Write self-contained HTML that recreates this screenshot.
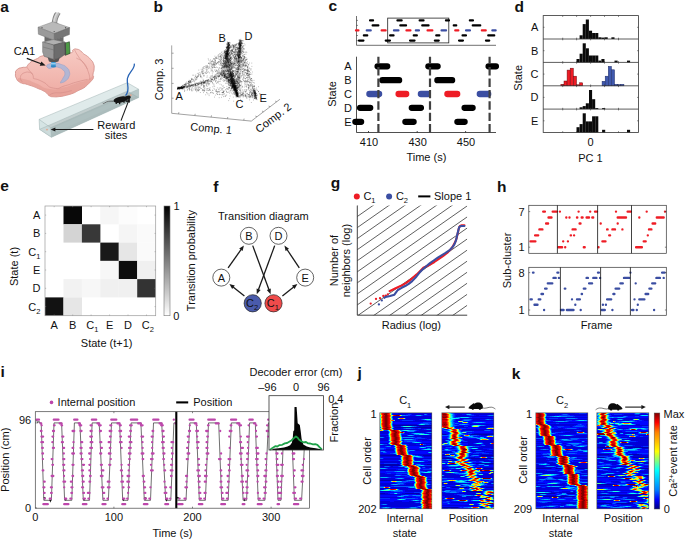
<!DOCTYPE html><html><head><meta charset="utf-8"><title>fig</title><style>html,body{margin:0;padding:0;background:#fff}svg{display:block}text{font-family:"Liberation Sans",sans-serif}</style></head><body>
<svg width="685" height="540" viewBox="0 0 685 540" font-family="Liberation Sans, sans-serif" font-size="11" fill="#111">
<rect width="685" height="540" fill="#fff"/>
<text x=".3" y="11.8" font-size="15.5" font-weight="bold">a</text>
<defs><linearGradient id="brg" x1="0" y1="0" x2="0" y2="1"><stop offset="0" stop-color="#f7cbc4"/><stop offset="1" stop-color="#eeaaa2"/></linearGradient><linearGradient id="cab" x1="0" y1="0" x2="1" y2="0"><stop offset="0" stop-color="#777"/><stop offset=".5" stop-color="#c4c4c4"/><stop offset="1" stop-color="#777"/></linearGradient></defs>
<clipPath id="brc"><path d="M15.5 73.5C15.7 70.4 15.1 71.5 17.2 69.6C19.3 67.6 18.8 68.5 21.8 67.6C24.9 66.7 24.2 68 26.4 66.9C28.6 65.8 26.4 66.3 28.4 64.3C30.4 62.3 29.3 63 32.3 61C35.4 59.1 34.1 60.1 37.6 58.4C41.1 56.6 37.2 57.2 42.8 55.8C48.5 54.4 45.7 55.1 54.7 54.2C63.7 53.3 63.7 54.6 69.8 53.1C75.9 51.7 70.7 51.2 73.1 49.9C75.5 48.5 74.4 48.8 77 49.2C79.6 49.6 78.8 49.6 80.9 51.2C83.1 52.7 81.4 52 83.6 53.8C85.8 55.5 85.1 54.5 87.5 56.4C89.9 58.4 88.8 57.3 90.8 59.7C92.8 62.1 92.3 60.6 93.4 63.6C94.5 66.7 94.2 65.4 94.1 68.9C94 72.4 93.3 71.3 93 74.2C92.8 77 94 75.3 93.4 77.4C92.9 79.6 93 78.8 91.5 80.7C89.9 82.7 90.4 81.8 88.8 83.4C87.3 84.9 88.6 83.8 86.9 85.3C85.1 86.9 86.4 86.2 83.6 88C80.7 89.7 81.8 88.8 78.3 90.6C74.8 92.3 77 91.7 73.1 93.2C69.1 94.7 70.9 94.1 66.5 95.2C62.1 96.3 64.3 96 59.9 96.5C55.5 97 56.9 97 53.4 96.8C49.9 96.5 51.6 97 49.4 95.8C47.2 94.7 49 95 46.8 93.2C44.6 91.5 45.7 92.1 42.8 90.6C40 89.1 41.3 89.9 38.2 88.6C35.2 87.3 36.5 87.7 33.6 86.6C30.8 85.5 32.3 86.2 29.7 85.3C27.1 84.5 28.2 84.7 25.8 84C23.4 83.4 24.7 84.1 22.5 83.4C20.3 82.6 21.2 83.3 19.2 81.8C17.2 80.2 17.8 81.5 16.6 78.8C15.3 76 15.3 76.6 15.5 73.5Z"/></clipPath>
<path d="M15.5 73.5C15.7 70.4 15.1 71.5 17.2 69.6C19.3 67.6 18.8 68.5 21.8 67.6C24.9 66.7 24.2 68 26.4 66.9C28.6 65.8 26.4 66.3 28.4 64.3C30.4 62.3 29.3 63 32.3 61C35.4 59.1 34.1 60.1 37.6 58.4C41.1 56.6 37.2 57.2 42.8 55.8C48.5 54.4 45.7 55.1 54.7 54.2C63.7 53.3 63.7 54.6 69.8 53.1C75.9 51.7 70.7 51.2 73.1 49.9C75.5 48.5 74.4 48.8 77 49.2C79.6 49.6 78.8 49.6 80.9 51.2C83.1 52.7 81.4 52 83.6 53.8C85.8 55.5 85.1 54.5 87.5 56.4C89.9 58.4 88.8 57.3 90.8 59.7C92.8 62.1 92.3 60.6 93.4 63.6C94.5 66.7 94.2 65.4 94.1 68.9C94 72.4 93.3 71.3 93 74.2C92.8 77 94 75.3 93.4 77.4C92.9 79.6 93 78.8 91.5 80.7C89.9 82.7 90.4 81.8 88.8 83.4C87.3 84.9 88.6 83.8 86.9 85.3C85.1 86.9 86.4 86.2 83.6 88C80.7 89.7 81.8 88.8 78.3 90.6C74.8 92.3 77 91.7 73.1 93.2C69.1 94.7 70.9 94.1 66.5 95.2C62.1 96.3 64.3 96 59.9 96.5C55.5 97 56.9 97 53.4 96.8C49.9 96.5 51.6 97 49.4 95.8C47.2 94.7 49 95 46.8 93.2C44.6 91.5 45.7 92.1 42.8 90.6C40 89.1 41.3 89.9 38.2 88.6C35.2 87.3 36.5 87.7 33.6 86.6C30.8 85.5 32.3 86.2 29.7 85.3C27.1 84.5 28.2 84.7 25.8 84C23.4 83.4 24.7 84.1 22.5 83.4C20.3 82.6 21.2 83.3 19.2 81.8C17.2 80.2 17.8 81.5 16.6 78.8C15.3 76 15.3 76.6 15.5 73.5Z" fill="url(#brg)" stroke="#cf8a84" stroke-width=".8"/>
<path d="M17.9 79.4C17.9 76.8 19.6 78.1 25.8 79.4C31.9 80.7 28.4 80.2 36.3 83.4C44.2 86.5 40.7 87.5 49.4 88.9C58.2 90.3 53.8 89.4 62.6 87.6C71.3 85.7 66.9 86.2 75.7 83.4C84.5 80.5 82.3 82.4 88.8 78.9C95.4 75.4 92.8 71.4 95.4 72.8C98 74.3 100.7 76.8 96.7 83.4C92.8 89.9 95.8 87.3 83.6 92.6C71.3 97.8 73.5 98.2 59.9 99.1C46.4 100 54.2 99.1 42.8 95.2C31.5 91.2 34.1 92.6 25.8 87.3C17.4 82 17.9 82 17.9 79.4Z" fill="#e29a92" fill-opacity=".55" clip-path="url(#brc)"/>
<path d="M26.8 67.1C27.8 68.4 27.8 68.6 29.7 71C31.6 73.5 31.4 72 32.6 74.4C33.8 76.9 33.1 77.1 33.4 78.4" fill="none" stroke="#d28c86" stroke-width=".6"/>
<path d="M21 75.2C22.1 74.4 21.4 73.8 24.2 72.8C27 71.9 26.6 71.8 29.4 72.3C32.2 72.8 31.5 73.7 32.6 74.4" fill="none" stroke="#d28c86" stroke-width=".6"/>
<path d="M21 75.2C20.9 76.4 20 76.6 20.5 78.9C21 81.2 21.9 81 22.6 82" fill="none" stroke="#d28c86" stroke-width=".6"/>
<path d="M33.4 78.4C36.5 79.5 36.2 78.5 42.8 81.8C49.5 85 45.9 86.8 53.4 88.1C60.8 89.4 57.7 87.7 65.2 85.7C72.6 83.8 68.2 84.4 75.7 82.3C83.1 80.2 83.6 80.4 87.5 79.4" fill="none" stroke="#d28c86" stroke-width=".6"/>
<path d="M74.6 50C76 52.3 75.3 51.9 78.6 56.8C81.9 61.7 81.3 59.4 84.6 64.7C88 70 86.8 67.8 88.6 72.8C90.3 77.9 89.4 77.6 89.9 79.9" fill="none" stroke="#d28c86" stroke-width=".6"/>
<path d="M76.4 58.1C78.6 59.5 79.3 58.7 83.1 62.3C86.8 66 86 66.9 87.5 69.2" fill="none" stroke="#d28c86" stroke-width=".6"/>
<path d="M49.4 95.8C50.7 95 49 94.3 53.4 93.2C57.7 92.1 56.4 93.4 62.6 92.6C68.7 91.7 68.7 91.2 71.8 90.6" fill="none" stroke="#d28c86" stroke-width=".6"/>
<path d="M46.8 65.6C47.3 64.5 47.1 64.7 49.4 63.9C51.8 63.2 51.1 63 54.7 63.1C58.2 63.3 57.7 63.2 61.2 64.4C64.8 65.7 64.1 65.1 66.5 67.3C68.9 69.5 68.7 69 69.4 71.8C70.1 74.6 69.9 74.1 68.9 76.8C67.8 79.5 68 78.9 65.8 80.7C63.6 82.5 63 82.4 61.5 82.8C60 83.2 60.3 83.4 60.7 82C61.1 80.7 61.6 81 62.8 78.4C64.1 75.8 65 76 64.9 73.4C64.8 70.8 64.4 71.4 62.6 69.7C60.7 68 61.3 68.4 58.9 67.6C56.4 66.8 57 66.8 54.4 67.1C51.8 67.3 52.3 68.2 50.2 68.4C48.2 68.5 48.6 68.4 47.6 67.6C46.6 66.8 46.2 66.7 46.8 65.6Z" fill="#a7b5d9" fill-opacity=".85" stroke="#8d9dc9" stroke-width=".5"/>
<path d="M54.4,25 C54.4,21 55.2,16.5 58.4,12.2" fill="none" stroke="#858585" stroke-width="5.4"/>
<path d="M54.4,25 C54.4,21 55.2,16.5 58.4,12.2" fill="none" stroke="#bdbdbd" stroke-width="3.6"/>
<path d="M53.7,25 C53.7,21 54.5,16.5 57.7,12" fill="none" stroke="#d8d8d8" stroke-width="1.3"/>
<rect x="52" y="9" width="12" height="3.4" fill="#fff"/>
<ellipse cx="54.6" cy="24.6" rx="3.9" ry="1.9" fill="#c9c9c9" stroke="#777" stroke-width=".5"/>
<polygon points="38,27.2 53,21.8 69.6,27.6 54.4,33.6" fill="#b9b9b9" stroke="#777" stroke-width=".4"/>
<polygon points="38,27.2 54.4,33.6 54.4,40.4 38.4,34.2" fill="#9a9a9a" stroke="#666" stroke-width=".4"/>
<polygon points="54.4,33.6 69.6,27.6 69.4,34.6 54.4,40.4" fill="#767676" stroke="#555" stroke-width=".4"/>
<circle cx="42" cy="27.6" r=".7" fill="#555"/><circle cx="65.6" cy="27.8" r=".7" fill="#555"/><circle cx="54.2" cy="31.6" r=".7" fill="#555"/>
<polygon points="44.5,36.5 54,40.2 63.5,36.8 63.5,42.5 54,46 44.5,42.5" fill="#6a6a6a"/>
<polygon points="42.6,42 53.2,39.6 64.8,42 53.9,45" fill="#b0b0b0" stroke="#666" stroke-width=".4"/>
<polygon points="42.6,42 53.9,45 53.9,59.4 44.2,56.4 42.6,52" fill="#979797" stroke="#5a5a5a" stroke-width=".4"/>
<polygon points="53.9,45 64.8,42 64.8,54.6 60,58 53.9,59.4" fill="#6c6c6c" stroke="#505050" stroke-width=".4"/>
<line x1="43" y1="47" x2="53.9" y2="50" stroke="#6a6a6a" stroke-width=".5"/>
<polygon points="65,43.2 69.4,41.8 70,53.4 65.4,55.2" fill="#4c9a45" stroke="#2c4a2c" stroke-width=".7"/>
<polygon points="64.6,42.4 65.8,42.2 66.2,55 64.8,55.4" fill="#4a4a4a"/>
<polygon points="47.6,57.2 54,59.4 59.8,57.6 58.4,61.6 53.6,62.8 49,61.4" fill="#555"/>
<rect x="51" y="62" width="4.8" height="4.6" rx="1" fill="#3f9bd6"/>
<rect x="51" y="63.3" width="4.8" height="1" fill="#bfe2f6"/>
<ellipse cx="53.4" cy="66.4" rx="2.6" ry="1" fill="#2f86c4"/>
<text x="13.7" y="54.7">CA1</text>
<line x1="26.8" y1="58.4" x2="41" y2="63.8" stroke="#1a1a1a" stroke-width="1.2"/>
<polygon points="45.6,65.6 39.8,65.7 41.3,61.6" fill="#1a1a1a"/>
<polygon points="39.1,119.4 127.2,82.7 138.6,89.2 138.6,97.6 51.4,137.3 39.6,129.4" fill="#dfeaea"/>
<polygon points="39.6,129.4 127.2,91.2 138.6,97.6 51.4,137.3" fill="#c2cdcd"/>
<polygon points="45,131.6 131,94.2 135.5,96.6 49.5,135" fill="#cbd7d7"/>
<polygon points="50.7,127.7 138.6,89.2 138.6,97.6 51.4,137.3" fill="#9db0b0" fill-opacity=".6"/>
<polygon points="39.1,119.4 50.7,127.7 51.4,137.3 39.6,129.4" fill="#cfe0e0" fill-opacity=".6"/>
<g fill="none" stroke="#9fb2b2" stroke-width=".5"><polygon points="39.1,119.4 127.2,82.7 138.6,89.2 138.6,97.6 51.4,137.3 39.6,129.4"/><polyline points="39.1,119.4 50.7,127.7 138.6,89.2"/><polyline points="50.7,127.7 51.4,137.3"/><polyline points="39.6,129.4 127.2,91.2 138.6,97.6"/><polyline points="127.2,82.7 127.2,91.2"/></g>
<circle cx="47" cy="129.6" r=".9" fill="#e4a58c"/><circle cx="130.8" cy="95.2" r=".9" fill="#e4a58c"/>
<path d="M134.3,63.6 C135.3,69 128.6,72 127.4,78.5 C126.3,85 130.8,89 125.6,95.6" fill="none" stroke="#2763b5" stroke-width="1.3"/>
<path d="M113.6,101.4 C110,100.6 107,101.4 104.6,103 C103.6,103.6 103,103.4 102.6,102.8" fill="none" stroke="#333" stroke-width=".6"/>
<g fill="#141414"><ellipse cx="120.6" cy="99.6" rx="7.2" ry="3" transform="rotate(-12 120.6 99.6)"/><ellipse cx="127.8" cy="97.6" rx="3" ry="1.9" transform="rotate(-15 127.8 97.6)"/><rect x="115.6" y="100.8" width="1.3" height="3.2"/><rect x="119" y="101" width="1.3" height="3.2"/><rect x="123.4" y="100" width="1.2" height="2.8"/><rect x="125.6" y="99.4" width="1.2" height="2.6"/></g>
<text x="116.3" y="129.3" text-anchor="middle">Reward</text>
<text x="116" y="139.4" text-anchor="middle">sites</text>
<line x1="93.4" y1="129.5" x2="54.9" y2="129.5" stroke="#1a1a1a" stroke-width="1.1"/>
<polygon points="50.6,129.5 55.4,127.6 55.4,131.4" fill="#1a1a1a"/>
<line x1="121" y1="120.6" x2="128.3" y2="101.6" stroke="#1a1a1a" stroke-width="1.1"/>
<polygon points="129.9,97.6 129.9,102.8 126.4,101.4" fill="#1a1a1a"/>
<text x="153.6" y="11.8" font-size="15.5" font-weight="bold">b</text>
<g stroke="#8c8c8c" stroke-width=".8" fill="none">
<polyline points="171.7,45.4 171.7,113.3 251.3,121.1 279.9,99.3"/>
<line x1="171.7" y1="53.2" x2="173.6" y2="53.2"/>
<line x1="171.7" y1="68.3" x2="173.6" y2="68.3"/>
<line x1="171.7" y1="83.4" x2="173.6" y2="83.4"/>
<line x1="171.7" y1="98.2" x2="173.6" y2="98.2"/>
<line x1="178.5" y1="114" x2="178.9" y2="112.2"/>
<line x1="194.8" y1="115.6" x2="195.2" y2="113.8"/>
<line x1="211.1" y1="117.2" x2="211.5" y2="115.4"/>
<line x1="227.4" y1="118.8" x2="227.8" y2="117"/>
<line x1="243.7" y1="120.4" x2="244.1" y2="118.6"/>
<line x1="257" y1="116.7" x2="255.4" y2="116.1"/>
<line x1="263.6" y1="111.7" x2="262" y2="111.1"/>
<line x1="270.2" y1="106.7" x2="268.6" y2="106.1"/>
<line x1="276.8" y1="101.7" x2="275.2" y2="101.1"/>
</g>
<text x="163.2" y="79.5" text-anchor="middle" transform="rotate(-90 163.2 79.5)">Comp. 3</text>
<text x="210.8" y="132.2" text-anchor="middle" transform="rotate(5.6 210.8 132.2)">Comp. 1</text>
<text x="275.6" y="120.8" text-anchor="middle" transform="rotate(-37.3 275.6 120.8)">Comp. 2</text>
<text x="175.4" y="100">A</text>
<text x="218.6" y="42.2">B</text>
<text x="244.6" y="40.3">D</text>
<text x="235.6" y="107.8">C</text>
<text x="259.6" y="102">E</text>
<path d="M178.6 87.7h.01M179 88h.01M177.5 88.3h.01M182.8 87.5h.01M178.2 87.7h.01M179 88.3h.01M180.9 87.5h.01M177.6 88.4h.01M178.2 88.4h.01M178.8 88.3h.01M179.6 87.5h.01M180.8 87.8h.01M185.8 86.6h.01M181.5 87.8h.01M179.3 88.6h.01M179.4 87.8h.01M184.5 86.8h.01M178.7 88h.01M184.6 86.8h.01M180.9 87.4h.01M177.3 89.4h.01M182.4 87.6h.01M178.7 88.7h.01M177.7 88.2h.01M178.2 88.1h.01M181.4 88h.01M178.1 89.5h.01M182.3 88.2h.01M177.6 88.9h.01M182.1 88.5h.01M178.2 89.1h.01M178.7 88.4h.01M177.6 88.2h.01M180.3 88.1h.01M183.9 86.8h.01M183.4 87.3h.01M184 86.6h.01M178.1 87.3h.01M179.1 88h.01M180.5 87.9h.01M178.1 88.3h.01M181.5 88.4h.01M180.5 88.1h.01M182 87.7h.01M180.7 87.4h.01M178.8 88.1h.01M177.7 88.9h.01M178 88.8h.01M180.7 88.2h.01M184.3 86.9h.01M181.2 87.5h.01M178.8 88.5h.01M181.6 87.5h.01M180.2 87.8h.01M178.9 88.2h.01M180.1 86.9h.01M181.7 86.7h.01M183.5 87.5h.01M184 86.6h.01M182.8 86.9h.01M180.4 88.1h.01M181.3 88.1h.01M185.4 86.1h.01M179.1 87.5h.01M179.5 87.9h.01M182.6 87.6h.01M179.8 88.7h.01M179.1 87.3h.01M178.8 88.3h.01M181.4 87.9h.01M183.5 86.5h.01M183.3 87.6h.01M177.5 88.7h.01M184.2 86.6h.01M180.4 88h.01M180.3 87.2h.01M182 87.4h.01M177.8 88.5h.01M177.7 88.6h.01M179.5 88.8h.01M184.6 86.7h.01M177.9 88.3h.01M181.3 87.4h.01M182.7 87.4h.01M180.4 88.2h.01M178.4 88.4h.01M180.3 87.9h.01M181.5 86.6h.01M181.5 88.1h.01M178.7 88.4h.01M181.8 87.9h.01M178.7 87.7h.01M180.8 87.3h.01M182.6 87.2h.01M184.1 86.6h.01M178.8 87.3h.01M178.2 87.8h.01M183 87.1h.01M181.3 88.4h.01M182.3 86.7h.01M179.3 87.6h.01M183.9 86.5h.01M179.5 87.7h.01M179.3 88.4h.01M180.3 87.4h.01M177.9 88.2h.01M182.7 87.7h.01M182.6 87.5h.01M179.8 87.1h.01M181.9 87.4h.01M221.4 75.3h.01M202.8 83.4h.01M206.5 80.4h.01M204.2 82.5h.01M217.1 76.7h.01M217.9 76.7h.01M205.3 82.5h.01M201.9 82.6h.01M220.6 74.4h.01M213.8 77.5h.01M211 80.2h.01M199.4 83.6h.01M191.2 85.8h.01M199.5 82.5h.01M200.7 83.5h.01M207.4 80.8h.01M214.4 78.3h.01M189.3 85.8h.01M195.2 84.5h.01M212.5 79.8h.01M190.8 86.5h.01M198.6 84.1h.01M203.4 82.7h.01M207 80.1h.01M215.5 75.8h.01M189.7 85.2h.01M218.6 76.6h.01M220.4 78.8h.01M218.7 76.7h.01M211.6 79.5h.01M214.7 78h.01M184.2 87.5h.01M179.7 88.6h.01M219.7 75.6h.01M202.2 81.9h.01M210 80.2h.01M184.3 87.5h.01M202.2 82.4h.01M187.8 87.4h.01M222.8 73.9h.01M182.1 87.6h.01M212.8 79.3h.01M201.7 82.9h.01M179.1 87.5h.01M186.7 86.8h.01M197.8 84.4h.01M203.8 82.7h.01M214.3 76.2h.01M206.7 81.4h.01M203.3 82.6h.01M191.7 85.4h.01M214.1 77.5h.01M219.7 75h.01M213.4 77.6h.01M212.1 79.6h.01M201.1 83.3h.01M207.5 80.3h.01M220.2 74.3h.01M207.9 79.9h.01M197.8 84.3h.01M210.7 77.4h.01M179.4 87.7h.01M190.7 85.9h.01M187.9 86.6h.01M191.1 85.6h.01M203.1 82.5h.01M221.4 72.6h.01M181.9 87.2h.01M181.1 87.8h.01M201 83.8h.01M208.4 81.7h.01M197.5 83.7h.01M195.7 85.4h.01M204.3 83h.01M193.1 85.4h.01M181.1 88.4h.01M197.7 83.7h.01M182 87.7h.01M182.6 87.4h.01M201.4 83h.01M203.9 82h.01M201.6 83.1h.01M207.2 81.9h.01M200 83.6h.01M203.6 82.9h.01M208.6 80.3h.01M204.4 82.2h.01M204.9 82.3h.01M212 79.4h.01M218.8 74.8h.01M195.5 85.5h.01M203.9 81.3h.01M213 79.3h.01M223.7 73.3h.01M180.9 88h.01M198.3 83.6h.01M204 82.3h.01M208.5 79.7h.01M195.8 84.5h.01M194.8 83.8h.01M182.8 88.1h.01M207.3 80.4h.01M198.5 84.9h.01M195 83.1h.01M193.2 84.8h.01M218.8 75.9h.01M183.5 87.3h.01M182.3 87.4h.01M209.5 81.2h.01M182.5 88.1h.01M182.4 88.1h.01M210.2 80.2h.01M195.4 84.1h.01M184.2 86.7h.01M221.5 74.8h.01M199.3 83.1h.01M192.7 85.9h.01M218.6 76.9h.01M195.5 85h.01M197.1 85h.01M213 77.5h.01M205.2 82.9h.01M218 76.5h.01M201.7 82.3h.01M220.4 73.2h.01M181.2 87.5h.01M183.3 87.8h.01M219.9 76.6h.01M185.6 86.4h.01M190.5 86.8h.01M202.9 81.8h.01M195.4 84.7h.01M200.6 82.6h.01M211.6 79.1h.01M214.9 75.9h.01M215.9 76.2h.01M220.4 73.9h.01M211.2 78.7h.01M198.9 84.7h.01M222 74.5h.01M188.1 86.6h.01M222.4 74.8h.01M183.8 86.7h.01M187.7 86.8h.01M205.7 81.4h.01M184 87.6h.01M189.8 85.4h.01M189.5 86.6h.01M187 86.3h.01M204.3 81.3h.01M191.9 85.1h.01M193.5 84.5h.01M201.1 83.2h.01M221 74.1h.01M202.5 82.3h.01M222 73.5h.01M178.9 88.2h.01M214.3 76.8h.01M186.4 87.2h.01M191.4 85.4h.01M208.4 80.7h.01M204.1 83.2h.01M179 87.6h.01M216.2 77.8h.01M212 79.9h.01M201.3 83h.01M216.5 78.3h.01M198.4 83.8h.01M216.1 78.4h.01M203.7 83.5h.01M193.2 85.8h.01M190.9 85.8h.01M195.3 84h.01M193.1 85.2h.01M215.7 77h.01M196.1 83.3h.01M204.4 81.9h.01M223.1 72.2h.01M206.4 83h.01M203.1 83.9h.01M196.4 83.2h.01M188.1 85.4h.01M216.5 73.3h.01M194.6 84.4h.01M186.8 87.9h.01M211.8 81.6h.01M215.3 76.6h.01M189.8 86.7h.01M201.1 85.7h.01M196.2 83.6h.01M214.3 76.3h.01M194.1 85.1h.01M196 79.7h.01M212.5 75.2h.01M179.2 88.7h.01M210.1 81.8h.01M203.1 79.3h.01M208.7 84.1h.01M216.5 75.1h.01M203.7 85h.01M217.8 73.7h.01M218.2 83h.01M207.7 81.7h.01M188.5 85h.01M195.5 84.4h.01M203.6 86.6h.01M186.3 86.3h.01M203.1 81.3h.01M224.1 75.5h.01M209.1 83.9h.01M193.2 84.9h.01M205.7 80.6h.01M204.4 82.3h.01M190.1 86.4h.01M207.6 83.4h.01M209.8 81.1h.01M216.5 78h.01M201.6 84.6h.01M206 83.9h.01M190.1 85.3h.01M211.1 81.4h.01M187.1 86.6h.01M198.4 84.5h.01M210.3 76.1h.01M204.7 82.9h.01M214.7 78.3h.01M206.8 80.4h.01M199.2 84.1h.01M196 85.9h.01M218.4 72.4h.01M211.6 81.7h.01M182.8 88.4h.01M201.5 83.1h.01M208.7 79.5h.01M192.3 85.9h.01M184.1 86.4h.01M210.6 78.5h.01M215.6 81.8h.01M205.5 81.3h.01M216.5 80.1h.01M222.9 74.9h.01M192.6 85.8h.01M219.7 73.6h.01M195 84.4h.01M180.8 87.5h.01M206.4 80.8h.01M201.1 84.6h.01M221.1 74.4h.01M214.5 79.4h.01M189.7 84.1h.01M187.8 85.8h.01M219.2 76.7h.01M209.7 83.8h.01M217.2 75.2h.01M212.6 78.8h.01M182.6 88.4h.01M211.4 80.8h.01M188.7 84.1h.01M194.5 81.7h.01M206 83.1h.01M218.8 73.5h.01M213.1 83.9h.01M197.2 83.2h.01M180.3 87.4h.01M190.8 85.4h.01M192.2 84.5h.01M191.1 85.3h.01M219.4 76h.01M200.2 81.6h.01M218.3 75.4h.01M203.2 80.5h.01M209.3 77.8h.01M203.7 80.4h.01M203.9 82.1h.01M215.5 81.1h.01M187.8 86.9h.01M214.6 76.4h.01M201.8 85.3h.01M204.2 83.3h.01M207 77.3h.01M187.4 86.8h.01M199.9 83.6h.01M191.3 85.3h.01M216 74.4h.01M214.5 79.4h.01M194.6 85.6h.01M205.5 80.7h.01M208.9 83.4h.01M186.9 87.4h.01M212 76.4h.01M181.3 86.8h.01M190.2 81.6h.01M203.6 66.9h.01M184.6 84.4h.01M180.8 88.5h.01M185.4 84.5h.01M200.5 75h.01M226.3 46.9h.01M190.5 82.8h.01M188.3 81.6h.01M194.9 80.6h.01M211 68.5h.01M212.6 67.2h.01M214.8 62.3h.01M218.3 57.6h.01M215.7 62.1h.01M189.4 82.3h.01M206.7 71.4h.01M188.8 82h.01M203.8 73.8h.01M220.9 60.6h.01M182.2 85.4h.01M193.6 79.9h.01M189.8 82h.01M213.3 66.2h.01M187.5 83.3h.01M214.9 56.2h.01M179.5 88.2h.01M183.6 85.3h.01M215.2 61.6h.01M198.6 76.3h.01M186.3 83.6h.01M193 79.4h.01M185.6 83.5h.01M213.4 62.3h.01M188.9 83.8h.01M196.6 77.6h.01M190 82.4h.01M190.1 81.8h.01M206 65.5h.01M223.6 57.6h.01M223.5 60h.01M216 64.5h.01M190.4 80.7h.01M199.8 75h.01M197.2 77.8h.01M193.7 80.8h.01M203.9 75.3h.01M191.9 81.6h.01M201.3 76.7h.01M209.4 63.2h.01M179.4 87.9h.01M181.8 86.5h.01M201.6 71.1h.01M195.3 78.4h.01M197.8 76.2h.01M191.7 79.5h.01M198.8 70.1h.01M193.8 75.2h.01M213.6 59h.01M198.3 75.9h.01M220.7 57.4h.01M223.7 56.3h.01M203.3 73.5h.01M226.3 54.7h.01M190.1 80.5h.01M178.2 88h.01M189.2 81h.01M204.1 68.4h.01M221.2 58.7h.01M197.3 76.6h.01M212.4 60.3h.01M225.3 51.9h.01M206.5 67.7h.01M196.8 79.2h.01M205.4 72.3h.01M196 79.7h.01M185.6 84.6h.01M183.9 84.8h.01M201.7 71.8h.01M188.5 81.8h.01M181.5 87.5h.01M213.9 63.3h.01M191.4 79.5h.01M195.8 75h.01M216 58.1h.01M209.9 61h.01M219.3 62.3h.01M211.7 67.2h.01M178.1 87h.01M228 56.9h.01M198.7 73.7h.01M224.1 54.8h.01M214.1 64.5h.01M192.8 75.2h.01M184.8 84.9h.01M203.7 70.7h.01M195.3 76.1h.01M191.7 80.7h.01M218.4 61.6h.01M208.5 63.5h.01M186.5 84.3h.01M223.2 58.4h.01M184.9 84.8h.01M208.6 71.9h.01M192.9 81.3h.01M197.2 77.3h.01M182.6 85.9h.01M183.2 86.8h.01M227.8 58.3h.01M200 74.4h.01M200.6 76.5h.01M209.6 64.9h.01M229.9 47.2h.01M202.4 71.6h.01M188.4 83.1h.01M185.6 85.1h.01M214.2 65.3h.01M179.6 89.4h.01M178.1 87.7h.01M216.8 58.1h.01M219.7 56.3h.01M231.7 57.3h.01M198.7 74.3h.01M226.1 56.5h.01M189.5 82.1h.01M211.8 64.1h.01M209 68.4h.01M221.4 57.3h.01M195.7 76.8h.01M211.2 61.7h.01M188.3 83.3h.01M196.3 77.4h.01M202.4 72.9h.01M206.7 70.3h.01M218.8 61.6h.01M185.3 85h.01M225 56.8h.01M214.1 66h.01M213.9 64.7h.01M186.1 85.3h.01M185.7 83.1h.01M211.1 69.8h.01M223.8 53.6h.01M203 71.5h.01M217.9 56.1h.01M209.3 67h.01M189.2 80.3h.01M207.1 72.1h.01M199.2 72.6h.01M225.1 57.8h.01M225.5 49.5h.01M217.2 62.9h.01M226.5 64h.01M203.6 76h.01M214.6 64.8h.01M208.7 60h.01M182.9 85.4h.01M192 79.3h.01M206.3 69.7h.01M192.7 79.2h.01M206.8 67.7h.01M191.9 78.6h.01M210.6 59.9h.01M218.7 62.7h.01M184.7 85.5h.01M221 56.6h.01M186.5 84.1h.01M209.8 67.2h.01M226.7 56.9h.01M220.5 55.4h.01M211.1 65.9h.01M195.1 79.6h.01M191.3 78.4h.01M189.2 84h.01M202.7 73.9h.01M221.3 52.7h.01M190.5 82.3h.01M213.2 64.7h.01M200.7 77.2h.01M200.8 73.1h.01M197.3 73.4h.01M196 76.4h.01M206.5 73.4h.01M194.6 77.8h.01M203.2 72.9h.01M212.6 61.1h.01M181.5 86.6h.01M202.3 73.7h.01M211.8 63.1h.01M201.9 77.8h.01M190.6 81.1h.01M220.5 56.7h.01M209.4 72.9h.01M182.8 86.2h.01M212.8 61.6h.01M222.3 56.2h.01M207.8 67.5h.01M200.9 75.8h.01M214.5 67h.01M220.9 56h.01M208.2 58.8h.01M181.4 86.5h.01M212.3 73.1h.01M189 82.4h.01M198.6 75.1h.01M186.5 82.1h.01M214.7 67.5h.01M214.5 62h.01M205.8 73.5h.01M234.4 93.6h.01M197 89.3h.01M185.5 87.6h.01M210.4 92.8h.01M187.6 89.5h.01M196.1 88.2h.01M204.2 90.6h.01M202.9 89.6h.01M233.3 97.1h.01M189.3 88.5h.01M199.4 87.5h.01M234.5 94.5h.01M188.6 86.9h.01M222.2 95.1h.01M181 88.8h.01M230.8 89h.01M181 88.6h.01M196.7 91.7h.01M195.3 89.9h.01M234.5 92.2h.01M209.8 89.4h.01M196.1 88.2h.01M198.3 90.8h.01M197.8 90.7h.01M181.8 88.1h.01M207.3 90.2h.01M192.9 90h.01M195.8 89.7h.01M222.1 92.5h.01M202.7 90.1h.01M215.7 90.7h.01M212.2 92.9h.01M212.4 90.3h.01M204.1 90.3h.01M182.5 88.8h.01M195 87.7h.01M226.7 94.9h.01M225.2 96h.01M225.9 95.6h.01M227.6 88.7h.01M182.1 88.1h.01M209.6 89.6h.01M222.1 92.5h.01M222.4 92.3h.01M217.9 94.5h.01M237.3 93.7h.01M219.6 94.6h.01M198.9 90.6h.01M184.8 90.5h.01M184.4 89.8h.01M216.3 91.4h.01M184.5 91.5h.01M212.9 90.3h.01M199.2 89.3h.01M186.9 87.7h.01M179.7 88.7h.01M220.9 90.5h.01M215.3 95.1h.01M184.8 87.9h.01M213.6 93.5h.01M187.2 90.3h.01M206.8 92.8h.01M225.2 96.5h.01M208.7 90.3h.01M219.6 94.2h.01M219.4 91.3h.01M182.9 87.5h.01M216.9 93.8h.01M216.6 90.3h.01M203.8 90.6h.01M224.7 94h.01M233 94.3h.01M209.8 90.5h.01M189.7 88.1h.01M230.1 96h.01M192.1 90.9h.01M217.5 94.4h.01M217.3 87.9h.01M214.5 97.1h.01M219.2 97.7h.01M220.9 94.5h.01M179.2 88.1h.01M195.8 90.4h.01M206.8 92.4h.01M191.6 89.2h.01M189.7 86.8h.01M210.3 90.3h.01M207.1 86.5h.01M223.9 93.7h.01M229.4 98.6h.01M191 89.6h.01M224.5 91.1h.01M210.7 92.6h.01M240.4 99.4h.01M222.3 94.3h.01M184.1 88.4h.01M233.7 101.2h.01M182.1 88.1h.01M177.9 87.1h.01M221.7 88.2h.01M211.7 92.2h.01M188.2 88.7h.01M209 94h.01M202.3 90.3h.01M201.6 88.5h.01M212.9 92.6h.01M197.1 85.6h.01M243.3 91.9h.01M229.4 93.1h.01M204.5 88.8h.01M210 87.6h.01M180.9 88.2h.01M182.1 89.6h.01M235.4 94.3h.01M225.7 89.6h.01M212.8 86.8h.01M180.2 88.9h.01M237.4 91.2h.01M198.2 90h.01M223.4 96.6h.01M207.7 93.9h.01M205.7 94.8h.01M189.6 89.8h.01M207.1 88.6h.01M192 88.2h.01M209.1 95.6h.01M189.6 90.1h.01M197.6 87h.01M223.6 92.5h.01M223.3 94.7h.01M204.9 90h.01M204.4 86.8h.01M203.6 92.6h.01M221.6 97.3h.01M200.3 92.5h.01M216.7 93.2h.01M178.6 88.3h.01M183 88.1h.01M193.4 86.5h.01M228.7 100.6h.01M186.3 85.7h.01M191.4 90.6h.01M229 85.6h.01M204.5 91.2h.01M195.3 89.2h.01M189.3 89.3h.01M197 90.4h.01M206.6 90.1h.01M216.1 91.4h.01M183.5 89h.01M224.9 62.6h.01M226.5 64.9h.01M224.9 65.2h.01M225.5 53.1h.01M225.9 55.9h.01M227.6 53.3h.01M226.2 57.9h.01M225.6 74h.01M225.7 69.8h.01M224.4 56.7h.01M225.5 64.6h.01M226.2 68.1h.01M224.7 62.3h.01M225.4 62.3h.01M225.7 54h.01M224.1 63h.01M227.5 57.5h.01M227.6 54.9h.01M227.2 63.1h.01M223.6 68.8h.01M228.4 65.4h.01M227.2 70h.01M222.5 65.9h.01M225.8 53.7h.01M220.8 73.9h.01M224.5 60.3h.01M220.6 72.1h.01M227.6 60.1h.01M228.4 66.6h.01M226.1 65.6h.01M226.5 67.2h.01M220.6 63.4h.01M223.9 63.9h.01M225.5 55.7h.01M224.9 74.2h.01M230.3 56.2h.01M227.1 56.7h.01M227.1 55.6h.01M226.4 57.5h.01M228.9 54.2h.01M225.5 64h.01M229.1 53.3h.01M222.6 71.6h.01M228.2 51.6h.01M222.6 66.5h.01M226.8 51.9h.01M229.7 59.6h.01M227.4 54.2h.01M228.4 61h.01M224.1 64.9h.01M225.3 77.3h.01M221.9 66h.01M224.9 59h.01M225.6 71.3h.01M227.8 58.8h.01M228.2 53.1h.01M224.6 50.7h.01M226 58.5h.01M225.1 63h.01M225.3 54.9h.01M226.6 59.1h.01M226 63.3h.01M225.4 73.2h.01M228.3 62h.01M223.9 66.2h.01M226.4 63.8h.01M223.9 61.8h.01M223 58.8h.01M227.1 56.2h.01M226.5 51.9h.01M227.5 57.8h.01M225.4 65.3h.01M225.3 61h.01M225.7 58.3h.01M227 66.4h.01M227.6 52.8h.01M222.8 76.3h.01M226.7 66.4h.01M225.8 60h.01M225.2 57.9h.01M222.8 71.7h.01M222.7 72.9h.01M221.1 74.2h.01M228 70.4h.01M224 62.9h.01M228.2 53.2h.01M225.9 67.4h.01M221.7 68h.01M225.2 65.3h.01M223.9 66.2h.01M224.2 67.1h.01M224 68.8h.01M221.3 65.1h.01M222.3 67.5h.01M227.6 51.2h.01M226.2 58.2h.01M228.8 57.7h.01M223.9 60.7h.01M224.5 66.5h.01M226.2 54.3h.01M219.2 75.7h.01M223.1 67.6h.01M226.4 65.6h.01M228.9 54.8h.01M227.7 54.9h.01M225.2 58.4h.01M225.5 57.3h.01M224.4 58.1h.01M228.9 54.1h.01M223.9 62h.01M221.9 67.2h.01M226.9 66h.01M226.4 53.5h.01M226 57h.01M223.8 61.7h.01M224.3 50.8h.01M224.9 65.8h.01M223.4 64.6h.01M226 56.9h.01M224.4 66.4h.01M224.3 65.2h.01M228.2 63.9h.01M224.8 69.8h.01M224.4 68.3h.01M220.9 68.8h.01M225.1 68.8h.01M223 66.2h.01M225.8 65.9h.01M224.6 66h.01M224.8 55.5h.01M227.5 53.3h.01M228.8 64.6h.01M222.7 67.7h.01M228.9 54.9h.01M221.6 73.3h.01M227.5 66.4h.01M223.1 70.5h.01M229 59.4h.01M224.9 70h.01M226.4 62h.01M227.7 66.4h.01M227.6 55.5h.01M222.4 72h.01M222.7 65.4h.01M222.9 67.7h.01M224.7 63.5h.01M223.8 70.5h.01M221.6 76.7h.01M227.7 71.2h.01M223.7 64h.01M227.1 52.6h.01M225.5 58h.01M223.3 66.9h.01M223 63.7h.01M227.6 56.3h.01M222.7 74.1h.01M225.8 55.9h.01M227 66.8h.01M225.3 56.7h.01M223.3 66h.01M230.4 54.7h.01M227.9 56.4h.01M225.7 52.2h.01M226.3 65.6h.01M231.2 54.2h.01M224.4 75.7h.01M227.9 61.9h.01M225 54.4h.01M225 60.9h.01M227.8 62.5h.01M221.4 70.4h.01M222.1 65.6h.01M223.6 77.2h.01M227.6 71.3h.01M227.4 66.3h.01M222.2 70.4h.01M226.4 53.8h.01M227.5 73.7h.01M223.8 71.6h.01M217.9 71.6h.01M224.4 71.4h.01M221.8 67.8h.01M229 54h.01M225.7 64.6h.01M227.2 60.5h.01M227.4 53.9h.01M226.9 53.5h.01M224.1 72.1h.01M225.6 51.6h.01M225.1 58.5h.01M225.9 58.6h.01M223.7 65.3h.01M230.1 74.2h.01M224.4 67.3h.01M227 60.8h.01M222.2 63.5h.01M225.9 63.3h.01M229.5 60h.01M224.1 75.9h.01M225.1 53.9h.01M226.5 57.1h.01M227.4 56.9h.01M228.1 74.1h.01M225.5 66.4h.01M224.2 53.6h.01M224.6 74.5h.01M225.1 71h.01M226.7 61.3h.01M224.9 63.5h.01M224 61.9h.01M228.1 64.7h.01M223.8 70.3h.01M225.8 53.9h.01M226.7 62.2h.01M224.5 64h.01M226.8 58.6h.01M223.5 71.6h.01M225.6 53.6h.01M220.4 73h.01M230.1 60.5h.01M227.6 56.9h.01M229.8 60.1h.01M231.2 57.4h.01M224.7 52.5h.01M221.2 72.8h.01M223.8 70.4h.01M225.8 62.2h.01M226.7 63h.01M228.2 55.3h.01M224.4 65.1h.01M227.6 57.4h.01M224.9 66.9h.01M221.8 75.7h.01M227 51.8h.01M226.7 60.6h.01M228.9 55.4h.01M224.3 67.1h.01M224.5 65.1h.01M228.1 61.8h.01M227.9 54.6h.01M226.2 71.2h.01M223.5 67.2h.01M226.9 59.5h.01M226 72.5h.01M226.1 54.3h.01M226.4 55.9h.01M227.4 60.5h.01M223.5 74.1h.01M227.5 64.7h.01M226.4 56.8h.01M225.8 56.1h.01M222.5 60.4h.01M227.7 59.3h.01M225.4 56h.01M220.9 74h.01M223.8 61.1h.01M225.5 75.2h.01M229.4 59.2h.01M222 68.7h.01M224 58.8h.01M226.8 49.6h.01M228.2 47.4h.01M228.9 48.6h.01M228.9 45.5h.01M227.4 49.7h.01M226.8 47.9h.01M230 45.7h.01M227.9 49.4h.01M226.7 54.2h.01M227.4 52.5h.01M229.2 51.3h.01M228.9 48.3h.01M229.7 44.6h.01M228.9 48h.01M229.4 45.8h.01M227 50.7h.01M228 45.3h.01M227.7 54.6h.01M227.7 45.1h.01M227.9 53.4h.01M226.4 44.1h.01M226.7 55.2h.01M228.7 48.1h.01M226.5 53.4h.01M227 50.9h.01M228.9 44.7h.01M225.6 53.6h.01M227.5 47.9h.01M226.1 55.4h.01M226.1 51.2h.01M225.6 51.7h.01M225.4 56.3h.01M227.2 48.1h.01M226.8 51.8h.01M227.2 52.7h.01M225.9 54.6h.01M228 46.4h.01M227.5 52.9h.01M228.2 48h.01M227.5 50.8h.01M228.2 45.5h.01M226.1 55.1h.01M228 46.3h.01M228.1 46.2h.01M227.5 50.4h.01M228.5 45.6h.01M226.8 53h.01M227.1 48.2h.01M227.9 43.8h.01M225.2 57.1h.01M226.3 54h.01M227.8 53.9h.01M229.2 44.7h.01M229.5 44.8h.01M228 54.2h.01M225.8 51.4h.01M227.8 52.4h.01M226.4 48h.01M225.8 51.1h.01M227.2 53.8h.01M229.7 45.4h.01M227.1 47.2h.01M227.2 51.5h.01M228.8 45.8h.01M228.3 42.9h.01M227.3 54.7h.01M225.9 52.1h.01M227.2 48.1h.01M227.6 50h.01M228.8 44.7h.01M227.4 49.6h.01M226.9 55.1h.01M229.4 42.9h.01M228.4 43.6h.01M226.7 55.5h.01M228.5 46.8h.01M226.2 54.8h.01M228 48.6h.01M227.2 51.3h.01M226.9 48.9h.01M227.1 47.4h.01M227.5 46.8h.01M228 44.1h.01M229.4 43.8h.01M226.6 55h.01M227.5 47.4h.01M227 43.8h.01M228 48.1h.01M228.7 42.6h.01M227.1 51.9h.01M227.7 46.6h.01M226.7 53.3h.01M226.4 47.7h.01M228.8 44.4h.01M229.3 50.1h.01M228.9 45.1h.01M227.4 53.8h.01M228.4 47.4h.01M229.6 44.5h.01M228.2 49.6h.01M226.3 47.6h.01M227.5 50.2h.01M228.1 45.2h.01M228.4 45.9h.01M227 47.9h.01M227.4 50.3h.01M226.7 52.4h.01M227.8 48h.01M227.9 47h.01M228.5 43.4h.01M226.1 55h.01M227.9 49.6h.01M226 52.7h.01M227.9 46.2h.01M227.8 51.6h.01M226.6 51.4h.01M226.6 49.2h.01M227 53.3h.01M226.1 51.8h.01M227.5 55h.01M228.3 47.5h.01M228.3 51.2h.01M227.5 48.4h.01M227.3 54.4h.01M228.1 51.3h.01M229.3 47h.01M228.9 53.1h.01M228.5 49.8h.01M229.3 48.3h.01M227.2 55.7h.01M227.9 46h.01M227.1 47.6h.01M226.1 47.3h.01M227.9 54.2h.01M228.2 46.7h.01M226.6 50.6h.01M226.4 56h.01M228.8 45.4h.01M227.4 54h.01M228.6 44.2h.01M229.9 47.6h.01M226.3 54.7h.01M227.1 51.5h.01M226.9 46.1h.01M227.7 46.6h.01M226.6 56.2h.01M228.3 54.8h.01M227.7 52.5h.01M228.7 50.7h.01M226.9 53.5h.01M228.4 42.8h.01M227.6 54.5h.01M226.5 50.4h.01M227.7 47.3h.01M226.4 53.1h.01M227.9 49.7h.01M226.8 51.5h.01M228.2 43.4h.01M228.4 46.6h.01M228.2 51.2h.01M229.4 42.4h.01M226.4 51.8h.01M229.1 47.7h.01M227.8 42h.01M226 50.5h.01M227.5 53.1h.01M228.8 48.8h.01M228 50.2h.01M229.5 47.5h.01M228.4 50.8h.01M227.1 51.4h.01M228.3 48.2h.01M228.3 43.8h.01M225.9 56.3h.01M227.7 52.2h.01M228.6 48.7h.01M228 47.5h.01M226.8 56.7h.01M228.9 45.8h.01M226.4 55.5h.01M227.4 50.6h.01M228.1 44.4h.01M227 52.1h.01M228.3 49.5h.01M229.5 44.7h.01M228.2 53.7h.01M227.3 44.4h.01M228.8 52.3h.01M227.3 51.8h.01M229 48.3h.01M228.3 46.9h.01M226.8 51.8h.01M228.4 54.6h.01M226.6 56.5h.01M228.2 43.9h.01M228.9 44.1h.01M227 52.1h.01M228.5 53.8h.01M225.9 53.5h.01M228.6 43.1h.01M228.7 49h.01M228.2 43.1h.01M228.1 46h.01M227.1 48h.01M228.7 46h.01M226.6 53.3h.01M230.1 42.7h.01M226.2 55.6h.01M229.5 45.3h.01M228 50.7h.01M228.3 46.3h.01M227.8 43.4h.01M228.6 47.3h.01M226.4 53.5h.01M227.3 42.3h.01M228.4 43h.01M227.8 50.5h.01M229.4 47.8h.01M227.5 54.3h.01M227.3 45h.01M228.5 44h.01M226.5 54.6h.01M228.2 48.3h.01M227.1 50.5h.01M228.4 50h.01M226.7 54.9h.01M227 46.9h.01M227.7 42.7h.01M228.3 51.7h.01M228.5 46.7h.01M227.7 46.3h.01M226.9 51.9h.01M230 43.8h.01M224.8 55.9h.01M228 43.1h.01M228.7 45.6h.01M228.9 42.9h.01M228.5 49.7h.01M229.2 45.5h.01M227.7 49.6h.01M228.2 45.1h.01M229.3 49.4h.01M227.5 50.7h.01M227.4 53.4h.01M227 54.1h.01M228.7 42.7h.01M226.2 56.7h.01M228.1 53.9h.01M227.3 54.1h.01M228.5 51.3h.01M226 55.3h.01M228.3 50.5h.01M227.2 44.7h.01M227.6 51.7h.01M229.1 49h.01M227 50.4h.01M228.1 48.9h.01M228.1 44.2h.01M225.5 52.5h.01M227.8 50.5h.01M230.5 80.6h.01M231.9 74.5h.01M231.9 63.3h.01M230.4 73.2h.01M226.6 73.8h.01M228.1 60.4h.01M228.8 50.3h.01M230.6 58.7h.01M224.6 58.1h.01M231.2 80.5h.01M228.5 61h.01M231.3 80h.01M231.3 63.6h.01M227.1 60.1h.01M230.5 58h.01M231.2 63.3h.01M227.7 56.3h.01M232.3 63.4h.01M234.5 81.3h.01M232 84.1h.01M226.7 65.6h.01M225.5 57.9h.01M231.5 77.7h.01M225.3 66.7h.01M227.6 70.8h.01M229.1 69.2h.01M230.2 72.3h.01M232.9 64.4h.01M226.2 61.6h.01M230.9 71h.01M227.6 58.3h.01M228.2 60.8h.01M231.2 72.7h.01M229 71.5h.01M230 75.3h.01M231.8 78.8h.01M232.8 72.1h.01M230.3 69.7h.01M225.9 66.6h.01M233.1 81.1h.01M229.2 87.4h.01M230.1 74.2h.01M223.9 52.4h.01M231 71.6h.01M229.8 76.7h.01M228.9 69.1h.01M225.8 53.4h.01M231.5 66.7h.01M225.7 58.7h.01M228.8 57.9h.01M232.4 78.8h.01M236.3 89.3h.01M232.2 53.4h.01M228 66.1h.01M226.2 60.6h.01M234.2 84.1h.01M226.3 67.4h.01M228.5 76.9h.01M230.2 75.2h.01M234.8 83.4h.01M229.4 70.2h.01M226 61.7h.01M230.2 75.5h.01M230.5 65.3h.01M230.8 60.6h.01M228.6 67.3h.01M228.7 66h.01M232.4 85.6h.01M227.2 68.9h.01M227.6 69.6h.01M233.5 85.4h.01M234.3 87.6h.01M232.2 81.3h.01M223.5 59.2h.01M227.3 54.9h.01M226.1 58h.01M232 84.5h.01M232.7 71.2h.01M226.4 62.8h.01M229.8 55.9h.01M223.9 60.1h.01M227.5 61.6h.01M229.1 63.5h.01M231.5 78.7h.01M230.4 66.5h.01M230.9 63.9h.01M230.2 70.5h.01M231.2 74.9h.01M225.9 56h.01M228.5 59.5h.01M224.5 51.7h.01M228.6 74.5h.01M232.9 74.1h.01M228.4 60.3h.01M226.1 57.6h.01M229.3 75.9h.01M231.2 62.9h.01M229.7 65.6h.01M231.2 68.2h.01M232.7 83.7h.01M228.8 71.8h.01M233.7 79.3h.01M231.7 72.4h.01M226.9 62.4h.01M228 74h.01M229.8 64.5h.01M225.7 57.1h.01M230.7 62.1h.01M232.9 79.9h.01M227.7 58.6h.01M232.2 51.3h.01M232.2 65.4h.01M233.8 76h.01M227.7 59.9h.01M232 80.9h.01M230.6 79.1h.01M229.1 60h.01M228.2 69.2h.01M228.4 73.2h.01M230.5 64.5h.01M235.7 83h.01M231.1 77.3h.01M230.7 63.2h.01M226.1 59.6h.01M229.3 73.8h.01M227.1 58.9h.01M227.7 65.6h.01M227 64.7h.01M232.8 76.6h.01M232.2 87.4h.01M229.6 77.8h.01M226.9 65.9h.01M230.5 65.1h.01M230.6 68.4h.01M235.7 83.7h.01M232.7 62.8h.01M225.6 61.2h.01M232.5 72.7h.01M226.8 59.2h.01M225.2 65.6h.01M227.8 61.6h.01M230.9 62.6h.01M229.9 70.6h.01M233.1 83.6h.01M233.3 84.2h.01M226.4 68.6h.01M235.1 77h.01M230.4 71.5h.01M232.1 72.2h.01M225.9 62h.01M227.8 64h.01M228.6 61.8h.01M229.8 68.5h.01M231.3 82.8h.01M230 61.3h.01M232.7 85.8h.01M232.3 78.4h.01M226 59.9h.01M227.9 65h.01M232 68.1h.01M228.3 62.6h.01M235.4 85.5h.01M235.6 79.9h.01M228.5 66.2h.01M227.5 67.5h.01M227.1 53.3h.01M225.4 67.3h.01M232.3 76.2h.01M226.4 59.4h.01M232.5 86.6h.01M230.4 62.7h.01M225 60.5h.01M234.6 86.3h.01M228.9 77.5h.01M231.5 75.9h.01M227.3 60.5h.01M228.8 62.8h.01M230 69.2h.01M227.3 55.8h.01M225.7 58.2h.01M230 79.6h.01M232.6 66h.01M229.5 65h.01M228.2 66.9h.01M232.4 53.9h.01M231.8 87.4h.01M229.4 73.2h.01M228.3 75.4h.01M226.9 56.3h.01M230.5 79h.01M230.6 79.4h.01M229.7 65.9h.01M231.9 53.9h.01M232.2 70.2h.01M232.6 77h.01M228.4 74.8h.01M227.9 63.2h.01M227.6 70.2h.01M227.4 59.3h.01M220.6 59.9h.01M230.2 70.2h.01M232.6 87.7h.01M233.6 78.8h.01M225.1 60.8h.01M230.3 82.5h.01M224.5 51.7h.01M228.5 73.6h.01M229.7 67.7h.01M231.6 80h.01M231.9 71.2h.01M229.2 58.8h.01M228.7 70.1h.01M228.8 63.1h.01M225 52.4h.01M230.3 60.8h.01M232 66.8h.01M229.5 65.2h.01M231.6 64.6h.01M231 77.8h.01M233 80.8h.01M230.2 73.2h.01M228.8 64h.01M223.2 57.5h.01M230.8 74.7h.01M233.8 79.6h.01M228 59.7h.01M225.4 64.1h.01M229.2 58.3h.01M231.7 79.5h.01M235.9 81.7h.01M232.8 73.3h.01M232.3 72.1h.01M231.9 69.3h.01M227.1 65.1h.01M231.7 72h.01M234 83h.01M224.5 52.8h.01M231.4 85.6h.01M233 80.8h.01M229.7 69h.01M228.6 62.4h.01M232 64.8h.01M233.2 76h.01M226.8 58.3h.01M229.1 61.6h.01M226.3 54.6h.01M224.6 52.8h.01M232.2 72h.01M229.5 71.5h.01M225.6 58.7h.01M229.7 71.2h.01M230.4 76.2h.01M225 58h.01M228.7 79.5h.01M234.2 86.2h.01M227.5 61.1h.01M230.5 60.9h.01M232.2 64h.01M229.1 72h.01M230.9 58.5h.01M234.3 63.2h.01M229.3 63.3h.01M235.1 87.5h.01M234.7 75.2h.01M228.3 63.4h.01M230.8 58.3h.01M235 84.8h.01M227.9 53.9h.01M230.6 78h.01M228.3 59.7h.01M228.1 72h.01M227.3 54.2h.01M228.9 56.2h.01M228.9 71.9h.01M230.8 67h.01M225.9 63h.01M225.4 57.2h.01M232.6 84.6h.01M231.8 68.3h.01M229.1 58.1h.01M230.6 73.2h.01M228.3 62.7h.01M231.6 82.1h.01M227.8 62h.01M233.4 86h.01M221.6 57.7h.01M229.1 61.9h.01M231.6 75.3h.01M230.5 73.5h.01M233.3 74.1h.01M232.9 83.6h.01M228.6 71.3h.01M230.3 72.7h.01M230.2 57.5h.01M231.5 52.4h.01M230.7 57.6h.01M225.3 55.7h.01M229.9 63.9h.01M224.5 55.4h.01M232.1 58.7h.01M230.3 67.8h.01M232 77h.01M231 78.8h.01M231.6 68.9h.01M224.3 61.5h.01M232.9 71.3h.01M231.1 73.7h.01M231.4 83.6h.01M225.8 70.3h.01M229.4 65.2h.01M227.9 60.4h.01M227.9 57.3h.01M228.1 64h.01M225.2 51.5h.01M225 54.5h.01M228.5 73.3h.01M234.9 86.5h.01M230.8 78.2h.01M234.9 88.3h.01M230.1 56.3h.01M223.5 61.1h.01M228.4 75.5h.01M236.5 87.1h.01M225.8 60.3h.01M226.8 67h.01M232.8 79.8h.01M230.4 69.5h.01M231.3 78.2h.01M227.6 61.9h.01M229.1 64.4h.01M231.5 75.2h.01M231.6 69.7h.01M230.1 70.3h.01M233.2 80.6h.01M223.8 64.6h.01M230.2 57.4h.01M234.1 86.9h.01M230.1 65.7h.01M232 75.5h.01M230.2 71.7h.01M226.4 58.8h.01M229.1 64.7h.01M233.2 73.9h.01M234.6 86.3h.01M230.4 62.8h.01M234.4 71.2h.01M226.7 58.3h.01M230.6 74.4h.01M233.1 64.9h.01M227.2 60.4h.01M227.8 51.9h.01M226.6 56.5h.01M231.2 71.4h.01M226.7 67h.01M232.6 86.3h.01M227.8 58h.01M228.8 62.3h.01M229.8 82.7h.01M228.3 67.8h.01M229 65.6h.01M229.4 69.6h.01M229.6 66.7h.01M227.3 57h.01M229.5 56.4h.01M233.6 84.3h.01M224.6 63.2h.01M232.6 81.3h.01M225.8 56.9h.01M226.3 55.2h.01M233.1 84.3h.01M228.4 58.2h.01M229.6 68.9h.01M233.4 85.5h.01M234 64h.01M230.8 74.8h.01M226.4 71.3h.01M234.4 87h.01M233.5 87.1h.01M231.7 59.1h.01M231.4 77.7h.01M232.6 87.9h.01M227.8 71h.01M234 83.5h.01M233.2 83.5h.01M230.6 64.2h.01M231.3 53.2h.01M231 69.4h.01M231.7 79.9h.01M228.4 66.6h.01M225.8 64.2h.01M230.7 66.3h.01M234.9 80.1h.01M231.7 74.1h.01M235 85.7h.01M232 88.4h.01M229.9 76.6h.01M230 60h.01M235.2 86.6h.01M231.4 77.1h.01M233.4 81.5h.01M225.2 65.4h.01M226.8 53.1h.01M232.1 67.4h.01M233.4 84.9h.01M224.9 62.7h.01M236.2 86.2h.01M233.5 84.7h.01M225.2 58.1h.01M229.3 55.7h.01M230.5 62.5h.01M231.5 63.2h.01M229.6 67.7h.01M229.6 74.8h.01M226.3 71.9h.01M227.7 59.7h.01M227.5 65.4h.01M228.5 61.9h.01M229.8 69.8h.01M230.1 79.5h.01M226.2 59.6h.01M234.6 87.5h.01M234.9 85.1h.01M231.3 77.2h.01M233.3 76.4h.01M236.9 92.9h.01M237 93.1h.01M236.1 81.6h.01M234.5 87.5h.01M230.7 76.2h.01M234.3 86.9h.01M237.3 94.4h.01M228.9 78h.01M234 83.4h.01M233.4 80.4h.01M234.7 89.5h.01M227.7 77.5h.01M232.3 86.6h.01M234.3 85.9h.01M234.3 88.2h.01M232.9 82h.01M232.6 76.4h.01M237.7 95.5h.01M236 91.4h.01M230.3 73.4h.01M232.4 76.8h.01M234 84.7h.01M235.8 74.5h.01M237.2 94.7h.01M237.1 93.7h.01M237.1 87.9h.01M236.1 93.8h.01M238.3 94.1h.01M236.2 89.8h.01M231.1 81.8h.01M235.6 86.7h.01M236.5 92.8h.01M237.1 94.5h.01M235.5 89.5h.01M236.2 95.4h.01M230.1 74.6h.01M230.7 76h.01M235.5 88.1h.01M230.6 81.2h.01M237.3 90.3h.01M234.1 83.6h.01M233.3 83.4h.01M236.5 92.7h.01M235.7 89.2h.01M236.5 92.6h.01M230.5 74.9h.01M232.6 76.2h.01M236.7 92.5h.01M233.7 89h.01M232.9 84h.01M235.9 94.2h.01M231.1 73.6h.01M236.3 89.8h.01M234.4 87.2h.01M235.3 92.8h.01M231.5 74.9h.01M236.4 92.2h.01M231.4 83.6h.01M236.7 94.2h.01M233.2 79.6h.01M229.4 75h.01M232.1 83.3h.01M231.1 82.3h.01M235.5 89.5h.01M233.8 79.1h.01M237.6 93.4h.01M233.1 80.3h.01M236.5 95.3h.01M235 88.8h.01M233.2 87.1h.01M236.2 91.9h.01M233.9 78.7h.01M235.7 83.2h.01M236.3 93.2h.01M234.3 82.5h.01M230.6 84.1h.01M234.6 86.2h.01M234.4 88.9h.01M232.6 85.6h.01M235.8 87.4h.01M231 78.2h.01M237.1 90.6h.01M234.4 87.6h.01M235.9 90.9h.01M234.5 88.8h.01M234.6 85.9h.01M233.1 85.3h.01M233.3 87.2h.01M232.3 84.9h.01M234.2 88.4h.01M233.7 79.2h.01M237.6 93.5h.01M234 87.4h.01M229 77.9h.01M236.2 85.9h.01M233.5 85.3h.01M237.1 94h.01M236.7 93.7h.01M234.7 91.1h.01M232.4 83.2h.01M236.2 94h.01M235.4 89.5h.01M233.8 86.6h.01M231.4 78.1h.01M230 78.6h.01M234.1 86.9h.01M231.7 83.1h.01M232.1 74.6h.01M238 94.2h.01M233.5 79.8h.01M233.7 82.8h.01M233.1 85.4h.01M235.1 86.1h.01M235.9 88.8h.01M235.3 88.4h.01M233.4 83h.01M237.2 96h.01M234.5 84h.01M231.4 78h.01M234.9 83.3h.01M232.9 83.1h.01M237.8 95.4h.01M229.6 74.3h.01M236.3 95.6h.01M231.2 78.6h.01M234.1 82h.01M231.9 81.4h.01M231.2 80.5h.01M229.9 77.1h.01M234.5 85.5h.01M232.7 77.8h.01M231.5 80.9h.01M232.8 77.1h.01M234 85.6h.01M234.6 84.3h.01M236.8 88.7h.01M229.1 76.3h.01M234.5 81.4h.01M237.2 93.7h.01M235.9 88.6h.01M236.6 92.5h.01M235.1 89.7h.01M237.6 93.1h.01M232.3 78.2h.01M233.6 86.1h.01M232 81.7h.01M235.5 90.4h.01M232.1 79h.01M231.5 83h.01M237.4 96.4h.01M235.7 85.3h.01M229 72.7h.01M234.3 82h.01M231.7 74.2h.01M235.7 89.6h.01M237 94.1h.01M232.8 86.2h.01M234.3 79.3h.01M234.9 89h.01M234.7 86.3h.01M232.5 81.8h.01M235.7 90.8h.01M235.7 89.4h.01M227.9 71.4h.01M233.4 86h.01M235.7 85.7h.01M234.2 90.9h.01M235.3 91.1h.01M234.6 79.9h.01M229.4 74.5h.01M234.3 89.2h.01M234.3 83.7h.01M236.1 93.6h.01M235 82.8h.01M233.5 86.5h.01M231.4 79.8h.01M230.9 75.1h.01M236.8 89.7h.01M232.6 82.2h.01M232.4 78.8h.01M237.2 94.6h.01M236.6 93.3h.01M234.4 89h.01M230.6 79.1h.01M236.5 93.7h.01M235.3 85.6h.01M237.2 93h.01M235 82.3h.01M234.5 84.2h.01M233.7 84.6h.01M235.2 82.1h.01M236.2 90.6h.01M236.4 91.2h.01M237.9 95.3h.01M236.4 92.1h.01M235.6 90.1h.01M235 87.5h.01M235.3 85.8h.01M233.6 71.3h.01M237.5 90h.01M231 77.4h.01M235 86.7h.01M236.2 90.8h.01M236.9 95h.01M234.2 89.6h.01M234.2 79.6h.01M230.3 76.8h.01M232.7 75.2h.01M237 88.3h.01M237.4 95.7h.01M234.2 88.8h.01M233.7 80.5h.01M234.7 85.7h.01M232.4 82.2h.01M233.7 89.1h.01M232.2 80.3h.01M230.9 74.2h.01M231.7 84.8h.01M231.6 74h.01M236.1 92.9h.01M234.7 87.6h.01M230.4 73.9h.01M237.5 97h.01M231.9 81.1h.01M234.2 82.3h.01M234.6 82.4h.01M235.6 92h.01M235.1 89.3h.01M238.3 96.8h.01M235.4 89.1h.01M236.9 90.9h.01M235.8 93.9h.01M234 89.4h.01M234.9 85.4h.01M236.3 91.5h.01M237.7 92.7h.01M231.7 82.9h.01M234.4 87.1h.01M236.5 80.5h.01M235.2 88.8h.01M237.1 94.7h.01M237.3 92.9h.01M234.8 81.7h.01M233.6 79h.01M233.1 86.3h.01M229.1 76.9h.01M232.9 80.7h.01M237.5 94.6h.01M231 82.8h.01M238 94h.01M236.8 90.4h.01M231.6 75.6h.01M230.1 72.8h.01M237.2 94.6h.01M234.5 83.6h.01M233.1 78.1h.01M237.3 95.2h.01M232.8 82.6h.01M236.8 90.8h.01M231 77.4h.01M235.5 83.3h.01M234.5 83.1h.01M230.2 75.6h.01M234.3 90h.01M234.9 80.2h.01M234.6 91.4h.01M235 83.8h.01M237 95.8h.01M232.6 85.7h.01M236.9 93.8h.01M233.8 85.7h.01M237.9 94.3h.01M235.3 86.9h.01M233.9 81.5h.01M232.7 82h.01M233.4 75.6h.01M230.9 79h.01M234.8 86.1h.01M236.2 93.9h.01M235.5 92h.01M235.2 89.5h.01M234.4 82.2h.01M231.1 73.5h.01M234.6 86.1h.01M230.5 77h.01M236.6 93.7h.01M231.6 74.4h.01M231.6 78h.01M236.1 93.5h.01M236.4 92.2h.01M227.1 74.4h.01M234.1 87.8h.01M232.5 84.9h.01M237.3 88.3h.01M237.6 94.8h.01M236.3 92.3h.01M236.4 92.9h.01M236.2 91h.01M237.4 95.6h.01M232.8 78.1h.01M233.8 84.8h.01M231.6 77.2h.01M232.4 78h.01M234.6 83.9h.01M229.1 80.4h.01M233.4 83.6h.01M233.9 80.5h.01M232 77.4h.01M235.4 89.9h.01M232.5 82.1h.01M234.9 86.9h.01M234.7 89.1h.01M232.3 77.5h.01M236.5 93.1h.01M232.4 80.8h.01M237.2 92.6h.01M235.7 89.3h.01M235.5 87.2h.01M229.5 70.8h.01M235.4 88.1h.01M236.7 92.1h.01M237.2 94.5h.01M237.3 93.8h.01M232.5 79.7h.01M232 73.9h.01M234.2 90.6h.01M232.8 86.3h.01M233.9 86.5h.01M235.6 91.2h.01M236.8 96.3h.01M230.4 78.6h.01M236.6 79.1h.01M234.9 87.5h.01M236.5 90.5h.01M234.1 85.8h.01M231.8 76h.01M235.5 87.5h.01M231 77.4h.01M230.3 79.3h.01M232.1 77.1h.01M234.9 86.7h.01M236.9 85.8h.01M235.9 88.4h.01M232.4 80h.01M235 88.7h.01M234 78.4h.01M235.5 91.4h.01M235.2 89.9h.01M234.4 83.5h.01M236.4 91.7h.01M233.7 81h.01M233.1 82.8h.01M235.3 86.7h.01M234.2 80.7h.01M232.1 81.1h.01M230.8 79h.01M233.1 81.7h.01M235.9 92.1h.01M237.3 92.8h.01M232.5 72.3h.01M230 76.6h.01M235.3 87.2h.01M233 80.1h.01M237.5 96h.01M231.3 75.9h.01M237.9 96h.01M237.1 89.3h.01M231.1 82.1h.01M234.1 85.6h.01M235.9 89.1h.01M235.4 90.4h.01M237.8 95.2h.01M238.7 82h.01M233.2 75.1h.01M237.2 96.3h.01M231.6 74.8h.01M232.7 83.9h.01M237.9 96.3h.01M235.9 90.2h.01M233.3 86.6h.01M232.9 75.9h.01M235.4 88.1h.01M236.7 91.8h.01M235.3 87h.01M231.7 76.8h.01M234.6 90.4h.01M230.9 76h.01M231.2 81.9h.01M232 77.1h.01M231.6 76.6h.01M236.8 92.5h.01M234.2 87.8h.01M232.5 86.4h.01M233.6 78.7h.01M234.4 80.9h.01M229.4 73.7h.01M231.7 81.9h.01M235 90.5h.01M230.9 76.3h.01M237.2 91.8h.01M233.6 74.8h.01M233.8 82h.01M234.6 77.6h.01M232.9 73.7h.01M231.7 83.1h.01M237.6 94h.01M233.1 84h.01M232.7 79.8h.01M234.3 86.7h.01M234.5 77.1h.01M233 83.6h.01M238.3 96.1h.01M230.4 75.9h.01M233.3 82.4h.01M236.1 89.8h.01M231.1 79.7h.01M231.7 76h.01M228.4 70.9h.01M235.1 88.3h.01M233.6 86.7h.01M232.3 79.7h.01M233.7 78h.01M235 90.2h.01M231.9 81.4h.01M235.2 85.4h.01M229.5 76h.01M237.8 93.5h.01M233 85.7h.01M231 76.2h.01M236.2 90.5h.01M233.1 75.5h.01M232.6 86.5h.01M236.3 83.4h.01M231.8 81.4h.01M237.2 93.7h.01M232.4 83.4h.01M234.4 88h.01M236.2 88.9h.01M235.2 87.8h.01M235.5 76.7h.01M235.2 87.1h.01M232.3 79.3h.01M236 95.1h.01M236.5 92.6h.01M236.8 96.4h.01M236.6 93.3h.01M237.2 93.1h.01M237.3 88.8h.01M236.3 87.2h.01M233.7 82.9h.01M235.9 93.1h.01M232.7 79.1h.01M229.5 80.8h.01M232.8 81.7h.01M237.2 95.4h.01M233.9 83h.01M234.4 86.8h.01M235.3 92h.01M235.1 86.5h.01M238 96.2h.01M231.7 74.5h.01M232.1 77h.01M236.4 91.3h.01M234.4 84.6h.01M230.1 75.1h.01M234.6 84.1h.01M231.1 79.7h.01M231.5 81.2h.01M238.2 95.1h.01M235.3 85.7h.01M235.7 88.4h.01M234.6 89.3h.01M236.8 95.8h.01M234.5 89.3h.01M234.5 82.2h.01M233.8 84.1h.01M232.9 74h.01M230.8 79.3h.01M233.8 81h.01M237.1 93.8h.01M230.5 72.8h.01M236.8 92.3h.01M228.8 70h.01M234.8 88.3h.01M234.3 89.8h.01M229.6 77.1h.01M227.7 73.3h.01M230.9 72.5h.01M237.6 93.7h.01M233.7 87.3h.01M233.9 88.7h.01M233.2 86.4h.01M236.3 88.4h.01M235.5 89.7h.01M233 76.8h.01M228.4 75.3h.01M234.4 82.7h.01M233.9 85.1h.01M235 87.1h.01M232.1 76.2h.01M232.3 82h.01M235.7 83.2h.01M235.2 91.1h.01M238.4 94h.01M235.2 89.3h.01M232.9 78.8h.01M232.3 74.1h.01M231.5 76.4h.01M234.3 87.5h.01M237.2 95.2h.01M236.2 93.3h.01M236.3 91.7h.01M233.1 73.7h.01M233.2 84.2h.01M233.4 85.7h.01M237.7 96.3h.01M237 93.1h.01M234.3 86.6h.01M230.4 73h.01M234.3 81.1h.01M231.7 78.1h.01M233.3 88.2h.01M231.1 80.5h.01M229.1 74.6h.01M233.4 81.3h.01M232.2 73.8h.01M233.1 83.9h.01M232.2 81.9h.01M236.5 89.3h.01M235.1 89.3h.01M236.2 92.6h.01M233.9 90.5h.01M231 83.4h.01M237.2 94.2h.01M233.3 80.7h.01M233.3 82.5h.01M234.6 86.9h.01M232.7 79.1h.01M232.9 80.8h.01M235.1 89.2h.01M235.2 87.6h.01M235.4 89.7h.01M236.4 91.4h.01M236.6 81.8h.01M236.5 91.9h.01M236.9 93.2h.01M237.5 93.2h.01M237.2 94.3h.01M236.5 92.5h.01M236.4 90.9h.01M232.1 79.1h.01M234.6 88.4h.01M230.1 75.9h.01M232 76.3h.01M233.5 86.4h.01M228.3 72.8h.01M237.6 93.7h.01M232.7 75.6h.01M237.5 95.5h.01M233.3 75h.01M233.3 84h.01M235.2 87.4h.01M235.7 90.7h.01M237.2 88.1h.01M236.7 93.6h.01M230 75.8h.01M237.3 92.8h.01M231.1 74h.01M234.4 81.4h.01M236.3 91.2h.01M234 87.8h.01M233.8 87.4h.01M234.7 89.3h.01M237.2 94.5h.01M232.2 85h.01M237 94.4h.01M237.2 93.3h.01M234.1 87.8h.01M234.3 86.2h.01M231.7 81.7h.01M236.5 96h.01M238.2 95.8h.01M229.1 75.7h.01M228.9 73.7h.01M231.7 81h.01M231.5 80.3h.01M233.4 87.6h.01M236.5 92h.01M234.2 86.1h.01M237.5 94.9h.01M236 94.3h.01M231.8 75h.01M235.5 86.1h.01M237.1 94.2h.01M229.4 74.4h.01M232.3 78.7h.01M236.2 97.4h.01M236.8 90.6h.01M231.6 80.2h.01M231.9 78.1h.01M232.6 81.3h.01M230.7 75.7h.01M237.1 95.4h.01M231.4 73.5h.01M228.6 77.4h.01M236.3 94.7h.01M233.3 73.2h.01M232.7 78.2h.01M233.6 85.8h.01M231.3 78.7h.01M233 75.3h.01M232 83.5h.01M232.9 80.4h.01M235.7 89.9h.01M234.7 89.7h.01M235.3 87.3h.01M234.3 85.5h.01M235.7 92.2h.01M232.1 80.5h.01M233.6 82.4h.01M229.8 76.9h.01M234.8 88h.01M235.5 88.2h.01M234.2 79.7h.01M236.6 96h.01M236.1 88h.01M237.3 95.8h.01M236.3 93.1h.01M235.9 92.6h.01M233.4 87.4h.01M232.9 76h.01M232.9 82.8h.01M236.6 88h.01M233.5 73.3h.01M236.1 91h.01M236.1 87.1h.01M236.3 92.3h.01M230 73h.01M228.4 72.2h.01M232.8 76.6h.01M233.2 74.8h.01M232.9 76.4h.01M231.8 73.7h.01M232.8 76.2h.01M232.3 84h.01M234.5 75h.01M233.1 80.6h.01M234.7 86.4h.01M227.8 77.7h.01M237.5 96.4h.01M231.9 80.8h.01M237.2 96.6h.01M231.6 74.5h.01M236.4 93h.01M228.4 77.3h.01M232.1 83.4h.01M232.3 74.8h.01M237.6 93.4h.01M236.4 90.7h.01M230.4 73.7h.01M234 83.8h.01M231.4 80h.01M237.8 95.9h.01M232.2 82.8h.01M228.6 77.7h.01M235.1 80.1h.01M236.7 83.7h.01M227.1 70.9h.01M232.2 81h.01M236 93.4h.01M235.7 86.4h.01M233.5 86.3h.01M237 95.2h.01M230.9 74.8h.01M234.1 85.3h.01M232.4 79.8h.01M231.4 78.4h.01M232.2 74.1h.01M232.3 76.7h.01M233.9 81.7h.01M236.6 95h.01M235.2 87.2h.01M236.2 92.8h.01M236.4 93.9h.01M236.4 91h.01M237.6 96.4h.01M232.9 84.7h.01M234 83.2h.01M232.5 81.1h.01M231.4 80.3h.01M229.2 79.1h.01M233.7 76h.01M233.6 85h.01M235 85.2h.01M232.7 78.4h.01M234.6 85.1h.01M239.6 45h.01M240 50.7h.01M239.9 54.4h.01M238.5 50.8h.01M240.3 48.1h.01M239.8 40.9h.01M240.7 40.7h.01M240.3 45.2h.01M241.1 43.9h.01M238.3 55.4h.01M240.1 57.6h.01M240.8 50.4h.01M240.9 45.6h.01M239.1 44.7h.01M240.6 44.6h.01M240.5 48.7h.01M237.2 55h.01M239.4 57.3h.01M238.9 48.8h.01M240.3 53.4h.01M238.8 55.2h.01M239.9 44.4h.01M239.9 45.1h.01M239 53.3h.01M242.6 47.5h.01M240.2 47.8h.01M240.7 45.7h.01M238.9 52.1h.01M240.2 43.8h.01M241.8 43.2h.01M241.8 43.2h.01M240 40.1h.01M239.9 47.4h.01M239.6 53.3h.01M240.5 44.7h.01M241.2 40.5h.01M239.2 58.2h.01M241 40.9h.01M239.1 56.8h.01M239.6 47.1h.01M240.7 41.8h.01M242.6 40.5h.01M239 49h.01M237.8 56h.01M238.9 58.3h.01M238.3 59.5h.01M239.7 48.7h.01M239.7 46.7h.01M238.2 58.1h.01M238.9 55.2h.01M239.6 52.5h.01M239.3 45.8h.01M238.7 48h.01M240.4 43.1h.01M240.3 51.2h.01M239 44.3h.01M240.7 45.5h.01M238.4 54.3h.01M240 43.8h.01M240 46.5h.01M239.9 48.4h.01M238.5 57.2h.01M240 47h.01M238.5 48.3h.01M242.1 41.9h.01M239.8 45h.01M240.8 46.4h.01M240.1 45.5h.01M239.2 50.7h.01M241.8 42.8h.01M239.8 46.4h.01M238.6 47.7h.01M239.8 41.3h.01M239.1 52.1h.01M241 49.2h.01M239.7 42.1h.01M240.4 41.8h.01M240.5 46.1h.01M240.8 49.3h.01M238.3 56.4h.01M239.6 47.5h.01M239.6 52.4h.01M240 50.5h.01M240.2 43.3h.01M238.7 57h.01M239.3 51.8h.01M240.8 52.4h.01M238.7 51.7h.01M242 43.2h.01M239.3 57.1h.01M239.9 52h.01M239.5 54.2h.01M239.1 52.8h.01M239.6 43.9h.01M240.7 44.6h.01M240.3 43.7h.01M240.9 44.4h.01M240.4 46.6h.01M240.6 47.6h.01M240.4 40.6h.01M240.7 49.4h.01M239 57.2h.01M241.1 45.1h.01M240.5 40.3h.01M238.6 55.4h.01M239.6 45.7h.01M238.1 53.3h.01M239.6 51.6h.01M240.5 44.2h.01M239 47.8h.01M240.2 41.6h.01M240.1 45.4h.01M240.6 58.6h.01M240.5 51.9h.01M238.9 50.2h.01M240.6 47h.01M241.1 54h.01M240 51.9h.01M241.2 42h.01M239.3 48.4h.01M241 48.5h.01M241.2 48.7h.01M240.6 44.8h.01M239.8 45.4h.01M238.4 56.3h.01M240.9 54.2h.01M240.9 39.3h.01M239.4 51.7h.01M241.6 43.3h.01M239.7 44.3h.01M239.9 44h.01M239.7 39.6h.01M239.9 56.5h.01M241.6 41.6h.01M239.1 43.1h.01M238.7 51.3h.01M240.7 44.1h.01M240.9 50.5h.01M241.3 45.5h.01M239.6 51.1h.01M238.3 54.8h.01M239.3 55.2h.01M239.7 43.3h.01M239.6 48.7h.01M239.6 49.9h.01M239.5 41.7h.01M240.7 48.2h.01M237.9 52.6h.01M239.2 50.1h.01M239.7 46.4h.01M240.3 45.4h.01M238.5 50.6h.01M241.1 52.3h.01M239.4 40.6h.01M240.5 41.8h.01M241.9 42.8h.01M240.7 42.7h.01M238.8 56.5h.01M239.1 47.1h.01M239.9 57.3h.01M239.8 51.8h.01M240.7 45.3h.01M240.6 49.5h.01M238.7 51.7h.01M237.9 57.6h.01M239.8 51.3h.01M238.8 42.4h.01M239.3 50.7h.01M240 45.6h.01M240.4 51h.01M238.8 43.9h.01M240.5 51.6h.01M240.1 40.1h.01M239.9 50.9h.01M240 43.9h.01M239 53.9h.01M239.7 49h.01M241.6 43h.01M239.4 48.8h.01M241.4 44.7h.01M239.3 55.2h.01M239.7 49.2h.01M240.2 45.4h.01M239.2 55.1h.01M241.5 43h.01M240 52.4h.01M240.5 55.7h.01M238.9 54.3h.01M240.4 52.8h.01M238.2 50.1h.01M238.6 56.7h.01M239.5 42.4h.01M239 52.3h.01M240.3 42.7h.01M239.7 54.7h.01M240.7 42.9h.01M240.5 44.9h.01M241.2 50.2h.01M240.8 41.5h.01M241 47.2h.01M239.9 40.6h.01M239.4 44h.01M241.8 40.5h.01M240 54h.01M238.7 43.2h.01M240.6 53.1h.01M238.2 54.8h.01M238 56.3h.01M240.1 48.8h.01M240.7 43.8h.01M240.1 46.4h.01M240.8 48h.01M239.5 44.8h.01M240.9 41.5h.01M239.9 46.2h.01M241.6 40.6h.01M239.2 51.3h.01M239.2 43.2h.01M239.6 48.4h.01M239.2 57.9h.01M240.1 54.2h.01M240.4 47.4h.01M240.5 43h.01M242.1 40.9h.01M239.6 54.4h.01M240.3 46.3h.01M239.1 48.9h.01M241.7 52.3h.01M240.6 50.4h.01M239.6 43.8h.01M239.3 56h.01M238.8 50.6h.01M240 42.6h.01M239.5 48.3h.01M239.6 47.4h.01M240.9 50.1h.01M240.4 40.8h.01M240.7 53.6h.01M238.6 48.6h.01M239.9 42.3h.01M239.6 43.4h.01M239.6 42.2h.01M239.8 42.3h.01M239.2 51.4h.01M240.4 50.8h.01M238.7 54.8h.01M240.5 54.9h.01M239.6 47.8h.01M240.1 46.8h.01M238.5 53.1h.01M239.5 47.2h.01M238.9 40.2h.01M240.5 48.6h.01M240.7 45.4h.01M240.7 46.1h.01M239.3 56.3h.01M239.5 44.4h.01M239.5 52.3h.01M239.3 54.4h.01M238.3 49.5h.01M235.9 83.7h.01M237 82h.01M240.5 69.3h.01M237.4 81.7h.01M241.1 68.9h.01M238.6 83.5h.01M241.6 58.7h.01M236.8 58.8h.01M236.2 82.1h.01M240.2 70.8h.01M238.6 70.9h.01M238.9 63.3h.01M236.4 79.9h.01M236.3 90.3h.01M238.8 63.2h.01M236.8 73.3h.01M236.3 85.8h.01M240.5 71.7h.01M236.7 88.3h.01M239.4 60.8h.01M239.2 64h.01M237.1 80h.01M238.1 87.2h.01M238.6 58.5h.01M236.7 89.3h.01M237.3 56.1h.01M238.6 56.7h.01M240.5 82h.01M237.3 71.7h.01M237.5 69h.01M241 60.7h.01M238.7 86.7h.01M239.7 61.8h.01M236.8 84.8h.01M238.7 60.1h.01M240.9 88.9h.01M236.9 69.4h.01M240.7 61.6h.01M240 71.9h.01M238.6 85.1h.01M237.8 61.6h.01M237.9 87.8h.01M237.6 70.9h.01M238.9 70.3h.01M238.5 82.7h.01M238.4 87.2h.01M239.1 73h.01M236.6 88h.01M241.8 66.5h.01M240.9 67.8h.01M237.3 77.8h.01M237.5 68.9h.01M237 80.1h.01M237.2 88.7h.01M235.4 81.4h.01M236.2 68.5h.01M237.9 86.1h.01M240.1 73.6h.01M238.4 66.8h.01M238.1 64.8h.01M238.5 64.1h.01M236.9 58.3h.01M240.5 52.3h.01M239.6 63h.01M239.7 86h.01M237.3 73.6h.01M235.9 70.8h.01M239 59.5h.01M237.4 67.9h.01M238.1 92.4h.01M239.7 53.9h.01M235.8 66h.01M236.4 58.6h.01M237.4 65.6h.01M237.7 84.3h.01M238.4 69.3h.01M238 82.4h.01M239.9 77.5h.01M239.4 61.8h.01M236.1 91.4h.01M238 61.5h.01M235.3 88.7h.01M239.8 59.2h.01M240.4 57.1h.01M239.8 74h.01M239.1 77.5h.01M237.8 71.3h.01M238.1 53.9h.01M237.8 81.9h.01M238.4 76.8h.01M238 79.8h.01M238.5 55h.01M238.3 59.1h.01M241.1 61.9h.01M239.8 89.8h.01M238.1 75.6h.01M242.4 69.3h.01M236.7 87.5h.01M240.9 85.3h.01M238.5 68h.01M240.2 56.4h.01M238 69.6h.01M237.5 67.1h.01M237.5 62.7h.01M237.6 78.8h.01M237 65.3h.01M237.9 78.2h.01M241.3 64.2h.01M236.9 86.2h.01M239.1 85.2h.01M239.2 80.1h.01M239.4 77.4h.01M241 59.1h.01M238.4 56.3h.01M240.6 56.3h.01M237.4 76.1h.01M239.1 68.9h.01M238.8 68.8h.01M239 58h.01M236.1 91.7h.01M238.8 66.6h.01M237.3 92h.01M240.8 65.8h.01M239.4 57.4h.01M237.3 55.3h.01M238 76.6h.01M238.4 84.1h.01M239.1 55.3h.01M237.3 87.4h.01M238.9 60.7h.01M238.6 69.2h.01M238 62.1h.01M238.4 79.1h.01M239.1 56h.01M239.7 83.9h.01M237.1 72h.01M236 71.4h.01M239.9 66h.01M238.6 57.5h.01M233.6 82.3h.01M241.1 81.9h.01M239.9 68.1h.01M235.4 82.2h.01M238.2 77.1h.01M238.5 83.4h.01M237.4 87.3h.01M238 83.4h.01M237.9 60.7h.01M242.1 66.8h.01M240.5 62.3h.01M242.4 74.7h.01M241.9 62.3h.01M239.4 85h.01M240.9 87.9h.01M239.1 83.6h.01M239.8 77.2h.01M239.7 73.2h.01M240.1 85.4h.01M238.1 62.3h.01M238.7 57.3h.01M235.3 89.2h.01M235.6 57.2h.01M237.2 62.7h.01M236.2 71.4h.01M238.5 61.4h.01M239.4 59.3h.01M237.2 81.4h.01M237.9 74.7h.01M236.7 85.9h.01M239.2 81.8h.01M239.3 65.8h.01M237.1 89h.01M240.2 56.5h.01M236.9 55.4h.01M241 76.6h.01M242 62.1h.01M241.8 60.1h.01M238.8 66.8h.01M240 74h.01M238.8 59.3h.01M236.2 88.2h.01M239.4 60.3h.01M239.8 74.8h.01M239.1 69.9h.01M238.2 55.5h.01M240.8 56.5h.01M238.4 71.9h.01M238.8 57.6h.01M240.4 62.5h.01M240.4 69.8h.01M234.1 63.1h.01M237.4 84.5h.01M237.2 87.9h.01M238.8 67.6h.01M239.9 82h.01M237 85.4h.01M237.9 81.3h.01M235 86.8h.01M237.2 54.7h.01M238.4 87.5h.01M236.5 80.3h.01M240.2 90.4h.01M239.3 60.4h.01M239.4 54.5h.01M236.8 81.9h.01M240.2 81.1h.01M238.7 57.6h.01M238.2 72.1h.01M237.5 82.4h.01M237.7 56.2h.01M238.1 80h.01M237.4 85.4h.01M234.2 75.4h.01M235 83.5h.01M236.1 85.9h.01M239.6 75.5h.01M239.5 78.5h.01M237.9 73.8h.01M239.3 57.5h.01M238.4 61.1h.01M238.8 60.9h.01M237.3 86.1h.01M238.7 68.1h.01M237.7 78.3h.01M238.9 55.8h.01M238.9 78.4h.01M240 80.5h.01M237.9 68.8h.01M239.8 62.8h.01M237.1 71.7h.01M238.9 58h.01M238.5 80.7h.01M237.2 67.9h.01M238.1 56.7h.01M238.7 75.3h.01M236.8 73.8h.01M238.3 61.2h.01M237.2 81.4h.01M239.2 63.8h.01M239.7 77.5h.01M237.4 71.4h.01M240.8 75.4h.01M237.9 69.4h.01M239.9 76.8h.01M238.9 57.2h.01M238.5 61.3h.01M235.9 75.2h.01M237.8 65.2h.01M239 78.7h.01M238.4 77.4h.01M237.4 55.7h.01M238.3 74.6h.01M237.4 81.9h.01M236 63.3h.01M235.6 85.1h.01M238.5 71.5h.01M235.9 79.3h.01M239.1 86h.01M237.4 90.5h.01M239.2 61.7h.01M240.1 60.1h.01M239.7 66.3h.01M239.8 74.8h.01M238.9 88.8h.01M238.3 62.7h.01M240.1 57.4h.01M239.2 68.3h.01M238.4 77.3h.01M238.9 73.2h.01M239 62.1h.01M237.6 90.7h.01M238.8 77.7h.01M237.3 63.5h.01M237.8 77.2h.01M236.7 89.9h.01M235.6 56.5h.01M237 86.8h.01M239.1 69.3h.01M239.7 82.1h.01M237 59.8h.01M235.9 84.4h.01M239.1 55.4h.01M235.9 78.8h.01M241.4 57.7h.01M239.6 76.5h.01M235.3 76.9h.01M236.1 64.8h.01M238.1 67.7h.01M235.5 88.6h.01M237.9 60.7h.01M238.1 61.8h.01M242.6 79.3h.01M239.4 84.5h.01M241.2 81.3h.01M238.6 89.5h.01M236.7 91.4h.01M239.6 82.9h.01M239.1 65.3h.01M240.2 78.5h.01M242.7 69h.01M232.4 85.3h.01M228 83.5h.01M234.3 88.9h.01M226.6 81.2h.01M225 79.5h.01M228.3 82.8h.01M226.9 77.7h.01M229.1 80.1h.01M229.9 77.6h.01M226.2 75.6h.01M223.9 72.9h.01M233.8 88.8h.01M227.3 78.3h.01M231.2 85.7h.01M222.7 73.1h.01M228.2 79.1h.01M226.2 74.4h.01M228.2 81.8h.01M231 82.7h.01M226.4 78.7h.01M221.7 72.1h.01M232.3 87.6h.01M235.7 88.1h.01M225.4 76.6h.01M226.9 78.2h.01M230.5 84h.01M224.4 76.9h.01M230.3 81.3h.01M224.2 76.2h.01M221.4 73.9h.01M230.2 83.5h.01M228.7 80.3h.01M236.2 85.3h.01M230.5 83.9h.01M228.1 83.9h.01M229.6 79.7h.01M224.5 75.5h.01M228.9 81.3h.01M232.3 85.2h.01M228.3 79.2h.01M234.1 92.5h.01M223.5 73.5h.01M232.5 87.4h.01M229.6 80.6h.01M227.2 78.7h.01M226.6 78.6h.01M227.7 77.5h.01M227.8 76.2h.01M228.5 80.1h.01M231.9 90.2h.01M227 80.1h.01M231.9 86.4h.01M230.8 80.4h.01M224.8 76.1h.01M233.3 85.8h.01M228.9 79.7h.01M227.5 78.5h.01M231.8 86.2h.01M223 70.9h.01M226.3 74.2h.01M226.5 78.1h.01M226.2 76.7h.01M226.4 77.4h.01M225.8 76.6h.01M232.5 87.1h.01M233.9 88.3h.01M224.1 73.1h.01M227.2 82.1h.01M234.4 86.4h.01M231.9 87h.01M230.4 81.5h.01M234.2 89.6h.01M233.2 90.5h.01M227.2 80.1h.01M232 88.8h.01M230.4 85.9h.01M234.3 88.7h.01M233.3 87.1h.01M227.7 80.7h.01M229.5 82.1h.01M230.8 80.1h.01M228.8 80.1h.01M225.2 76.9h.01M224.4 73.5h.01M232.1 86.4h.01M233.6 89.3h.01M226.8 79.9h.01M231.5 81.1h.01M231.2 81.1h.01M224.3 75.8h.01M224 77.3h.01M230.2 85.7h.01M230.1 82h.01M225.4 78.6h.01M222.9 76h.01M231.3 88.9h.01M230.5 83.6h.01M224.3 77.1h.01M228.9 80.7h.01M236.1 90h.01M229 79.4h.01M224.4 77.9h.01M233.3 87.1h.01M234.4 87.7h.01M235.1 85.1h.01M233.5 90.5h.01M233.3 84.1h.01M232.9 86.6h.01M233.8 89.3h.01M232.2 90.1h.01M234.1 85.7h.01M225.4 78.2h.01M232.1 87.7h.01M234.2 87.3h.01M228.7 80h.01M227.3 75.9h.01M227.9 79.3h.01M223 75.1h.01M223.8 74.5h.01M226.5 77.4h.01M225.1 76.8h.01M227 78.1h.01M230.5 85h.01M230.1 79.9h.01M227.9 77.3h.01M224.3 75.2h.01M224.4 77.4h.01M226.8 76.7h.01M232.9 85.3h.01M227.2 81.5h.01M236.8 91h.01M232.2 86.4h.01M233.5 92.8h.01M229.9 81.7h.01M225.4 80.6h.01M232 87.1h.01M228.7 84.5h.01M232.8 82.6h.01M235.2 88.1h.01M224.5 76.4h.01M231.7 87.9h.01M233.3 83.9h.01M224.5 75.3h.01M231.3 82.3h.01M224.5 76.4h.01M230.9 84.9h.01M231.4 86h.01M224.1 72.2h.01M235 83.6h.01M224 75.2h.01M228.6 82h.01M227.7 77.2h.01M227.8 77.5h.01M232.8 85h.01M223.5 77.1h.01M226.7 77.1h.01M225 77.5h.01M224.4 75.7h.01M229.4 82.4h.01M230.4 86h.01M232.9 87.7h.01M228.6 80.8h.01M227.1 77.7h.01M227 78.1h.01M225.3 77.4h.01M231.6 79.2h.01M232 82.5h.01M222.7 75.4h.01M233.4 88.5h.01M223.9 73.7h.01M224.6 77.5h.01M232.9 82.9h.01M232.3 82.2h.01M230.7 84.9h.01M233 91.5h.01M222.5 78.3h.01M230.5 83.3h.01M228.9 80.6h.01M234.5 92.8h.01M235.5 91.1h.01M231.9 85.2h.01M231.2 82h.01M231.8 85h.01M231.2 85.3h.01M231.2 80.9h.01M227.3 73.9h.01M230.3 85.5h.01M222.3 75.6h.01M223.8 73.6h.01M229.5 80.6h.01M234.7 87.1h.01M224.5 72.5h.01M222 74.4h.01M232 88.4h.01M227 81.1h.01M222.9 75.7h.01M225.9 74.6h.01M230.8 84.1h.01M227 79.4h.01M228.4 79.9h.01M243.9 49h.01M251.6 78.6h.01M252.5 92.4h.01M244.2 65.8h.01M249.7 86h.01M251.5 90.2h.01M248 69.3h.01M241.2 59.2h.01M243.2 59.9h.01M249.7 74h.01M244.5 57.1h.01M246.4 59.9h.01M242.9 51.7h.01M247.8 67.4h.01M252.1 84.7h.01M254.8 91.9h.01M251.6 80.2h.01M247.1 66.4h.01M242.5 55.7h.01M247.2 75.4h.01M251 88.2h.01M250.3 69h.01M245.9 54.2h.01M239.9 47.3h.01M240.4 45.5h.01M251.7 78.6h.01M246.5 73.8h.01M255.3 98.2h.01M241.3 43h.01M245 66.8h.01M244.9 57.6h.01M254.3 86.4h.01M243.5 56.1h.01M253.8 89.3h.01M251.7 92.4h.01M249.5 75.1h.01M243 60.4h.01M251.2 82.7h.01M245.9 81h.01M259.7 93.8h.01M253.8 90.3h.01M252.8 84.9h.01M243 47.6h.01M240.2 46.4h.01M245.4 60.2h.01M255 88.9h.01M254.7 93.6h.01M249 73.8h.01M258.5 86.7h.01M242.4 43.6h.01M248.8 64.7h.01M247.6 67.1h.01M250.9 70.2h.01M255.1 92.7h.01M253.6 95h.01M245.8 75.8h.01M238.2 45.5h.01M240.3 45.8h.01M250.2 72.5h.01M242.8 46.6h.01M253 86.9h.01M247.3 80.3h.01M242 46.1h.01M247.3 67.1h.01M247.4 63.4h.01M245.3 64.7h.01M248.6 81.8h.01M242.5 50.8h.01M243.4 40.8h.01M248 66.6h.01M244.1 62.2h.01M243.1 50.2h.01M243.1 51.7h.01M244 52h.01M248.1 75.5h.01M249 74.3h.01M249.9 74.5h.01M239.9 48.5h.01M245.5 63.2h.01M249.4 63h.01M251.9 66.4h.01M242.6 47.1h.01M247.9 75h.01M246.8 52.4h.01M247.4 61.7h.01M247.1 59.1h.01M246.7 59.5h.01M246 51.8h.01M242.5 53.8h.01M256.4 88h.01M251.4 95h.01M243.8 64h.01M242.4 43.8h.01M248 70h.01M241.7 46.2h.01M245.1 52.6h.01M244.9 58.1h.01M244.3 57.1h.01M248.2 64.3h.01M243.8 45.8h.01M244.2 68.1h.01M245.4 59.7h.01M256.6 93.4h.01M250.6 84.6h.01M240.8 51.7h.01M249.3 71.3h.01M251.1 81.8h.01M247.7 73.5h.01M249.7 86h.01M252.5 80.3h.01M248.4 65h.01M245 44.9h.01M245.1 62.7h.01M248.6 79.5h.01M243.5 52.6h.01M255.6 94.7h.01M244.8 56.6h.01M243.4 48.6h.01M241.1 57.5h.01M248.9 68.2h.01M253 90h.01M242.1 55.8h.01M255.4 94.8h.01M244.1 54.8h.01M255.7 95.6h.01M255.1 92.2h.01M244.9 60.3h.01M242 53.7h.01M248.5 70.4h.01M242.6 48.9h.01M255.8 93.5h.01M256.1 97.6h.01M244 48.7h.01M246.7 59.3h.01M249.5 71.4h.01M247.9 73.5h.01M251.8 63.1h.01M253.5 90.1h.01M249.5 68.1h.01M248 75.7h.01M248 77.7h.01M252.9 96.4h.01M254.5 95.7h.01M241.7 44h.01M251.2 68.9h.01M245.7 69.3h.01M240.6 60.3h.01M254.4 90.7h.01M254.8 91.8h.01M249.1 71.8h.01M254.6 97h.01M254.9 92.8h.01M245.5 65.7h.01M244.4 54.5h.01M244.1 49.1h.01M244.3 58.2h.01M239.4 42.9h.01M254.2 86.6h.01M250.8 74.3h.01M253.9 93.8h.01M243.3 45.9h.01M242.8 46.1h.01M254 89.8h.01M247.4 73.5h.01M252.3 72h.01M246 57.6h.01M241.8 60.8h.01M244 43.5h.01M244.6 69.5h.01M251.7 85.3h.01M247.4 79.1h.01M257.1 99.7h.01M246.8 70.1h.01M252.9 87.2h.01M246.9 89.6h.01M244.3 62.6h.01M243.7 59.2h.01M249.7 82.8h.01M246.7 62.6h.01M243.6 68.5h.01M252.2 93.2h.01M249.6 90.3h.01M256.8 95.9h.01M246.6 72.7h.01M246.8 65.2h.01M255.1 91.2h.01M236.1 55h.01M239.2 58.4h.01M254.3 85.5h.01M257.2 90.5h.01M253.6 92.9h.01M254 91.2h.01M248.7 84.8h.01M251.9 74.1h.01M243.2 64.3h.01M242 58.8h.01M258.6 91.5h.01M250.3 79.1h.01M236.5 56.2h.01M241.8 57.7h.01M254.6 98.6h.01M251.9 95.4h.01M255.4 94.9h.01M254.3 86.8h.01M248.1 70.2h.01M252.6 82h.01M248.7 71.3h.01M254.5 88.4h.01M251.3 102.5h.01M252.8 88.9h.01M252.6 88.4h.01M248.1 75.2h.01M248.5 94.6h.01M245 80.7h.01M249.6 82h.01M244.4 56.7h.01M248.2 74.9h.01M243.8 74.3h.01M244 65h.01M237.9 56.8h.01M253.2 92.7h.01M250.5 91.9h.01M245.3 64.8h.01M238.5 56.6h.01M252.1 90.6h.01M243.6 55.1h.01M237.2 54.3h.01M240.5 55.8h.01M241 57.3h.01M246.5 77.6h.01M252.2 85.9h.01M247.8 76.8h.01M246.7 70.4h.01M244 61.5h.01M248.1 71.6h.01M242.4 63.4h.01M251.5 80.5h.01M251 89.5h.01M255.8 95.2h.01M245.6 65.7h.01M241.2 58.4h.01M238.4 64.7h.01M244.2 69.8h.01M249.9 76.9h.01M243.8 64.9h.01M246.2 70.9h.01M248.3 85.4h.01M243.2 65.9h.01M253.3 93.5h.01M241.3 61.1h.01M248.9 87.9h.01M251.3 78.6h.01M255.1 95.3h.01M253.9 86.1h.01M250.2 78.1h.01M241.5 62.1h.01M250.5 82.5h.01M245.1 76h.01M249.9 74.2h.01M248.7 74h.01M247.7 72.7h.01M238 60.7h.01M247.3 77.6h.01M256.8 89.6h.01M240.9 69.6h.01M253.4 88.8h.01M245.8 60.2h.01M243.8 70.7h.01M253.9 89h.01M253.3 86.4h.01M243.4 64.9h.01M250.8 89.7h.01M254.4 94.8h.01M260 93.7h.01M254.5 83h.01M242.1 72.9h.01M239.3 65.1h.01M248.3 77.4h.01M252.1 93.5h.01M244.2 62.9h.01M258.6 91.6h.01M252.6 95.5h.01M249.4 82.7h.01M254 80.4h.01M246.6 63.3h.01M245.2 81.5h.01M249.6 77.6h.01M241.8 61.9h.01M250.9 97.1h.01M239.5 61.3h.01M253.4 82.6h.01M255.8 95.8h.01M243.9 80.8h.01M249.9 92.1h.01M242.1 75.6h.01M247.3 70.4h.01M242.3 65.6h.01M241.5 57.5h.01M242.3 64.3h.01M242.4 60.2h.01M257.3 94.9h.01M257 95.7h.01M243 95.4h.01M236 96h.01M250 97.1h.01M243.9 93.8h.01M235.3 95.9h.01M238.7 97.3h.01M252.7 97.7h.01M241.9 92.6h.01M239 96.4h.01M246.2 96.4h.01M241.2 94.7h.01M237.6 93.1h.01M241.1 95h.01M239.8 95.6h.01M253.1 97.2h.01M240.1 95.1h.01M240.1 96h.01M256.8 97.4h.01M240.9 95.9h.01M248.9 97.1h.01M245.6 96.7h.01M238.8 96.2h.01M236.6 95.2h.01M251.7 96h.01M236.3 93.8h.01M242.3 94.6h.01M240 97.3h.01M237.9 93.9h.01M243.5 92.8h.01M245 94.8h.01M245.2 95h.01M252 97h.01M241.2 94.9h.01M241.9 95.2h.01M253.3 94.4h.01M245.7 95.7h.01M253.7 95.6h.01M249.8 97.8h.01M245.1 91.7h.01M242.8 94.3h.01M240.1 93.7h.01M237 95.1h.01M254.2 98.4h.01M236.6 95h.01M240.7 91.7h.01M240.1 96.1h.01M243.8 96.4h.01M249.4 95.1h.01M237.5 94.9h.01M246.6 97.6h.01M239.2 93h.01M245.2 96.4h.01M239.8 97h.01M246.9 98.4h.01M253.4 100h.01M247.1 97h.01M245.7 94.6h.01M249.6 96.1h.01M242.3 93.5h.01M238.7 93.8h.01M250.6 96.3h.01M250.7 96.7h.01M242.1 96.1h.01M256.5 95.5h.01M241.6 94.4h.01M249.6 99.9h.01M236.3 95.6h.01M252.8 96.6h.01M245.2 95.5h.01M254.8 96.2h.01M243.7 95.6h.01M252.4 95.5h.01M242.1 94.8h.01M250 96.6h.01M243.2 97h.01M249.2 97.3h.01M242.4 94h.01M240.7 93.9h.01M253.6 90.6h.01M256.2 96h.01M255.8 97.1h.01M254.7 90.4h.01M253.6 92.2h.01M254.4 96.8h.01M256.3 97.2h.01M254.6 94.3h.01M255.7 96.9h.01M254.9 98.3h.01M254.4 92.6h.01M256.8 98.9h.01M254.6 93.1h.01M255 96.6h.01M255.6 93.7h.01M254.5 93h.01M255.1 93h.01M254.5 92.9h.01M255.4 95.3h.01M255.3 96.8h.01M256.2 97.7h.01M255.2 94.1h.01M254.4 95.5h.01M256.1 97.3h.01M255.1 92.1h.01M254.3 93.9h.01M255.2 90.9h.01M254.9 96.1h.01M253.6 90.8h.01M255.1 92.6h.01M255.5 94.5h.01M256.3 98.2h.01M255.6 93.6h.01M255.4 97.1h.01M255.4 93.3h.01M255.1 95.6h.01M255.7 97.6h.01M256.5 98.2h.01M255.7 93.3h.01M256 98.8h.01M255.6 92h.01M255.6 98h.01M254.7 94.9h.01M256.5 98.6h.01M255.4 93.1h.01M255.7 92.4h.01M254.2 90.6h.01M254.5 92.7h.01M254.7 97.4h.01M255.7 95h.01M254.9 90.3h.01M255.3 93.4h.01M254.4 94h.01M255.8 94h.01M254.8 92.1h.01M254.7 96.8h.01M254.9 94.3h.01M254.3 91h.01M256.1 94h.01M254.7 92.8h.01M255.3 95.2h.01M253.7 91.6h.01M254.5 91.6h.01M255.6 94.6h.01M255 94.7h.01M254.2 91h.01M255.3 95.7h.01M254.6 90.7h.01M255.8 98.5h.01M256.5 98.8h.01M254.8 95.5h.01M256 96.3h.01M254.9 89.9h.01M253.6 91.6h.01M254.8 93.2h.01M256.5 95h.01M254.3 98.5h.01M255.5 92.1h.01M256.1 93.5h.01M255.6 96.9h.01M255.1 97.7h.01M254.7 93h.01M254.9 96.3h.01M254.8 93.4h.01M254.4 91.4h.01M254.1 92.2h.01M255.1 91h.01M255.7 95.6h.01M254.7 93h.01M256 99.2h.01M204.3 75.9h.01M230.3 75h.01M216.5 67.1h.01M227.4 52h.01M232 68.1h.01M220 84.2h.01M219.2 71.1h.01M215.5 57.5h.01M235.2 85.7h.01M225.4 61.5h.01M222.9 55h.01M231.3 87.1h.01M218.4 56.4h.01M230.3 74.7h.01M220.8 63.8h.01M202.5 70.2h.01M211.2 77h.01M215.2 74.7h.01M215.8 78.5h.01M212.6 68.1h.01M229.3 53.3h.01M197.1 83.5h.01M223.2 90.8h.01M229.4 87.4h.01M207.8 81h.01M226.6 91.6h.01M224 63.1h.01M229.7 65.7h.01M204 86.8h.01M212.8 65.7h.01M207.2 72.7h.01M226.9 86.6h.01M195.2 85.7h.01M200.4 87.2h.01M200.7 88.4h.01M223.8 81.3h.01M221.4 77.8h.01M226.1 90.1h.01M216.3 63.4h.01M221.7 75.5h.01M230.8 59.1h.01M213.5 80.7h.01M203.8 85.4h.01M219.4 56.9h.01M205.7 67.3h.01M217.5 62.3h.01M187.7 83.3h.01M219.9 71h.01M219.2 59.8h.01M197.7 76.1h.01M215.6 60.3h.01M207.7 82.5h.01M222.1 63.2h.01M219 64.4h.01M224.1 51.2h.01M214 84.2h.01M219.7 81.4h.01M184.5 84.4h.01M231.8 88.5h.01M210.7 63.6h.01M200.6 76.2h.01M197.3 85.1h.01M198.7 87.3h.01M224.8 74h.01M223.1 77.3h.01M228.8 50.5h.01M207.3 65.4h.01M196.7 78.2h.01M226.5 71h.01M215.6 67.6h.01M204.8 85.7h.01M218.2 63h.01M205.5 80.8h.01M224.5 87.5h.01M231.6 88.6h.01M225.4 61.4h.01M229.2 62.5h.01M225.7 54.3h.01M217.6 73.1h.01M188.8 81.3h.01M212.6 82.4h.01M222.6 89.9h.01M229.1 91.1h.01M222.3 65h.01M223.6 60.4h.01M221.7 71.4h.01M229.4 87.8h.01M223.4 87.9h.01M188.8 81.5h.01M221.2 65h.01M226 83.1h.01M223.3 79.4h.01M226.1 64.7h.01M198 82.9h.01M216.1 69.7h.01M188.4 81.8h.01M211.2 79.1h.01M214.8 89.4h.01M192.4 85.1h.01M215.9 63.9h.01M211.1 64.1h.01M222.7 69h.01M201.9 72.6h.01M183.2 87.9h.01M225.7 50.2h.01M190.2 81.9h.01M222.5 92.6h.01M219.5 59.2h.01M214.7 86.3h.01M232.2 72.5h.01M227.2 92.5h.01M212.7 67.5h.01M217.3 58.4h.01M235.4 86.6h.01M191.4 82.7h.01M219 73.7h.01M235.1 86.6h.01M202.6 84.3h.01M218.8 89.6h.01M228.2 89h.01M226.5 67.4h.01M218 81.7h.01M218.2 70.7h.01M229 85.5h.01M188.7 86.3h.01M230.6 79.7h.01M225.6 66.9h.01M231.8 87.1h.01M222.5 75.8h.01M213.5 76.7h.01M232 93.4h.01M217.6 92.2h.01M228.5 58.9h.01M204.9 72.4h.01M217.6 73.2h.01M217.7 75.3h.01M206.6 66.3h.01M236 92.4h.01M216.3 89.5h.01M212.5 77h.01M203.3 87.5h.01M190.5 81.3h.01M218.3 81.2h.01M221.4 84.9h.01M225.6 73.5h.01M207.2 75.9h.01M230.3 90.9h.01M196.1 87.1h.01M227.6 58.8h.01M205 88h.01M221 64.8h.01M227.1 62.9h.01M188.9 85.2h.01M211.8 75.6h.01M204 86.1h.01M229.7 85.6h.01M227.6 56.3h.01M216.4 58.5h.01M201 82.9h.01M228 89.5h.01M193 84.4h.01M198.6 82.8h.01M200.3 81.1h.01M207.4 66.3h.01M223.5 63.6h.01M228.1 56.9h.01M226 53.9h.01M228.4 62.3h.01M220.3 81.2h.01M225.5 78.7h.01M225.7 74.5h.01M234.5 87.1h.01M226.7 59.9h.01M229.2 59.3h.01M227.8 65.2h.01M227.2 62.3h.01M227.1 76.2h.01M229.3 83.2h.01M227.4 73.5h.01M226.8 69.5h.01M232.4 87.8h.01M230.2 69.1h.01M233.6 82.1h.01M227.9 66.7h.01M227.1 55.8h.01M231.3 64.9h.01M234.6 81.1h.01M228.6 52h.01M228.3 81.6h.01M230.2 81.6h.01M231.3 75.4h.01M228.2 60.3h.01M234.5 83.2h.01M224.8 66.6h.01M234.6 88.2h.01M225 75.3h.01M227.7 67.4h.01M229.3 60h.01M234.6 85.3h.01M226.6 59.7h.01M228.5 67.8h.01M227.7 70.5h.01M233.3 85.3h.01M223.5 73.5h.01M230 75.5h.01M228.7 64.2h.01M225.9 68.5h.01M233.4 89.2h.01M233.4 78.5h.01M229.5 65.6h.01M234.9 87.4h.01M224.3 67.2h.01M227.9 73.7h.01M231.9 83.3h.01M230 75.1h.01M226.3 63.9h.01M228.5 76.2h.01M232.5 74.9h.01M226.9 58.3h.01M228.5 56.2h.01M230.8 83.3h.01M230.9 72.2h.01M232.9 70.8h.01M230.1 65.5h.01M229.2 66.7h.01M229.1 64.3h.01M232.5 79.9h.01M228.5 67.2h.01M229.9 60.4h.01M231.8 82.4h.01M227 77.9h.01M226.5 66.6h.01M229.1 71.1h.01M233.6 75.3h.01M226.5 71.2h.01M225 75.5h.01M230.7 71.3h.01M231 63.1h.01M225 66h.01M230.5 70.2h.01M232.6 70.6h.01M233.2 85.8h.01M231.4 65.2h.01M228.2 55.1h.01M224.7 74.5h.01M233.6 86.1h.01M228.4 70.2h.01M224.9 74.4h.01M225.6 75.2h.01M228.6 80.1h.01M231.6 67.7h.01M232.5 86h.01M229.4 52.8h.01M232.9 87.9h.01M229.1 58.8h.01M229.4 53.1h.01M233.3 73.3h.01M234.9 90h.01M230.8 68.6h.01M227.2 66.8h.01M224.2 71.5h.01M229.3 52.7h.01M229.2 52.4h.01M230 60.8h.01M228.6 58.9h.01M231.5 83.1h.01M229.9 80.6h.01M228.2 70.2h.01M231.1 73.7h.01M232.1 72.7h.01M229.1 67.5h.01M230.4 72.6h.01M232.4 68.7h.01M233.2 77h.01M232.8 71h.01M234.6 90.9h.01M229.2 61.5h.01M227.5 52.3h.01M229.7 67.5h.01M234.5 90.1h.01M229 56.1h.01M229.8 82.5h.01M230.4 71.6h.01M230.1 58.9h.01M232 81.7h.01M227.6 75.6h.01M228.1 60.2h.01M231.4 69.4h.01M225.2 76.2h.01M231.7 84h.01M227.2 53h.01M228.6 82.3h.01M230.3 81h.01M229.1 69h.01M223.2 72.7h.01M225 70.5h.01M228.5 58.3h.01M224.9 75.3h.01M227.7 67.3h.01M230.2 58.5h.01M225.9 62.6h.01M233.1 79.8h.01M224.9 72.2h.01M230.7 61.4h.01M229.6 83.1h.01M226 67h.01M232.9 84.6h.01M231 73.1h.01M230.3 57.9h.01M228.7 71.1h.01M225.5 76.7h.01M227.4 63.5h.01M229.9 73.4h.01M227.5 76.8h.01M226.4 61.7h.01M228.1 70.8h.01M228.1 68.6h.01M228.7 49h.01M231.8 65.9h.01M227.7 72.8h.01M225.8 71.7h.01M232 82.5h.01M226.6 58.2h.01M233 83h.01M228 56.1h.01M234.5 80.8h.01M229.4 76.6h.01M228.7 81.9h.01M223.7 74.9h.01M231.3 79h.01M227.5 58.8h.01M223.4 73.2h.01M228.1 80h.01M226.8 75.8h.01M229 55.4h.01M223.9 72.8h.01M228 53.5h.01M235.9 90.7h.01M230.1 69.8h.01M230.1 74.9h.01M230.3 72.9h.01M226.8 58h.01M230.1 79.5h.01M227.8 61.5h.01M227.7 69h.01M229.6 67.7h.01M227.6 53.9h.01M235.2 86.9h.01M226.5 77.5h.01M227.7 53.8h.01M231.4 75.8h.01M235.6 91.8h.01M230.3 76h.01M229.8 64.9h.01M226.7 65.4h.01M232.5 86.6h.01M235.5 88.3h.01M231.1 66.6h.01M230.2 57.5h.01M231.2 72.5h.01M234.8 90.5h.01M226.9 73.6h.01M232.9 79.2h.01M226.3 64.6h.01M226 66h.01M227.8 68.6h.01M228.9 80h.01M229.2 78.8h.01M228.6 50h.01M225.7 63.5h.01M234.9 84.1h.01M230.1 59.1h.01M232.6 73.1h.01M231.3 75.7h.01M231.3 82.3h.01M229.3 77.2h.01M233.8 76.4h.01M226.6 57.1h.01M234.9 89.7h.01M228.2 64.9h.01M226.6 58.3h.01M229.6 80.8h.01M228.7 71.3h.01M230 81.4h.01M230.7 60.5h.01M226.5 76.4h.01M230.4 80.9h.01M228.3 76.5h.01M227.2 57.4h.01M227.9 49.5h.01M227.1 56.3h.01M226.4 78.7h.01M234.2 85h.01M225.6 70.6h.01M226.8 76.5h.01M230.4 65h.01M227 78.7h.01M235.3 87.5h.01M227.1 53.9h.01M223.8 71.6h.01M229.6 72.2h.01M228.9 54.7h.01M224.9 64.2h.01M234.6 90h.01M225.4 62.2h.01M227.9 54.4h.01M226.7 62.7h.01M229.4 61.7h.01M228.7 78h.01M233.2 84.2h.01M229.7 55.9h.01M225.3 75.2h.01M227 59.1h.01M235.8 91.2h.01M229.4 66.5h.01M231.5 67.8h.01M228.9 48.6h.01M226.8 56.9h.01M224.2 73.5h.01M231.7 81.3h.01M231.6 76.2h.01M231.5 68.1h.01M229.1 59.9h.01M227.9 74.8h.01M230.4 75.5h.01M231.4 66.1h.01M226.8 58.6h.01M229.9 62.3h.01M228.6 82.1h.01M234.1 86.2h.01M230.8 74.2h.01M230.7 63.3h.01M234.6 88.2h.01M230 67.1h.01M226 76.1h.01M229.3 62.3h.01M230 61.4h.01M235.6 92.1h.01M233 73.5h.01M227.3 54.2h.01M235.9 89h.01M227.5 61.4h.01M230.8 72h.01M223.8 71h.01M226.3 69.9h.01M230.1 75.5h.01M228.5 81.6h.01M231.9 75h.01M231.4 64h.01M225.7 64.1h.01M236.9 52.4h.01M235.2 68.5h.01M237.2 70.2h.01M237.5 63.5h.01M232.5 53.6h.01M235.7 65.2h.01M238.2 57.8h.01M233.7 65.5h.01M231.8 63.8h.01M236.6 69.3h.01M238.3 45.3h.01M237.3 65.8h.01M238.4 62.1h.01M236.5 74.4h.01M238.5 44.9h.01M231.7 59.3h.01M235.5 49.6h.01M234.4 52.2h.01M238.6 57.8h.01M230.8 56h.01M233.6 64h.01M239.2 50.7h.01M238.4 51.3h.01M235.8 57.8h.01M232.9 52.2h.01M231.6 51.9h.01M236.6 60.5h.01M237.5 52.7h.01M238.9 53.4h.01M235.1 58.9h.01M238 52.4h.01M233.3 46.8h.01M236.1 60.4h.01M234.8 63.5h.01M230.4 51.3h.01M234.8 44.8h.01M233.7 66.5h.01M237.6 82.1h.01M236.6 44.4h.01M235.2 81.5h.01M231.7 57.4h.01M233.3 51.6h.01M234.3 67.3h.01M234.6 76.9h.01M237 49.1h.01M234.1 67.9h.01M236.1 59.4h.01M238.4 54h.01M234.6 63.6h.01M237.6 75.5h.01M238.9 43.6h.01M238.4 61.1h.01M232.9 45h.01M236.2 46.9h.01M234 61.7h.01M239 56.8h.01M236.2 68.3h.01M238.1 52.4h.01M238.8 65.2h.01M231.5 46.1h.01M239.3 58h.01M233.6 68.1h.01M236.9 61.7h.01M237.3 58.8h.01M235.7 75.4h.01M236.9 51h.01M230.6 52.3h.01M234.6 63.1h.01M234.5 61.3h.01M233.4 56.9h.01M239.9 43.2h.01M239.3 55.7h.01M235.5 72.1h.01M236.6 61h.01M239.1 48.1h.01M236.4 74.9h.01M232.7 67.1h.01M237.4 76.9h.01M237.7 48.1h.01M235 62.7h.01M230.4 55.3h.01M236.8 87.2h.01M236.2 59.2h.01M231.1 53.3h.01M239.5 43.9h.01M235.9 75.2h.01M238.4 66.6h.01M234.6 54.5h.01M237.9 72.4h.01M239.9 48.2h.01M239.6 46.1h.01M232.7 50h.01M235.9 49.7h.01M238.7 62.3h.01M229.9 46.2h.01M235.9 74.2h.01M233 63.3h.01M237.1 69.7h.01M229.7 50.7h.01M233.4 45.6h.01M235.1 76.7h.01M238.5 44.1h.01M231.9 61.4h.01M235.7 82.9h.01M236.2 78.4h.01M235.4 73.6h.01M233.7 52.6h.01M239.2 49h.01M231.3 50.2h.01M235.2 55.4h.01M236.5 57.2h.01M232.2 61.8h.01M234.5 57.8h.01M236.3 58.7h.01M239 65.6h.01M232 56.5h.01M233.6 47h.01M236 80.9h.01M231.1 50.3h.01M232.1 49.6h.01M237.1 91.4h.01M238 52.9h.01M232.6 50.7h.01M234 47.2h.01M235.9 65.1h.01M230.8 47.2h.01M234.5 67.4h.01M239 55.7h.01M231.8 50.9h.01M238 54.6h.01M234.3 54.5h.01M234.7 60.5h.01M240.1 48.9h.01M231.3 54.4h.01M238.2 52.4h.01M232.8 66.4h.01M239 50.1h.01M240.4 44.8h.01M235 56.8h.01M239.4 55.4h.01M237.6 53.9h.01M239.5 55.5h.01M237.3 83.6h.01M234.6 66h.01M237.4 62.7h.01M236.5 64.8h.01M239.6 46.6h.01M233.2 62.7h.01M235 52h.01M236.1 59.6h.01M234.6 51.9h.01M229.9 48.7h.01M234.2 58.4h.01M236.2 83.2h.01M236.6 78.3h.01M233 47.5h.01M235.2 48h.01M235.1 70.7h.01M232.9 65.9h.01M233.9 64.7h.01M233.9 64.3h.01M232.4 55.6h.01M236.4 67.9h.01M233.2 55.6h.01M237.4 87.6h.01M232.8 54.7h.01M237.9 46.9h.01M235.5 80.4h.01M234.5 53.2h.01M236.2 73.1h.01M233.6 47.2h.01M234.4 76.1h.01M238.5 68.7h.01M237.7 73.7h.01M236.5 81.4h.01M233.6 71.1h.01M231.6 53.3h.01M235 51h.01M235.8 63h.01M238.4 66.8h.01M231.2 50.5h.01M237.7 54.2h.01M237.8 60.9h.01M236.6 62.1h.01M239.9 44.7h.01M230.1 46.4h.01M235.5 75.2h.01M236.3 47.7h.01M233.9 62.9h.01M233.6 70.5h.01M237.8 72.5h.01M230.6 54.3h.01M236.9 52h.01M234.4 78h.01M237.4 48.6h.01M234.1 48.3h.01M239.2 57.3h.01M235.8 72.7h.01M233.5 67h.01M237.2 47.5h.01M237.5 55.5h.01M238 59.6h.01M232.5 67.7h.01M234.2 45.4h.01M235.3 50.3h.01M231.1 52.1h.01M236.1 51.5h.01M232.7 49.6h.01M233.1 67.2h.01M234.5 59.4h.01M239.5 53.1h.01M230.5 47.2h.01M237.1 58.6h.01M233.7 57.1h.01M234.7 57.6h.01M235.7 51.2h.01M232.2 58.6h.01M234.9 61.3h.01M234.8 80h.01M228.9 47.1h.01M233.9 59.8h.01M233.9 59.8h.01M238.2 44.6h.01M233.3 71.6h.01M239.4 48.7h.01M238.6 57.2h.01M235.4 45.5h.01M235.2 65.4h.01M235.1 52.3h.01M233.3 64.1h.01M236.1 61.7h.01M235.4 67.6h.01M238 77.7h.01M233.4 45.8h.01M230.4 46h.01M237.4 67.3h.01M237 72.2h.01M236.3 71.3h.01M234.3 48.9h.01M230.8 58.7h.01M234.5 72.6h.01M234.1 64.8h.01M236.4 74.3h.01M231.9 61.2h.01M240 50.2h.01M237.1 79.6h.01M237.2 80.1h.01M234.2 45.8h.01M238.7 69.9h.01M237.4 49.3h.01M231.8 50.4h.01M229.5 47.8h.01M233.9 53h.01M235.3 55.9h.01M238.1 61.4h.01M239 65.3h.01M238.7 58.4h.01M235.8 58.2h.01M238 69.2h.01M232.7 45h.01M237.6 71.7h.01M237.2 83.1h.01M235.6 70h.01M232.5 51.5h.01M235.5 56.3h.01M235.1 73.4h.01M230.9 53.8h.01M235.8 48.8h.01M237.3 76.3h.01M231.7 63.8h.01M237.1 71.6h.01M230.4 51.8h.01M235.5 54.8h.01M235.7 86.9h.01M237.9 59.3h.01M231.1 59.7h.01M236.1 61h.01M235.3 63.2h.01M230.4 50.5h.01M235.3 61.5h.01M239.6 50.8h.01M236.9 83.5h.01M233.6 74h.01M233.7 55.9h.01M237.6 55.2h.01M237.2 83.1h.01M232 51.7h.01M235 64.1h.01M236.5 58.3h.01M236.2 69.4h.01M234.3 70.8h.01M236 44.7h.01M233.3 45.9h.01M236.8 62.9h.01M232.9 63.1h.01M233.8 60.8h.01M238 80h.01M238.7 64.6h.01M233.1 57.4h.01M234.8 52.7h.01M245.5 72.8h.01M242.6 71.6h.01M249 76h.01M245.4 95.6h.01M241.3 48h.01M244.4 81.6h.01M250 95.7h.01M248.8 87.5h.01M247.6 82h.01M250.6 95.8h.01M246.8 65.5h.01M250.4 85.4h.01M241.8 51h.01M240.4 59.3h.01M239.3 80.2h.01M244.1 75.7h.01M249.3 94.7h.01M246.5 74.2h.01M245.9 66.1h.01M251.9 94.9h.01M250.8 84.1h.01M239.6 87.7h.01M240.9 51.8h.01M240.6 86h.01M252.5 94.7h.01M243 60.7h.01M243.8 65.8h.01M240 81h.01M239.8 90h.01M241.4 53h.01M239.2 78.4h.01M244.1 91h.01M248.8 84.6h.01M245.2 70.3h.01M240.2 49.5h.01M245 62.4h.01M252 92.1h.01M238.3 83.3h.01M238.9 92h.01M240.9 65.7h.01M242.2 65.7h.01M243.8 72.8h.01M245.2 84.4h.01M243.3 93.4h.01M237.8 93.5h.01M239.5 63.2h.01M241.1 60.6h.01M251.5 94.4h.01M237.8 85.1h.01M250.1 90.6h.01M249.6 93.8h.01M239.9 53h.01M240.1 93h.01M248.3 86.4h.01M241.4 60.8h.01M239.6 65.1h.01M242.2 73.8h.01M243.2 93.9h.01M247.4 70.9h.01M246.4 73.5h.01M243.5 76.2h.01M241.5 67.6h.01M239 76h.01M239.4 61.7h.01M250.2 91.8h.01M243.2 78.3h.01M239.4 84.9h.01M241.4 70.2h.01M240.3 90h.01M248.1 72.1h.01M250 93.8h.01M240.1 66.6h.01M242.8 60.4h.01M241.2 84.9h.01M253.1 89.9h.01M246.7 77.7h.01M248.9 96.4h.01M240.6 57.3h.01M243.6 77.6h.01M244.5 63h.01M251 85.8h.01M240 64.4h.01M244.6 89.8h.01M240.2 67.5h.01M247 81h.01M239.9 54.3h.01M241.3 81.5h.01M249.3 76.8h.01M240.9 49.7h.01M242.8 64.3h.01M249.5 92.4h.01M243.9 74.7h.01M245.6 80.2h.01M243.8 59h.01M247.4 93.8h.01M247.2 69.7h.01M254 93h.01M239.7 66.3h.01M244.1 58.6h.01M239.2 86.6h.01M252.3 93.6h.01M244.3 87h.01M250.4 80.6h.01M240.7 92.2h.01M247.2 80.6h.01M248.8 94.5h.01M239.9 65.3h.01M238.7 91.9h.01M243.3 79.2h.01M252.5 86.3h.01M238.4 79.6h.01M244.2 56.7h.01M252.4 93.5h.01M246.8 74.9h.01M243.7 63.6h.01M239.6 79.4h.01M238.8 87.6h.01M245.6 61.7h.01M242.6 56.3h.01M248.2 85.2h.01M242.1 69h.01M248.9 75.9h.01M240.5 54.6h.01M240.5 60.7h.01M246.5 87.1h.01M239.6 65.9h.01M239.8 54.4h.01M239 67.9h.01M243.4 59.6h.01M248.8 81.5h.01M242.3 49.3h.01M237.1 93.2h.01M246.9 82h.01M247.6 84.7h.01M253 91h.01M245.9 86.5h.01M242.7 73.3h.01M243.5 56.8h.01M243.9 59.8h.01M247.5 81.5h.01M251.9 94.4h.01M238.7 86.3h.01M242.3 71.9h.01M245.8 65.9h.01M247.9 94.9h.01M240.4 64.2h.01M246.7 93.8h.01M242.2 81.7h.01M242.5 67h.01M245.4 91.7h.01M237.2 92.4h.01M240.2 66.8h.01M247.5 71.1h.01M240.5 61.4h.01M243.3 69.2h.01M247.2 93.3h.01M243.1 58.1h.01M246.7 90.4h.01M241.1 51.8h.01M245.2 78.6h.01M243.5 65.9h.01M244.9 65.8h.01M242.1 91h.01M240.8 51.9h.01M240.5 73.1h.01M239.1 69.5h.01M242.7 61.2h.01M245.7 78.6h.01M247.7 70h.01M251.5 94.2h.01M240.8 49.8h.01M251 91.8h.01M245.8 70.2h.01M241.3 45.5h.01M237.3 94h.01M245.8 92.8h.01M244.7 70.2h.01M248 71h.01M251.5 93.6h.01M239.6 57.3h.01M241.9 86.9h.01M240.2 85.4h.01M250.5 79.3h.01M242.3 51.3h.01M241.8 62.1h.01M247.1 83.8h.01M252.6 87.3h.01M246 89.6h.01M247.6 68.7h.01M242.4 86.3h.01M249.2 78.6h.01M241.2 48.1h.01M246.2 91.3h.01M245.8 91.2h.01M243.9 71.3h.01M243 52.1h.01M248.2 94.9h.01M243.9 58.6h.01M238.3 76.8h.01M246.5 86.2h.01M245.7 82.9h.01M251.6 83.8h.01M240.7 63.8h.01M242.1 71.4h.01M250.1 79.7h.01M248.4 87.9h.01M245.2 72.6h.01M239.6 86.1h.01M247.4 73.4h.01M244.4 74h.01M241.7 83h.01M247.5 71.7h.01M253.1 92h.01M246.5 95.9h.01M242.9 59.2h.01M242 64.9h.01M241.1 47.4h.01M251 92.6h.01M242.8 89.8h.01M247.1 74h.01M238.9 82.4h.01M243.9 62.7h.01M244.2 70.3h.01M250.9 86.4h.01M248 96.3h.01M246.5 65.1h.01M244.5 83.1h.01M249 85.7h.01M241.8 75.6h.01M244.9 61h.01M241.1 64.3h.01M244.1 77.4h.01M248.2 87.7h.01M245 72.5h.01M249.1 88h.01M248.5 89.7h.01M240 90.5h.01M246 82h.01M247.3 67.3h.01M243.4 80.6h.01M243.2 61.2h.01M243.2 95.2h.01M245 78.5h.01M246.5 81.5h.01M240.3 80.2h.01M241.8 58h.01M252.6 88h.01M241.2 77h.01M238.9 88.3h.01M246.4 85h.01M245.2 69.3h.01M242.3 92.7h.01M242.4 87.1h.01M243.8 71.3h.01M245 85.1h.01M248.5 88.4h.01M245 81.5h.01M240.8 57.7h.01M249 80.8h.01M242.3 71.9h.01M215.8 77.4h.01M191.2 84.4h.01M183.8 87h.01M201.6 81.4h.01M194 88.8h.01M219 79.5h.01M208.8 85h.01M203.1 90.8h.01M217 82.2h.01M229.5 83.9h.01M216.2 91.6h.01M195.1 86.5h.01M234.8 93.9h.01M217.8 82.3h.01M228.4 84.1h.01M223 80.4h.01M203.1 89.3h.01M228.7 87.4h.01M224.4 80.5h.01M226 83.4h.01M205.3 81.7h.01M208.2 88.4h.01M197.1 89.6h.01M222.8 86.2h.01M208.1 83.7h.01M199.7 89.6h.01M198.7 90.1h.01M223.2 85.9h.01M217.5 91.6h.01M219.7 76.3h.01M189.5 87.9h.01M208.4 82h.01M224.2 81h.01M222.5 88.5h.01M223.5 91.7h.01M207.1 88.8h.01M215.2 79.2h.01M219.7 92.1h.01M223.6 92.1h.01M192.2 87.7h.01M231.1 92.2h.01M229.3 84.6h.01M212.5 83h.01M206.7 85.6h.01M218.6 91.4h.01M219.3 88h.01M220.4 78.1h.01M229.9 88.6h.01M188.2 85.9h.01M196.6 85.5h.01M220.6 87.9h.01M218.7 91.9h.01M214.1 80.5h.01M182.8 87.6h.01M207.4 80.9h.01M189.3 85h.01M214.9 77.1h.01M223.4 92.3h.01M220.3 79.3h.01M228.2 92.4h.01M213.9 85.9h.01M226.7 91.9h.01M235.3 93h.01M199 86.6h.01M221.7 89.4h.01M219 89.2h.01M215.8 80.7h.01M233.6 93.1h.01M223.7 91.3h.01M208.2 90.6h.01M226.4 88.5h.01M198.3 88h.01M198.2 88.9h.01M216.6 83.4h.01M214 88.4h.01M214.6 79h.01M210.4 81.8h.01M228.3 88h.01M181 88.3h.01M216.7 76.9h.01M230.5 90.4h.01M221.3 79h.01M221.1 79h.01M209.8 88.8h.01M217.9 92.1h.01M206.8 84.3h.01M206.8 85.1h.01M218.1 78.2h.01M203.8 85.7h.01M220.1 75.7h.01M235.3 59.3h.01M238.1 51.5h.01M237.8 51.9h.01M235.7 54.6h.01M236.7 57.7h.01M231.5 47.3h.01M236.4 47.5h.01M238.6 43.6h.01M235.5 56.5h.01M233.7 54.2h.01M236.7 47.8h.01M236.8 43.8h.01M229.4 47.1h.01M233.5 52h.01M235.2 44.7h.01M234.4 58.2h.01M235.8 49h.01M236.9 54.6h.01M233.5 49.2h.01M235 47.2h.01M235.9 49.5h.01M237.3 53.1h.01M237.3 51.3h.01M234.4 46.8h.01M232.6 50.6h.01M236.3 59.7h.01M234.3 56.5h.01M236.9 53.5h.01M234.5 54.7h.01M237.5 54.5h.01M231.8 47.1h.01M233 46.3h.01M237.1 50.9h.01M234.5 57.4h.01M231.7 49.3h.01M234.6 58.2h.01M237.5 47.5h.01M233 51.8h.01M238.1 51.9h.01M235.1 58.7h.01M235.6 52.9h.01M231.8 45.2h.01M239.5 43.9h.01M236 51.3h.01M237.8 53.5h.01M235.3 58.5h.01M239 47.4h.01M234 51.8h.01M236.2 49.7h.01M231.4 50.7h.01M235.9 44.8h.01M233.9 44.9h.01M236.5 45.3h.01M237.4 48.9h.01M235.4 53.2h.01M232.7 45h.01M232.1 46h.01M239 44.8h.01M236.1 44.1h.01M233 49h.01M233.6 46.2h.01M235.4 45.5h.01M235.6 60.2h.01M238.5 48.6h.01M236.1 53.9h.01M237.8 48.8h.01M233.1 48.6h.01M234.2 46.8h.01M233.5 47.9h.01M236.7 54.6h.01M236.2 54.5h.01M232.6 50.6h.01M230.7 47.9h.01M237.6 49.2h.01M234.2 50h.01M237.5 43.6h.01M235.8 50.3h.01M236.2 52.5h.01M233.6 55.6h.01M235.3 56.9h.01M235.9 55.5h.01M235.5 46.7h.01M230.3 47h.01M235.3 47.2h.01M238.6 48.8h.01M238.1 46.6h.01M239.8 43.6h.01M235.1 58.4h.01M234.2 46.4h.01M238.1 53h.01M221.8 70.2h.01M216 71.3h.01M209.1 63.3h.01M201.2 69.3h.01M218.4 58.8h.01M203.1 67.6h.01M224 56.2h.01M219.1 68h.01M221.1 55.2h.01M221.7 59.4h.01M213.2 71.8h.01M220.2 53.8h.01M214.6 63.9h.01M212 64.8h.01M211.4 61.2h.01M224.1 67.5h.01M215.8 71.6h.01M221.5 54.5h.01M223.5 66.9h.01M224 55.8h.01M215.3 65.3h.01M223.5 61.6h.01M222.7 63.8h.01M220.5 56.6h.01M223.9 58.2h.01M222 55.4h.01M213.7 58.7h.01M223.7 57.3h.01M219.8 53.8h.01M211.9 61.7h.01M214.5 70h.01M202.7 68.2h.01M222.8 62.9h.01M221.1 61.2h.01M205.9 66.6h.01M214.7 59.1h.01M214.7 67h.01M222 51.9h.01M225 63.4h.01M220.6 61.2h.01M215.8 71.1h.01M212.9 64.1h.01M221.3 68.7h.01M220.7 58.7h.01M212.5 71.1h.01M225.7 57.6h.01M215.2 60.7h.01M202.4 69.6h.01M215.4 62.8h.01M219.3 61.5h.01M221.9 61.4h.01M218.2 55.2h.01M211.1 71.1h.01M219.7 72.5h.01M223.7 67h.01M226.6 51.2h.01M208.7 63.1h.01M208.1 66.9h.01M213.7 67.6h.01M212.4 64.9h.01M217.1 70.5h.01M221.1 62.9h.01M221.2 62.5h.01M217.6 62.8h.01M207.8 66.9h.01M215.2 58.5h.01M216.2 63.8h.01M215.1 60.2h.01M226.1 53.5h.01M219.7 67.7h.01M219 69h.01M210.5 62.3h.01M213.9 64.3h.01M224.6 52.1h.01M227.8 49.4h.01M217.3 67.6h.01M225.7 59.3h.01M218.4 69.4h.01M221 63.7h.01M216.3 57.2h.01M213.4 63.7h.01M203.7 68.9h.01M221.9 72.3h.01M211.7 70.2h.01M219.1 72.6h.01M207.7 69.8h.01M216.2 63.7h.01M216.5 70.5h.01M206 68.9h.01M216.2 57.1h.01M214.8 58.8h.01M220.7 62.1h.01M214.9 60h.01M221.4 59.3h.01M220.2 60.1h.01M218.8 54.7h.01M217.7 71.9h.01M221.3 68.4h.01M223.6 59.8h.01M204.4 66.6h.01M208.1 68.5h.01M214.8 63h.01M222.7 69.9h.01M221.4 71.7h.01M212.4 70.1h.01M222.4 53.8h.01M213.4 61.7h.01M220 65.3h.01M223.6 63.3h.01M211.7 66.3h.01" fill="none" stroke="#0c0c0c" stroke-opacity=".62" stroke-width=".5" stroke-linecap="round"/>
<text x="328.6" y="11.1" font-size="15.5" font-weight="bold">c</text>
<g stroke="#333" stroke-width=".7" fill="none"><polyline points="356.5,16 356.5,45.3 496,45.3"/>
<line x1="356.5" y1="20.4" x2="357.8" y2="20.4"/>
<line x1="356.5" y1="25.4" x2="357.8" y2="25.4"/>
<line x1="356.5" y1="30.5" x2="357.8" y2="30.5"/>
<line x1="356.5" y1="35.5" x2="357.8" y2="35.5"/>
<line x1="356.5" y1="40.7" x2="357.8" y2="40.7"/>
<rect x="387.7" y="18.1" width="61.1" height="24.8" stroke="#222" stroke-width=".8"/></g>
<path d="M358.9 40.6H363.5M385.7 40.6H390M410 40.6H414.6M434.8 40.6H438.8M459 40.6H463M485.9 40.6H489.3M363.8 35.4H367.3M390.1 35.4H393.6M413.7 35.4H416.9M436.2 35.4H439.4M462.5 35.4H466M488.2 35.4H494.3M372.6 25.4H378.4M400.3 25.4H406.1M422.2 25.4H428.6M453.7 25.4H456.3M472.7 25.4H480.3M370 20.4H373.1M397.4 20.4H401.7M419.6 20.4H423.6M445.9 20.4H449M469.8 20.4H473" stroke="#000" stroke-width="2.1" stroke-linecap="round" fill="none"/>
<path d="M355.9 30.4H358.5M381.6 30.4H385.7M406.4 30.4H410.5M427.5 30.4H432.4M455.2 30.4H458.4M481.8 30.4H485.8" stroke="#ee1c25" stroke-width="2.1" stroke-linecap="round" fill="none"/>
<path d="M366.7 30.4H370.8M393.9 30.4H398.5M415.8 30.4H419M441.5 30.4H446.1M466 30.4H470M492.3 30.4H495.7" stroke="#3b4ea2" stroke-width="2.1" stroke-linecap="round" fill="none"/>
<g stroke="#222" stroke-width=".8" fill="none"><polyline points="356.5,56.7 356.5,132.5 496,132.5"/>
<line x1="368.5" y1="132.5" x2="368.5" y2="131"/>
<line x1="417.2" y1="132.5" x2="417.2" y2="131"/>
<line x1="465.6" y1="132.5" x2="465.6" y2="131"/>
</g>
<text x="348" y="70.2" text-anchor="middle">A</text>
<text x="348" y="84.1" text-anchor="middle">B</text>
<text x="348" y="97.9" text-anchor="middle">C</text>
<text x="348" y="111.7" text-anchor="middle">D</text>
<text x="348" y="125.7" text-anchor="middle">E</text>
<text x="335.8" y="94" text-anchor="middle" transform="rotate(-90 335.8 94)">State</text>
<text x="369" y="145.7" text-anchor="middle">410</text>
<text x="417.6" y="145.7" text-anchor="middle">430</text>
<text x="466" y="145.7" text-anchor="middle">450</text>
<text x="426.4" y="161.3" text-anchor="middle">Time (s)</text>
<path d="M377.6 66.3H387.2M428.4 66.3H437.6M488.6 66.3H495.9M382.4 80.2H399.1M437.4 80.2H452.1M360.1 107.8H370.2M411.8 107.8H420.9M464.6 107.8H472.6M355.4 121.8H361.1M405.4 121.8H413.6M457.4 121.8H464.6" stroke="#000" stroke-width="6.3" stroke-linecap="round" fill="none"/>
<path d="M398.6 94H406.2M447.4 94H457.2" stroke="#ee1c25" stroke-width="6.3" stroke-linecap="round" fill="none"/>
<path d="M369.4 94H379.1M420.9 94H427.9M479.8 94H488.2" stroke="#3b4ea2" stroke-width="6.3" stroke-linecap="round" fill="none"/>
<path d="M378.4 132.5V56.7M430 132.5V56.7M489.6 132.5V56.7" stroke="#404040" stroke-width="2.2" stroke-dasharray="8.4 3" fill="none"/>
<text x="514.4" y="12" font-size="15.5" font-weight="bold">d</text>
<g fill="#0a0a0a"><rect x="579.6" y="35.3" width="3.1" height="3.7"/><rect x="582.7" y="24.1" width="3.1" height="14.9"/><rect x="585.8" y="19.5" width="3.1" height="19.5"/><rect x="589" y="30.7" width="3.1" height="8.3"/><rect x="592.1" y="33" width="3.1" height="6"/><rect x="595.2" y="33" width="3.1" height="6"/><rect x="598.3" y="37.3" width="3.1" height="1.7"/><rect x="601.4" y="37.6" width="3.1" height="1.4"/><rect x="604.6" y="37.3" width="3.1" height="1.7"/><rect x="611.4" y="37.3" width="3.1" height="1.7"/></g>
<g fill="#0a0a0a"><rect x="576.5" y="59" width="3.1" height="3.4"/><rect x="579.6" y="53.7" width="3.1" height="8.7"/><rect x="582.7" y="43.3" width="3.1" height="19.1"/><rect x="585.8" y="48.3" width="3.1" height="14.1"/><rect x="589" y="55.5" width="3.1" height="6.9"/><rect x="592.1" y="55.5" width="3.1" height="6.9"/><rect x="595.2" y="55.5" width="3.1" height="6.9"/><rect x="598.3" y="60.6" width="3.1" height="1.8"/><rect x="601.4" y="59" width="3.1" height="3.4"/><rect x="614.5" y="60.6" width="3.1" height="1.8"/><rect x="627" y="60.6" width="3.1" height="1.8"/></g>
<g fill="#ee1c25" stroke="#6a0b10" stroke-width=".5"><rect x="560.9" y="84.3" width="3.1" height="1.5"/><rect x="564" y="81" width="3.1" height="4.8"/><rect x="567.1" y="70.1" width="3.1" height="15.7"/><rect x="570.2" y="68.2" width="3.1" height="17.6"/><rect x="573.4" y="76.2" width="3.1" height="9.6"/><rect x="576.5" y="84.8" width="3.1" height="1"/><rect x="579.6" y="82.8" width="3.1" height="3"/></g>
<g fill="#3f58ad" stroke="#1d2a66" stroke-width=".5"><rect x="602.1" y="81.3" width="3.1" height="4.5"/><rect x="605.2" y="76.2" width="3.1" height="9.6"/><rect x="608.3" y="66.4" width="3.1" height="19.4"/><rect x="611.4" y="69.8" width="3.1" height="16"/><rect x="614.5" y="84.3" width="3.1" height="1.5"/><rect x="617.7" y="84.6" width="3.1" height="1.2"/><rect x="620.8" y="84.3" width="3.1" height="1.5"/></g>
<g fill="#0a0a0a"><rect x="579.6" y="107.3" width="3.1" height="1.8"/><rect x="582.7" y="106.1" width="3.1" height="3"/><rect x="585.8" y="103.3" width="3.1" height="5.8"/><rect x="589" y="90" width="3.1" height="19.1"/><rect x="592.1" y="99.2" width="3.1" height="9.9"/><rect x="595.2" y="108.1" width="3.1" height="1"/><rect x="602.1" y="108.1" width="3.1" height="1"/></g>
<g fill="#0a0a0a"><rect x="576.5" y="127.2" width="3.1" height="5.3"/><rect x="579.6" y="124.1" width="3.1" height="8.4"/><rect x="582.7" y="113.3" width="3.1" height="19.2"/><rect x="585.8" y="121.4" width="3.1" height="11.1"/><rect x="589" y="121.4" width="3.1" height="11.1"/><rect x="592.1" y="116.3" width="3.1" height="16.2"/><rect x="595.2" y="116.3" width="3.1" height="16.2"/><rect x="602.1" y="129.8" width="3.1" height="2.7"/><rect x="627" y="129.8" width="3.1" height="2.7"/></g>
<g stroke="#333" stroke-width=".8" fill="none">
<rect x="543.2" y="15.6" width="95.2" height="116.9"/>
<line x1="543.2" y1="39" x2="638.4" y2="39"/>
<line x1="543.2" y1="62.4" x2="638.4" y2="62.4"/>
<line x1="543.2" y1="85.8" x2="638.4" y2="85.8"/>
<line x1="543.2" y1="109.1" x2="638.4" y2="109.1"/>
<path d="M562.7 15.6v1.3M562.7 39v1.3M562.7 62.4v1.3M562.7 85.8v1.3M562.7 109.1v1.3M562.7 39v-1.3M562.7 62.4v-1.3M562.7 85.8v-1.3M562.7 109.1v-1.3M562.7 132.5v-1.3M576.6 15.6v1.3M576.6 39v1.3M576.6 62.4v1.3M576.6 85.8v1.3M576.6 109.1v1.3M576.6 39v-1.3M576.6 62.4v-1.3M576.6 85.8v-1.3M576.6 109.1v-1.3M576.6 132.5v-1.3M590.6 15.6v1.3M590.6 39v1.3M590.6 62.4v1.3M590.6 85.8v1.3M590.6 109.1v1.3M590.6 39v-1.3M590.6 62.4v-1.3M590.6 85.8v-1.3M590.6 109.1v-1.3M590.6 132.5v-1.3M604.5 15.6v1.3M604.5 39v1.3M604.5 62.4v1.3M604.5 85.8v1.3M604.5 109.1v1.3M604.5 39v-1.3M604.5 62.4v-1.3M604.5 85.8v-1.3M604.5 109.1v-1.3M604.5 132.5v-1.3M618.5 15.6v1.3M618.5 39v1.3M618.5 62.4v1.3M618.5 85.8v1.3M618.5 109.1v1.3M618.5 39v-1.3M618.5 62.4v-1.3M618.5 85.8v-1.3M618.5 109.1v-1.3M618.5 132.5v-1.3M543.2 27.3h1.3M638.4 27.3h-1.3M543.2 50.7h1.3M638.4 50.7h-1.3M543.2 74.1h1.3M638.4 74.1h-1.3M543.2 97.4h1.3M638.4 97.4h-1.3M543.2 120.8h1.3M638.4 120.8h-1.3" stroke-width=".6"/>
</g>
<text x="534.6" y="31.3" text-anchor="middle">A</text>
<text x="534.6" y="54.7" text-anchor="middle">B</text>
<text x="534.6" y="78.1" text-anchor="middle">C</text>
<text x="534.6" y="101.4" text-anchor="middle">D</text>
<text x="534.6" y="124.8" text-anchor="middle">E</text>
<text x="521.6" y="77.8" text-anchor="middle" transform="rotate(-90 521.6 77.8)">State</text>
<text x="590.6" y="146" text-anchor="middle">0</text>
<text x="590.4" y="162.3" text-anchor="middle">PC 1</text>
<text x=".3" y="190.8" font-size="15.5" font-weight="bold">e</text>
<rect x="63.5" y="206" width="18.5" height="18.3" fill="#080808"/><rect x="100.3" y="206" width="18.5" height="18.3" fill="#f6f6f6"/><rect x="118.8" y="206" width="18.5" height="18.3" fill="#fcfcfc"/><rect x="63.5" y="224.3" width="18.5" height="18.3" fill="#d4d4d4"/><rect x="81.9" y="224.3" width="18.5" height="18.3" fill="#383838"/><rect x="118.8" y="224.3" width="18.5" height="18.3" fill="#f5f5f5"/><rect x="137.2" y="224.3" width="18.5" height="18.3" fill="#fafafa"/><rect x="100.3" y="242.6" width="18.5" height="18.3" fill="#191919"/><rect x="118.8" y="242.6" width="18.5" height="18.3" fill="#e6e6e6"/><rect x="137.2" y="242.6" width="18.5" height="18.3" fill="#fafafa"/><rect x="100.3" y="260.9" width="18.5" height="18.3" fill="#f7f7f7"/><rect x="118.8" y="260.9" width="18.5" height="18.3" fill="#0d0d0d"/><rect x="137.2" y="260.9" width="18.5" height="18.3" fill="#f0f0f0"/><rect x="63.5" y="279.1" width="18.5" height="18.3" fill="#f2f2f2"/><rect x="81.9" y="279.1" width="18.5" height="18.3" fill="#f7f7f7"/><rect x="100.3" y="279.1" width="18.5" height="18.3" fill="#f0f0f0"/><rect x="118.8" y="279.1" width="18.5" height="18.3" fill="#f0f0f0"/><rect x="137.2" y="279.1" width="18.5" height="18.3" fill="#333333"/><rect x="45" y="297.4" width="18.5" height="18.3" fill="#121212"/><rect x="63.5" y="297.4" width="18.5" height="18.3" fill="#e6e6e6"/>
<rect x="45" y="206" width="110.7" height="109.7" fill="none" stroke="#9a9a9a" stroke-width=".7"/>
<path d="M54.2 315.7v-1.2M54.2 206v1.2M45 215.1h1.2M155.7 215.1h-1.2M72.7 315.7v-1.2M72.7 206v1.2M45 233.4h1.2M155.7 233.4h-1.2M91.1 315.7v-1.2M91.1 206v1.2M45 251.7h1.2M155.7 251.7h-1.2M109.6 315.7v-1.2M109.6 206v1.2M45 270h1.2M155.7 270h-1.2M128 315.7v-1.2M128 206v1.2M45 288.3h1.2M155.7 288.3h-1.2M146.5 315.7v-1.2M146.5 206v1.2M45 306.6h1.2M155.7 306.6h-1.2" stroke="#888" stroke-width=".5" fill="none"/>
<text x="40.4" y="219" text-anchor="end">A</text>
<text x="54.2" y="329.2" text-anchor="middle">A</text>
<text x="40.4" y="237.3" text-anchor="end">B</text>
<text x="72.7" y="329.2" text-anchor="middle">B</text>
<text x="40.4" y="255.6" text-anchor="end">C<tspan dy="3.2" font-size="7.5">1</tspan></text>
<text x="92.4" y="329.2" text-anchor="middle">C<tspan dy="3.2" font-size="7.5">1</tspan></text>
<text x="40.4" y="273.9" text-anchor="end">E</text>
<text x="109.6" y="329.2" text-anchor="middle">E</text>
<text x="40.4" y="292.2" text-anchor="end">D</text>
<text x="128" y="329.2" text-anchor="middle">D</text>
<text x="40.4" y="310.5" text-anchor="end">C<tspan dy="3.2" font-size="7.5">2</tspan></text>
<text x="147.8" y="329.2" text-anchor="middle">C<tspan dy="3.2" font-size="7.5">2</tspan></text>
<text x="17.8" y="266.5" text-anchor="middle" transform="rotate(-90 17.8 266.5)">State (t)</text>
<text x="106.7" y="346.6" text-anchor="middle">State (t+1)</text>
<defs><linearGradient id="gbar" x1="0" y1="0" x2="0" y2="1"><stop offset="0" stop-color="#000"/><stop offset="1" stop-color="#fff"/></linearGradient></defs>
<rect x="164" y="206" width="6" height="109.7" fill="url(#gbar)" stroke="#777" stroke-width=".6"/>
<text x="173.4" y="209.8">1</text>
<text x="173.2" y="319.6">0</text>
<text x="195.4" y="260.6" text-anchor="middle" transform="rotate(-90 195.4 260.6)">Transition probability</text>
<text x="213.2" y="192" font-size="15.5" font-weight="bold">f</text>
<text x="263.4" y="220.2" text-anchor="middle">Transition diagram</text>
<line x1="228.1" y1="267.8" x2="241.2" y2="249.4" stroke="#1a1a1a" stroke-width="1.3"/>
<polygon points="243.9,245.6 242.6,251.1 239.2,248.6" fill="#1a1a1a"/>
<line x1="252.7" y1="245.6" x2="269" y2="289.8" stroke="#1a1a1a" stroke-width="1.3"/>
<polygon points="270.6,294.2 266.8,290 270.8,288.6" fill="#1a1a1a"/>
<line x1="274.7" y1="245.6" x2="258.4" y2="289.8" stroke="#1a1a1a" stroke-width="1.3"/>
<polygon points="256.8,294.2 256.6,288.6 260.6,290" fill="#1a1a1a"/>
<line x1="299.3" y1="267.8" x2="287" y2="249.5" stroke="#1a1a1a" stroke-width="1.3"/>
<polygon points="284.4,245.6 289,248.7 285.6,251.1" fill="#1a1a1a"/>
<line x1="244.4" y1="295.9" x2="233.1" y2="286.9" stroke="#1a1a1a" stroke-width="1.3"/>
<polygon points="229.4,284 234.8,285.6 232.2,288.9" fill="#1a1a1a"/>
<line x1="282.4" y1="295.9" x2="293.7" y2="286.9" stroke="#1a1a1a" stroke-width="1.3"/>
<polygon points="297.4,284 294.6,288.9 292,285.6" fill="#1a1a1a"/>
<circle cx="248.9" cy="235.8" r="8.5" fill="#fff" stroke="#222" stroke-width=".7"/>
<text x="248.9" y="239.7" text-anchor="middle">B</text>
<circle cx="278.5" cy="235.8" r="8.5" fill="#fff" stroke="#222" stroke-width=".7"/>
<text x="278.5" y="239.7" text-anchor="middle">D</text>
<circle cx="221.3" cy="277.6" r="8.5" fill="#fff" stroke="#222" stroke-width=".7"/>
<text x="221.3" y="281.5" text-anchor="middle">A</text>
<circle cx="305.2" cy="277.6" r="8.5" fill="#fff" stroke="#222" stroke-width=".7"/>
<text x="305.2" y="281.5" text-anchor="middle">E</text>
<circle cx="252.7" cy="303.3" r="8.6" fill="#4a5bab" stroke="#222" stroke-width=".7"/>
<circle cx="273.5" cy="303.3" r="8.6" fill="#ef4b4b" stroke="#222" stroke-width=".7"/>
<text x="252" y="307" text-anchor="middle">C<tspan dy="3.2" font-size="7.5">2</tspan></text>
<text x="272.8" y="307" text-anchor="middle">C<tspan dy="3.2" font-size="7.5">1</tspan></text>
<text x="330.8" y="188.1" font-size="15.5" font-weight="bold">g</text>
<circle cx="356.8" cy="196.4" r="3" fill="#ee1c25"/>
<text x="363.4" y="199.9">C<tspan dy="3.2" font-size="7.5">1</tspan></text>
<circle cx="389.1" cy="196.4" r="3" fill="#3b4ea2"/>
<text x="395.9" y="199.9">C<tspan dy="3.2" font-size="7.5">2</tspan></text>
<line x1="418.2" y1="196.4" x2="430.4" y2="196.4" stroke="#000" stroke-width="2"/>
<text x="434" y="199.9">Slope 1</text>
<clipPath id="gclip"><rect x="357.3" y="205.6" width="109.9" height="109.6"/></clipPath>
<path d="M357.3 128.1L467.2 51.2M357.3 139.1L467.2 62.2M357.3 150.2L467.2 73.3M357.3 161.2L467.2 84.3M357.3 172.3L467.2 95.4M357.3 183.3L467.2 106.4M357.3 194.4L467.2 117.5M357.3 205.4L467.2 128.5M357.3 216.5L467.2 139.6M357.3 227.6L467.2 150.6M357.3 238.6L467.2 161.7M357.3 249.7L467.2 172.7M357.3 260.7L467.2 183.8M357.3 271.8L467.2 194.8M357.3 282.8L467.2 205.9M357.3 293.9L467.2 216.9M357.3 304.9L467.2 228M357.3 315.9L467.2 239M357.3 327L467.2 250.1M357.3 338.1L467.2 261.1M357.3 349.1L467.2 272.2M357.3 360.1L467.2 283.2M357.3 371.2L467.2 294.3M357.3 382.2L467.2 305.3M357.3 393.3L467.2 316.4M357.3 404.4L467.2 327.4" stroke="#1a1a1a" stroke-width=".7" fill="none" clip-path="url(#gclip)"/>
<polyline points="389.6,291.1 395.6,288.2 401.1,285.8 406.7,282.7 410,280.2 413.3,277.3 416.7,274.4 420.7,270.4 423.3,267.8 426.7,266.2 430,264.7 434.4,262 438.9,258.9 443.3,255.8 447.8,252.4 451.1,248.9 453.3,245.6 455.3,241.8 456.7,237.8 457.8,232.9 458.9,228 460,226 461.8,225.3 464.4,225.3" fill="none" stroke="#ee1c25" stroke-width="2.1" stroke-linejoin="round" stroke-linecap="round"/>
<circle cx="370.7" cy="303.6" r="1.15" fill="#ee1c25"/>
<circle cx="376" cy="298.9" r="1.15" fill="#ee1c25"/>
<circle cx="380" cy="298.2" r="1.15" fill="#ee1c25"/>
<circle cx="383.3" cy="296" r="1.15" fill="#ee1c25"/>
<circle cx="385.6" cy="295.6" r="1.15" fill="#ee1c25"/>
<circle cx="387.8" cy="294.4" r="1.15" fill="#ee1c25"/>
<polyline points="385.6,297.1 390,296 394.4,294.7 396.2,292.2 397.8,290 401.6,287.8 405.6,285.8 409.1,283.6 412.2,281.1 415.6,277.6 418.9,273.3 422.2,269.8 425.6,266.7 430,263.1 434.4,260 437.8,257.6 441.1,255.6 445.6,252.9 450,249.8 452.7,246.9 454.4,244.4 456,240.4 457.1,235.6 458.2,230.7 459.3,226.9 461.1,226 464.4,226" fill="none" stroke="#3b4ea2" stroke-width="2.1" stroke-linejoin="round" stroke-linecap="round"/>
<circle cx="378.9" cy="304.4" r="1.15" fill="#3b4ea2"/>
<circle cx="381.8" cy="300.4" r="1.15" fill="#3b4ea2"/>
<circle cx="384.4" cy="297.8" r="1.15" fill="#3b4ea2"/>
<polyline points="357.3,205.6 357.3,315.2 467.2,315.2" fill="none" stroke="#111" stroke-width=".8"/>
<text x="337.6" y="260.6" text-anchor="middle" transform="rotate(-90 337.6 260.6)">Number of</text>
<text x="350.2" y="260.6" text-anchor="middle" transform="rotate(-90 350.2 260.6)">neighbors (log)</text>
<text x="411.4" y="328.6" text-anchor="middle">Radius (log)</text>
<text x="497" y="192" font-size="15.5" font-weight="bold">h</text>
<path d="M530.5 241.3H535.4M563.2 241.3h.01M567.9 241.3h.01M602.4 241.3H605.5M643.7 241.3H645.7M535.1 235.3H538.2M570.7 235.3H571M574.1 235.3h.01M609.2 235.3H610.1M647.8 235.3h.01M539.4 229.4H542.4M572.6 229.4H575.6M607.1 229.4H607.6M612.4 229.4H615M622.4 229.4h.01M649 229.4H651.4M546.1 223.5H548.1M579.6 223.5H580.5M600.7 223.5h.01M617.7 223.5h.01M652.6 223.5H655.2M548.5 217.5H551.5M566.3 217.5h.01M569.5 217.5h.01M577 217.5H577.3M581.7 217.5H582.6M586.6 217.5H589M592.3 217.5H593.2M617.7 217.5H626M639.3 217.5h.01M656.8 217.5H663.7M543.2 211.6H544.9M552.7 211.6H556.8M559.9 211.6h.01M578.6 211.6h.01M590.2 211.6h.01M595 211.6H597M616 211.6h.01M627.6 211.6H630.9M646.7 211.6h.01M665 211.6h.01M558.4 247.2H562.1M565.2 247.2h.01M583.8 247.2H584.7M598.5 247.2h.01M636.1 247.2H641.9" stroke="#ee1c25" stroke-width="2.35" stroke-linecap="round" fill="none"/>
<g stroke="#333" stroke-width=".7" fill="none"><rect x="528.8" y="205.3" width="137.5" height="48"/>
<line x1="557.4" y1="205.3" x2="557.4" y2="253.3" stroke="#111" stroke-width=".8"/>
<line x1="597.6" y1="205.3" x2="597.6" y2="253.3" stroke="#111" stroke-width=".8"/>
<line x1="631.5" y1="205.3" x2="631.5" y2="253.3" stroke="#111" stroke-width=".8"/>
<path d="M528.8 211.6h1.4M528.8 247.2h1.4M666.3 211.6h-1.4M666.3 247.2h-1.4" stroke-width=".6"/>
</g>
<text x="524.6" y="215.8" text-anchor="end">7</text>
<text x="524.6" y="251" text-anchor="end">1</text>
<path d="M544.1 310h.01M561 310H563.6M566.9 310H573.5M580.7 310h.01M601.8 310H604.8M612.4 310h.01M632.1 310H633.4M636.8 310h.01M654.1 310h.01M534.5 304.7H537.5M575.3 304.7h.01M602.9 304.7h.01M605.9 304.7h.01M637.8 304.7h.01M530.5 299.3H531.8M538.7 299.3H540.3M572 299.3h.01M577 299.3H579.9M607.1 299.3H611.2M634.5 299.3h.01M639.3 299.3H644.4M541.5 294H543M581.7 294H582M613.4 294H614.4M645.6 294H648.2M545.1 288.6H546.6M564.8 288.6H565.3M583.8 288.6H585.4M615.6 288.6H619.2M649.4 288.6H651.4M547.8 283.3H552.3M589.1 283.3H592.1M620.4 283.3H622.8M635.7 283.3h.01M652.2 283.3H655.2M553.5 277.9H555.7M558.9 277.9h.01M586.6 277.9H587.9M593.3 277.9H596.4M600.1 277.9h.01M624 277.9H629.2M656.4 277.9H659.9M663.7 277.9h.01M533 272.6H533.5M557.4 272.6H558.3M598 272.6H598.9M630.4 272.6h.01M662.1 272.6H664.6" stroke="#3b4ea2" stroke-width="2.35" stroke-linecap="round" fill="none"/>
<g stroke="#333" stroke-width=".7" fill="none"><rect x="528.8" y="267.3" width="137.5" height="48"/>
<line x1="560.4" y1="267.3" x2="560.4" y2="315.3" stroke="#111" stroke-width=".8"/>
<line x1="600.6" y1="267.3" x2="600.6" y2="315.3" stroke="#111" stroke-width=".8"/>
<line x1="630.4" y1="267.3" x2="630.4" y2="315.3" stroke="#111" stroke-width=".8"/>
<path d="M528.8 272.6h1.4M528.8 310h1.4M666.3 272.6h-1.4M666.3 310h-1.4" stroke-width=".6"/>
</g>
<text x="524.6" y="277" text-anchor="end">8</text>
<text x="524.6" y="313.6" text-anchor="end">1</text>
<text x="511.2" y="260.4" text-anchor="middle" transform="rotate(-90 511.2 260.4)">Sub-cluster</text>
<text x="596.6" y="328.8" text-anchor="middle">Frame</text>
<text x=".6" y="377.2" font-size="15.5" font-weight="bold">i</text>
<polyline points="35.8,421 37,420.4 37.6,423.2 39,421.2 39.6,422.9 41.2,422.9 43.8,500.3 51.4,500.3 54,422.9 61.6,422.9 64.6,500.3 71.8,500.3 74.4,422.9 79.9,422.9 83.3,500.3 89.5,500.3 92.1,422.9 99.2,422.9 102.9,500.3 108.4,500.3 111.5,422.9 119.6,422.9 122.7,500.3 128,500.3 131.1,422.9 140.9,422.9 144.3,500.3 150.5,500.3 153.5,422.9 161.7,422.9 165.7,500.3 170.8,500.3 173.9,422.9 176.3,422.9" fill="none" stroke="#222" stroke-width=".65" stroke-linejoin="round"/>
<polyline points="177.4,500.3 186,500.3 189.8,422.9 196.3,422.9 199.3,500.3 205.4,500.3 208.5,422.9 218.7,422.9 221.7,500.3 228.2,500.3 231.3,422.9 239.4,422.9 243.1,500.3 246.6,500.3 249.6,422.9 255.3,422.9 258.2,500.3 264.9,500.3 268.4,422.9 275,422.9 278,500.3 281,500.3 284,422.9 291.4,422.9 294.4,500.3 301.6,500.3 305.6,422.9 309.3,422.9" fill="none" stroke="#222" stroke-width=".65" stroke-linejoin="round"/>
<polygon points="43.5,497 45.7,497.4 44.9,500.1" fill="#111"/>
<polygon points="49.1,499.6 51.3,500 50.5,502.7" fill="#111"/>
<polygon points="64.5,497.8 66.7,498.2 65.9,500.9" fill="#111"/>
<polygon points="82.7,498 84.9,498.4 84.1,501.1" fill="#111"/>
<polygon points="122.1,498.2 124.3,498.6 123.5,501.3" fill="#111"/>
<polygon points="144.3,497.2 146.5,497.6 145.7,500.3" fill="#111"/>
<polygon points="176.7,496.8 178.9,497.2 178.1,499.9" fill="#111"/>
<polygon points="243.3,498.4 245.5,498.8 244.7,501.5" fill="#111"/>
<polygon points="165.3,498.6 167.5,499 166.7,501.7" fill="#111"/>
<path d="M36.6 419.7h2.4M40.5 423.4h.7M41.7 425.3h.01M40.9 431h.6M41.5 436.6h1.6M41.4 442.2h1.6M42.2 447.9h.6M42.4 453.5h.6M42.9 459.1h.01M42.7 470.4h.6M44.1 481.7h.6M43.4 487.3h1M44 492.9h.6M43.4 504.2h4.4M44.8 498.6h.01M49.8 498.6h1.1M54 425.3h.6M53 431h1M52.5 436.6h.6M52.4 442.2h.01M52.9 447.9h1M51.7 459.1h.6M52.4 464.8h.6M51.7 476h1.6M50.9 487.3h1M51.1 492.9h.6M53.8 419.7h4.7M59.7 423.4h1.9M61.5 425.3h.6M62.3 436.6h1M61.9 442.2h1M63.1 447.9h1M63.8 453.5h.01M63.3 459.1h1M63.2 464.8h1M63.4 470.4h1M64 476h.01M63.5 481.7h1.6M64.2 487.3h.01M64.2 504.2h4.2M65 498.6h1.2M70.4 498.6h.9M72.6 431h1.6M73.5 442.2h.01M72.6 447.9h.6M72.3 453.5h1.6M72.5 464.8h1M72.5 476h.6M70.9 481.7h1M71.4 487.3h1M71.4 492.9h.6M74.2 419.7h3.2M78.8 423.4h1.1M79.6 425.3h1.6M80.5 431h1M81.2 442.2h1M80.6 447.9h1M80.6 453.5h1M81.4 459.1h1M83 464.8h1M81.9 470.4h1M82.2 476h1M82.7 481.7h1M82.1 487.3h1M83.4 492.9h.6M82.9 504.2h3.5M83.7 498.6h1.2M88.4 498.6h.6M90.6 425.3h1M90.6 431h1M90.3 436.6h1.6M90.7 442.2h1.6M90.3 447.9h1.6M89.2 453.5h1M90.1 459.1h.01M89.4 464.8h.6M89.4 470.4h.6M90 476h.6M89.5 481.7h.6M87.9 492.9h1.6M91.9 419.7h4.3M97.5 423.4h1.7M99.1 425.3h1.6M99.9 431h1M100.3 442.2h1M100.9 447.9h1M100.2 453.5h1M100.9 464.8h1M101.7 470.4h1.6M100.9 476h1.6M101.8 487.3h1.6M103.2 492.9h1M102.5 504.2h3M103.9 498.6h.01M107.5 498.6h.4M110.3 425.3h1M109.7 431h1.6M110 436.6h.6M108.7 442.2h1.6M109.8 447.9h.6M108.9 453.5h1.6M110.8 459.1h.01M109.3 464.8h1M107.8 481.7h1.6M107.9 487.3h1.6M111.3 419.7h5M117.5 423.4h2.1M119.8 425.3h1M119.5 431h1.6M120.4 436.6h.6M120 442.2h1.6M121.6 447.9h.01M121.6 464.8h.01M120.9 470.4h1M122.3 476h.01M121.4 481.7h1.6M122.9 487.3h.6M122.3 504.2h2.9M123.1 498.6h1.2M127.2 498.6h.3M130.1 425.3h1.6M130.3 431h.6M128.8 436.6h1.6M129.8 442.2h1.6M129.1 447.9h1.6M128.9 453.5h1.6M129.2 459.1h.6M128.5 464.8h.6M128.7 470.4h.01M127.6 476h1.6M127.4 481.7h1.6M128.5 487.3h.6M128.1 492.9h.01M130.9 419.7h6.3M138.2 423.4h2.7M141 425.3h1.6M141.5 436.6h1.6M142.5 442.2h.01M142.6 447.9h.01M141.7 453.5h1.6M142.6 459.1h.6M142.8 476h1M143.7 481.7h.6M144.1 487.3h1M144.7 492.9h.6M143.9 504.2h3.5M144.7 498.6h1.2M149.4 498.6h.6M152.6 431h.6M151.7 436.6h1M152.1 442.2h.01M152.2 447.9h.01M151.9 453.5h1.6M151 459.1h1.6M151 464.8h.01M151.1 470.4h1.6M150.4 487.3h.01M153.3 419.7h5.1M159.6 423.4h2.1M161.2 425.3h1.6M162.5 431h1M162.9 436.6h1M162.1 442.2h1.6M162.7 447.9h1M163.4 453.5h1M163.3 459.1h.6M164.2 464.8h.01M164.5 470.4h.6M164.5 481.7h.01M165.1 487.3h1M164.7 492.9h1.6M165.3 504.2h2.8M166.1 498.6h1.2M170.2 498.6h.01M171.5 442.2h1.6M171.8 447.9h.01M172 453.5h.6M171.9 459.1h.01M171.1 464.8h1M170.8 470.4h1.6M171 476h.6M170.3 487.3h.6M173.8 419.7h.01M175.5 423.4h.01M178.2 504.2h4.3M179.6 498.6h.01M184.5 498.6h1M189.8 425.3h.01M189 431h1M187.8 436.6h1M188 442.2h.6M187.1 447.9h.6M187.6 453.5h1.6M186.8 459.1h1M186.1 476h1M186.5 481.7h.01M185.4 487.3h1.6M189.6 419.7h3.9M194.8 423.4h1.5M196.7 425.3h.01M196.3 431h1.6M197.2 436.6h.01M197 442.2h1.6M197.4 447.9h.6M198.3 459.1h.6M198.5 464.8h.6M197.4 470.4h1.6M198.2 476h1.6M198.6 481.7h1M199 487.3h.6M199.3 492.9h1M198.9 504.2h3.4M199.7 498.6h1.2M204.3 498.6h.6M208 425.3h.6M206.2 431h1.6M207.3 436.6h.6M206.6 442.2h.6M206.5 447.9h1M206.7 453.5h1.6M206.9 459.1h.01M205.9 464.8h.01M205.5 470.4h.01M205 476h1.6M204.8 481.7h1M204.6 492.9h1M208.3 419.7h6.5M215.8 423.4h2.9M220.2 431h.01M221.1 453.5h.01M219 459.1h1.6M220.6 470.4h.6M221.5 476h.01M220.7 481.7h.6M220.5 487.3h1.6M221.9 492.9h.6M221.3 504.2h3.7M222.1 498.6h1.2M227 498.6h.7M230.7 425.3h.6M229.8 431h1.6M229.2 436.6h.01M229.7 447.9h.01M228.6 459.1h1.6M228.5 464.8h.6M229 470.4h.6M227.6 476h.6M228.1 481.7h.6M227.7 487.3h.01M226.4 492.9h1.6M231.1 419.7h5M237.3 423.4h2.1M239.4 425.3h1.6M240.8 436.6h.01M240.1 442.2h1M241.3 447.9h1.6M240 453.5h1.6M241.1 459.1h.01M240.9 464.8h1.6M241.8 476h1M241.3 481.7h1.6M243 487.3h.01M243.4 492.9h.01M242.7 504.2h1.7M244.1 498.6h.01M246.3 498.6h.01M248.6 425.3h.01M247.1 436.6h1.6M247.8 442.2h.01M248.1 447.9h.01M247.2 453.5h1M247.1 459.1h.6M246.7 464.8h.01M246.5 470.4h1.6M248.3 476h.01M246 481.7h.6M246.6 487.3h1M246.4 492.9h1M249.4 419.7h3.3M254.1 423.4h1.2M256.3 425.3h.01M256 431h.01M256.3 436.6h.6M256.2 447.9h1.6M256.8 453.5h1.6M256.1 459.1h1.6M256.7 464.8h1M257.5 470.4h.6M257.3 476h1M257.6 481.7h.01M257.9 492.9h.01M257.8 504.2h3.8M258.6 498.6h1.2M263.6 498.6h.8M267.1 425.3h.6M266.8 431h1.6M268 436.6h.01M266.5 453.5h.01M265.6 459.1h.6M266.2 464.8h.01M265.4 470.4h1M264.4 476h1.6M265.7 481.7h.6M264.1 487.3h1.6M264.7 492.9h1M268.2 419.7h4M273.5 423.4h1.5M275.9 436.6h1M276.4 442.2h1M276.5 453.5h1M276.7 459.1h.6M276.7 464.8h1.6M277.4 470.4h.01M276.9 476h1M277.9 481.7h.6M277.9 487.3h.6M278.2 492.9h.01M277.6 504.2h1.4M278.4 498.6h1.2M280.7 498.6h.01M282.9 425.3h.6M282.4 431h.01M283.4 436.6h.6M283 442.2h1M282.6 447.9h.01M281.9 453.5h.01M281.2 464.8h1.6M281.2 476h1.6M281.1 481.7h.01M281.1 487.3h.01M279.5 492.9h1.6M283.8 419.7h4.5M289.6 423.4h1.8M290.4 425.3h1.6M291.9 431h1.6M292.4 442.2h1M292.4 447.9h1.6M292.7 453.5h1.6M293 459.1h1M294.1 470.4h.6M294 476h.01M294.8 487.3h.6M293.3 492.9h1.6M294 504.2h4.2M294.8 498.6h1.2M300.2 498.6h.9M304.7 425.3h1M304.9 431h.01M303.8 442.2h1M303.6 447.9h.6M303.9 459.1h.01M302.8 464.8h.01M301.5 470.4h1.6M301.9 476h1.6M301.6 481.7h1M305.4 419.7h1.2M308.4 423.4h.01" stroke="#bd46ab" stroke-width="2.3" stroke-linecap="round" fill="none"/>
<line x1="176.3" y1="411.7" x2="176.3" y2="508.2" stroke="#000" stroke-width="2.1"/>
<rect x="35.3" y="411.7" width="274.3" height="96.5" fill="none" stroke="#444" stroke-width=".7"/>
<path d="M113.9 508.2v-1.5M113.9 411.7v1.5M192.5 508.2v-1.5M192.5 411.7v1.5M271.1 508.2v-1.5M271.1 411.7v1.5M35.3 422.9h1.5M35.3 507.9h1.5" stroke="#333" stroke-width=".6" fill="none"/>
<text x="31.2" y="423.6" text-anchor="end">96</text>
<text x="31.2" y="512.2" text-anchor="end">0</text>
<text x="35.3" y="521" text-anchor="middle">0</text>
<text x="113.9" y="521" text-anchor="middle">100</text>
<text x="192.5" y="521" text-anchor="middle">200</text>
<text x="271.1" y="521" text-anchor="middle">300</text>
<text x="172.4" y="537" text-anchor="middle">Time (s)</text>
<text x="8.8" y="459.8" text-anchor="middle" transform="rotate(-90 8.8 459.8)">Position (cm)</text>
<circle cx="51.5" cy="402.4" r="1.8" fill="#bd46ab"/>
<text x="57.6" y="406.2">Internal position</text>
<line x1="176.2" y1="402.4" x2="188.2" y2="402.4" stroke="#000" stroke-width="2.1"/>
<text x="193.2" y="406.2">Position</text>
<rect x="269" y="395.7" width="54.4" height="54.3" fill="#fff"/>
<polygon points="271.7,450 273.4,448.8 278.7,448.3 284,447.6 287.5,446.5 290.1,445.3 291.9,442.7 292.8,437.4 293.3,431.2 294.2,430.3 294.5,407.1 296.6,407.1 297,412.8 297.7,423.3 298.9,424.2 299.8,425.1 300.7,431.2 301.6,439.1 303.3,444.4 306.8,446.5 310.3,447.6 315.6,448.3 320.9,449.3 322.7,450" fill="#050505"/>
<polyline points="269.9,449.9 272.5,447.9 275.2,446.2 277.3,446.5 279.6,445.1 282.2,444.8 284.8,443.4 287.1,443 289.2,441.8 291.4,440.5 293.6,438.4 295.9,436.5 297.7,437.7 298.9,439.5 301.2,441.3 303.3,442.3 306,442 308.2,443.4 310.3,443.5 313,444.4 315.3,444.1 317.4,444.8 319.5,447.2 321.8,449.5" fill="none" stroke="#1fa34a" stroke-width="1.8" stroke-linejoin="round"/>
<rect x="269" y="395.7" width="54.4" height="54.3" fill="none" stroke="#333" stroke-width=".8"/>
<text x="296" y="375.8" text-anchor="middle">Decoder error (cm)</text>
<text x="267.4" y="391.2" text-anchor="middle">–96</text>
<text x="296" y="391.2" text-anchor="middle">0</text>
<text x="323.6" y="391.2" text-anchor="middle">96</text>
<text x="328.2" y="402.6">0.4</text>
<text x="338.4" y="422.6" text-anchor="middle" transform="rotate(-90 338.4 422.6)">Fraction</text>
<text x="357.6" y="378" font-size="15.5" font-weight="bold">j</text>
<text x="511.8" y="379" font-size="15.5" font-weight="bold">k</text>
<g shape-rendering="crispEdges" fill="none" stroke-width="1">
<rect x="380" y="413" width="52" height="96" fill="#0000d8" stroke="none"/>
<path d="M394 425.5h38M395 427.5h37M380 455.5h19M423 455.5h9M380 464.5h19M427 464.5h5M380 465.5h20M380 480.5h22M428 480.5h4M380 493.5h5M405 493.5h14" stroke="#0000ac"/>
<path d="M393 413.5h5M392 414.5h1M406 414.5h2M411 414.5h1M427 414.5h1M410 415.5h5M423 415.5h9M393 419.5h2M419 419.5h2M400 420.5h2M413 420.5h2M424 420.5h2M393 422.5h30M393 423.5h27M430 423.5h2M417 424.5h1M431 424.5h1M393 426.5h1M400 426.5h1M417 426.5h2M401 428.5h2M415 428.5h3M422 429.5h2M417 430.5h2M402 431.5h1M406 431.5h1M415 431.5h1M388 432.5h1M425 432.5h1M404 433.5h1M409 433.5h2M425 433.5h2M380 434.5h8M402 434.5h6M413 434.5h1M431 434.5h1M414 435.5h1M386 436.5h2M384 437.5h1M388 437.5h1M415 437.5h2M421 437.5h1M388 438.5h1M413 438.5h2M425 438.5h2M388 439.5h1M416 439.5h2M427 439.5h2M402 440.5h2M416 440.5h6M380 441.5h9M403 441.5h1M417 441.5h15M380 442.5h9M402 442.5h10M422 442.5h10M387 444.5h2M407 444.5h2M416 444.5h3M426 444.5h4M407 445.5h1M380 446.5h5M391 446.5h4M408 446.5h17M380 447.5h14M408 447.5h11M426 447.5h6M386 448.5h9M408 448.5h19M431 448.5h1M384 449.5h2M408 449.5h1M419 449.5h2M415 450.5h1M386 451.5h9M410 451.5h22M380 452.5h3M387 452.5h8M409 452.5h19M380 453.5h10M409 453.5h23M395 454.5h1M412 454.5h1M399 455.5h1M418 455.5h2M422 456.5h2M380 457.5h20M414 457.5h2M424 457.5h8M383 458.5h1M414 458.5h1M400 459.5h1M414 459.5h1M422 459.5h1M380 460.5h18M415 460.5h13M425 461.5h3M380 463.5h4M397 463.5h4M414 463.5h18M415 464.5h1M421 464.5h3M431 465.5h1M390 466.5h1M393 466.5h5M419 466.5h1M425 467.5h1M388 468.5h19M421 468.5h8M396 469.5h2M406 469.5h1M420 469.5h3M406 470.5h1M420 470.5h1M380 471.5h6M425 471.5h2M380 472.5h27M385 473.5h2M391 473.5h5M396 474.5h6M421 474.5h2M394 475.5h1M407 475.5h2M422 475.5h1M405 476.5h2M426 476.5h6M391 477.5h23M428 477.5h2M404 478.5h1M410 478.5h2M427 478.5h1M413 479.5h1M405 480.5h1M427 480.5h1M380 481.5h10M410 481.5h4M428 481.5h4M380 482.5h15M406 482.5h9M428 482.5h4M396 483.5h1M404 483.5h1M390 484.5h1M404 484.5h2M413 484.5h1M431 484.5h1M413 485.5h1M428 485.5h1M385 486.5h6M428 486.5h4M406 487.5h2M414 488.5h1M383 489.5h1M399 489.5h1M408 489.5h9M419 489.5h1M403 490.5h2M390 491.5h1M403 491.5h2M380 492.5h34M388 493.5h2M400 493.5h2M405 494.5h11M420 494.5h1M380 495.5h21M380 496.5h17M404 496.5h12M401 497.5h6M412 497.5h8M390 498.5h11M418 498.5h3M380 499.5h17M406 499.5h15M380 500.5h31M390 501.5h4M402 501.5h7M414 502.5h1M380 504.5h1M387 504.5h1M420 505.5h1M415 506.5h2M380 507.5h1M391 507.5h18M418 507.5h3M380 508.5h2M389 508.5h1M391 508.5h1M403 508.5h2" stroke="#0006ff"/>
<path d="M392 413.5h1M408 414.5h3M408 415.5h2M415 415.5h1M422 415.5h1M392 417.5h1M397 418.5h1M405 418.5h1M421 419.5h1M402 420.5h11M426 420.5h1M423 422.5h9M420 423.5h1M428 423.5h2M392 424.5h1M418 424.5h1M429 424.5h2M416 426.5h1M403 428.5h1M413 428.5h2M418 428.5h3M424 429.5h2M431 429.5h1M384 430.5h3M416 430.5h1M388 431.5h1M414 431.5h1M426 432.5h1M388 433.5h1M411 433.5h1M424 433.5h1M401 434.5h1M430 434.5h1M388 435.5h1M407 435.5h1M388 436.5h1M414 437.5h1M417 437.5h4M402 438.5h1M415 438.5h10M414 439.5h2M429 439.5h3M388 440.5h1M404 440.5h12M389 441.5h1M404 441.5h3M415 441.5h2M421 442.5h1M384 444.5h3M389 444.5h1M406 444.5h1M419 444.5h1M424 444.5h2M393 445.5h1M385 446.5h1M425 446.5h1M407 447.5h1M384 448.5h2M430 448.5h1M380 449.5h4M394 449.5h1M421 449.5h1M394 450.5h1M380 451.5h1M385 451.5h1M409 451.5h1M386 452.5h1M408 452.5h1M390 453.5h3M411 454.5h1M415 455.5h3M400 457.5h1M416 457.5h1M423 457.5h1M400 458.5h1M423 459.5h9M398 460.5h1M428 460.5h4M400 461.5h1M424 461.5h1M384 463.5h13M401 465.5h1M425 465.5h6M384 466.5h1M389 466.5h1M398 466.5h1M404 467.5h1M420 467.5h1M422 467.5h1M387 468.5h1M407 468.5h1M429 468.5h1M398 469.5h8M423 469.5h9M386 471.5h8M406 471.5h1M423 471.5h2M431 472.5h1M387 473.5h4M396 473.5h11M401 475.5h6M407 476.5h4M389 477.5h2M427 477.5h1M430 477.5h2M395 478.5h1M412 478.5h2M427 479.5h5M406 480.5h1M390 481.5h1M408 481.5h2M427 481.5h1M395 482.5h11M397 483.5h1M403 483.5h1M427 483.5h1M400 484.5h4M430 484.5h1M427 485.5h1M380 486.5h5M391 486.5h3M427 486.5h1M390 487.5h1M428 488.5h1M402 490.5h1M421 490.5h1M391 491.5h3M400 491.5h3M414 492.5h7M390 493.5h4M398 493.5h2M409 495.5h3M416 496.5h5M380 498.5h10M401 498.5h4M415 498.5h3M421 499.5h1M411 500.5h1M419 500.5h1M420 501.5h1M415 502.5h1M419 502.5h1M381 504.5h1M417 506.5h1M381 507.5h1M390 507.5h1M409 507.5h1M417 507.5h1M382 508.5h1M388 508.5h1M405 508.5h2M419 508.5h2" stroke="#0032ff"/>
<path d="M424 414.5h1M426 414.5h1M405 415.5h3M421 415.5h1M392 416.5h1M422 419.5h1M431 419.5h1M427 420.5h5M392 423.5h1M421 423.5h7M425 424.5h4M392 425.5h1M401 426.5h1M414 426.5h2M380 427.5h1M393 427.5h1M392 428.5h1M404 428.5h2M411 428.5h2M380 429.5h1M426 429.5h1M430 429.5h1M387 430.5h1M415 430.5h1M407 431.5h1M404 432.5h1M427 432.5h1M402 433.5h2M412 433.5h1M414 434.5h2M429 434.5h1M401 435.5h1M413 435.5h1M383 437.5h1M402 437.5h1M413 437.5h1M402 439.5h2M413 439.5h1M407 441.5h8M412 442.5h1M388 443.5h1M401 443.5h1M383 444.5h1M403 444.5h3M386 446.5h1M390 446.5h1M426 446.5h1M419 447.5h1M380 448.5h4M427 448.5h1M422 449.5h1M408 450.5h2M414 450.5h1M408 451.5h1M383 452.5h3M393 453.5h1M408 453.5h1M409 454.5h2M401 456.5h1M421 456.5h1M417 457.5h1M422 457.5h1M380 458.5h3M414 460.5h1M400 462.5h1M413 462.5h1M400 464.5h1M413 464.5h1M416 464.5h1M420 464.5h1M417 465.5h1M424 465.5h1M385 466.5h4M399 466.5h1M423 467.5h2M386 468.5h1M430 468.5h2M394 471.5h1M405 471.5h1M420 471.5h3M427 471.5h1M407 472.5h1M420 472.5h2M407 473.5h1M420 473.5h1M407 474.5h1M420 474.5h1M395 475.5h1M400 475.5h1M425 476.5h1M388 477.5h1M414 477.5h1M396 478.5h1M403 478.5h1M407 480.5h2M402 481.5h6M398 483.5h5M391 484.5h1M398 484.5h2M394 486.5h19M408 487.5h1M427 487.5h1M384 489.5h1M398 489.5h1M398 490.5h4M394 491.5h6M397 493.5h1M420 493.5h1M401 495.5h2M408 495.5h1M412 495.5h1M420 495.5h1M397 496.5h1M403 496.5h1M420 497.5h1M405 498.5h10M397 499.5h1M405 499.5h1M412 500.5h1M420 500.5h1M416 502.5h3M420 503.5h1M382 504.5h1M386 504.5h1M421 504.5h1M418 506.5h1M382 507.5h1M389 507.5h1M410 507.5h1M416 507.5h1M383 508.5h5M395 508.5h1M407 508.5h3M417 508.5h2" stroke="#005eff"/>
<path d="M425 414.5h1M402 415.5h3M416 415.5h1M392 418.5h1M392 419.5h1M423 419.5h1M392 421.5h1M392 422.5h1M392 426.5h1M402 426.5h1M412 426.5h2M406 428.5h5M393 429.5h1M427 429.5h3M400 430.5h2M410 430.5h5M401 431.5h1M408 431.5h6M428 432.5h4M401 433.5h1M413 433.5h1M422 433.5h2M388 434.5h1M416 434.5h3M408 435.5h1M412 435.5h1M401 436.5h1M380 437.5h3M389 437.5h1M403 437.5h10M389 438.5h1M404 439.5h1M412 439.5h1M401 440.5h1M402 441.5h1M413 442.5h1M420 442.5h1M382 444.5h1M402 444.5h1M423 444.5h1M406 445.5h1M387 446.5h3M427 446.5h3M394 447.5h1M425 447.5h1M428 448.5h2M407 449.5h1M423 449.5h1M407 450.5h1M410 450.5h4M381 451.5h4M395 452.5h1M428 452.5h1M394 453.5h1M400 455.5h1M413 455.5h2M420 456.5h1M413 457.5h1M418 457.5h4M413 458.5h1M399 460.5h3M413 461.5h2M423 461.5h1M417 464.5h3M416 465.5h1M418 465.5h1M400 466.5h1M403 466.5h3M385 468.5h1M420 468.5h1M395 471.5h2M404 471.5h1M419 471.5h1M422 472.5h1M430 472.5h1M396 475.5h4M411 476.5h2M380 477.5h1M387 477.5h1M397 478.5h1M402 478.5h1M414 479.5h1M409 480.5h5M414 481.5h1M414 483.5h1M392 484.5h1M397 484.5h1M429 484.5h1M413 486.5h2M380 487.5h3M409 487.5h1M414 487.5h1M415 488.5h1M385 489.5h1M396 490.5h2M421 491.5h1M403 495.5h5M413 495.5h7M398 496.5h1M402 496.5h1M421 498.5h1M418 500.5h1M383 504.5h3M419 506.5h3M383 507.5h2M387 507.5h2M411 507.5h5M410 508.5h1M416 508.5h1" stroke="#008bff"/>
<path d="M391 414.5h1M417 415.5h4M424 419.5h1M430 419.5h1M419 424.5h1M424 424.5h1M411 426.5h1M383 430.5h1M402 430.5h1M409 430.5h1M389 432.5h1M414 433.5h1M419 433.5h3M428 434.5h1M409 435.5h3M389 439.5h1M405 439.5h7M389 442.5h1M414 442.5h1M419 442.5h1M380 444.5h2M407 446.5h1M430 446.5h2M420 447.5h1M424 447.5h1M395 448.5h1M407 448.5h1M424 449.5h1M431 449.5h1M395 451.5h1M407 451.5h1M395 453.5h1M396 454.5h1M408 454.5h1M414 456.5h1M419 456.5h1M413 459.5h1M415 461.5h2M421 461.5h2M401 463.5h1M419 465.5h2M423 465.5h1M401 466.5h2M406 466.5h1M418 466.5h1M405 467.5h1M380 468.5h5M419 469.5h1M407 470.5h1M419 470.5h1M397 471.5h7M428 471.5h4M423 472.5h1M409 475.5h1M421 475.5h1M381 477.5h6M398 478.5h4M426 478.5h1M414 480.5h1M426 480.5h1M401 481.5h1M427 482.5h1M393 484.5h4M426 484.5h1M428 484.5h1M426 485.5h1M383 487.5h1M410 487.5h4M420 489.5h1M380 490.5h1M390 490.5h3M395 490.5h1M421 492.5h1M394 493.5h1M421 494.5h1M421 495.5h1M399 496.5h3M398 499.5h1M404 499.5h1M413 500.5h2M417 500.5h1M420 502.5h1M385 507.5h2M421 507.5h1M392 508.5h3M411 508.5h5M421 508.5h1" stroke="#00b7ff"/>
<path d="M391 413.5h1M380 415.5h1M391 417.5h1M380 419.5h1M394 420.5h1M420 424.5h1M423 424.5h1M403 426.5h1M410 426.5h1M388 430.5h1M403 430.5h1M408 430.5h1M389 431.5h1M415 433.5h4M419 434.5h1M427 434.5h1M401 438.5h1M401 439.5h1M390 441.5h1M401 442.5h1M415 442.5h4M394 445.5h1M395 446.5h1M406 447.5h1M421 447.5h3M395 449.5h1M425 449.5h6M395 450.5h1M429 452.5h3M412 455.5h1M415 456.5h1M418 456.5h1M401 459.5h1M401 461.5h1M417 461.5h4M413 463.5h1M402 465.5h1M421 465.5h2M406 467.5h2M407 469.5h1M424 472.5h1M428 472.5h2M414 478.5h1M426 479.5h1M397 481.5h4M426 481.5h1M415 482.5h1M414 484.5h1M427 484.5h1M414 485.5h1M426 486.5h1M386 489.5h1M397 489.5h1M381 490.5h1M389 490.5h1M393 490.5h2M402 499.5h2M415 500.5h2M421 501.5h1M421 505.5h1" stroke="#00e3ff"/>
<path d="M401 415.5h1M380 418.5h1M425 419.5h2M428 419.5h2M380 421.5h1M380 422.5h1M391 424.5h1M421 424.5h2M380 425.5h1M380 426.5h1M404 426.5h2M409 426.5h1M381 429.5h1M404 430.5h2M407 430.5h1M389 433.5h1M400 434.5h1M420 434.5h1M423 434.5h4M389 435.5h1M389 436.5h1M401 437.5h1M389 440.5h1M390 444.5h1M407 452.5h1M413 456.5h1M416 456.5h2M401 457.5h1M401 458.5h1M419 467.5h1M408 468.5h1M407 471.5h1M425 472.5h3M391 481.5h1M426 483.5h1M427 488.5h1M387 489.5h1M382 490.5h2M388 490.5h1M422 490.5h1M395 493.5h2M421 496.5h1M399 499.5h1M401 499.5h1M422 499.5h1" stroke="#11ffee"/>
<path d="M380 416.5h1M398 418.5h1M427 419.5h1M380 420.5h1M380 423.5h1M391 423.5h1M406 426.5h3M381 427.5h1M392 427.5h1M380 428.5h1M391 428.5h1M406 430.5h1M421 434.5h2M389 443.5h1M400 443.5h1M396 453.5h1M407 453.5h1M413 460.5h1M401 462.5h1M401 464.5h1M419 472.5h1M408 473.5h1M419 473.5h1M408 474.5h1M419 474.5h1M413 476.5h1M426 477.5h1M415 487.5h1M384 490.5h4M421 497.5h1M400 499.5h1M422 504.5h1M422 506.5h1" stroke="#3dffc2"/>
<path d="M391 416.5h1M391 418.5h1M404 418.5h1M391 421.5h1M380 424.5h1M391 425.5h1M400 433.5h1M389 434.5h1M400 435.5h1M400 436.5h1M400 440.5h1M396 452.5h1M402 456.5h1M402 460.5h1M412 462.5h1M412 464.5h1M408 472.5h1M424 476.5h1M415 477.5h1M396 481.5h1M415 483.5h1M389 487.5h1M426 487.5h1M388 489.5h1M422 491.5h1M421 493.5h1M422 498.5h1M421 500.5h1M421 503.5h1" stroke="#69ff96"/>
<path d="M380 413.5h1M380 417.5h1M391 419.5h1M391 422.5h1M391 426.5h1M392 429.5h1M399 430.5h1M390 437.5h1M401 444.5h1M395 447.5h1M406 449.5h1M412 457.5h1M412 458.5h1M415 465.5h1M408 467.5h1M419 468.5h1M418 471.5h1M415 479.5h1M415 481.5h1M415 486.5h1M416 488.5h1" stroke="#96ff69"/>
<path d="M380 414.5h1M391 415.5h2M400 431.5h1M390 432.5h1M390 438.5h1M390 439.5h1M401 441.5h1M390 442.5h1M405 445.5h1M406 446.5h1M396 448.5h1M406 450.5h1M396 451.5h1M407 454.5h1M401 455.5h1M412 459.5h1M412 461.5h1M402 463.5h1M417 466.5h1M418 469.5h1M418 470.5h1M420 475.5h1M425 478.5h1M425 480.5h1M426 482.5h1M425 484.5h1M425 485.5h1M421 489.5h1M422 492.5h1M422 494.5h1M422 495.5h1M421 502.5h1M422 508.5h1" stroke="#c2ff3d"/>
<path d="M390 414.5h1M381 415.5h1M382 430.5h1M390 431.5h1M400 438.5h1M400 439.5h1M391 441.5h1M400 442.5h1M420 444.5h1M396 446.5h1M406 448.5h1M396 450.5h1M406 451.5h1M397 454.5h1M411 455.5h1M402 459.5h1M402 461.5h1M412 463.5h1M403 465.5h1M407 466.5h1M408 469.5h1M408 470.5h1M410 475.5h1M415 478.5h1M415 480.5h1M416 482.5h1M415 484.5h1M415 485.5h1M384 487.5h1M396 489.5h1M431 489.5h1M422 501.5h1M431 502.5h1M422 505.5h1M422 507.5h1" stroke="#eeff11"/>
<path d="M390 413.5h1M400 415.5h1M390 417.5h1M381 418.5h1M381 419.5h1M381 422.5h1M381 426.5h1M382 429.5h1M380 430.5h1M389 430.5h1M390 433.5h1M390 436.5h1M400 437.5h1M390 440.5h1M391 444.5h1M395 445.5h1M405 447.5h1M396 449.5h1M402 457.5h1M402 458.5h1M418 467.5h1M409 468.5h1M408 471.5h1M425 479.5h1M392 481.5h1M395 481.5h1M425 481.5h1M425 483.5h1M425 486.5h1M426 488.5h1M389 489.5h1M423 490.5h1M422 496.5h1M423 499.5h1" stroke="#ffe300"/>
<path d="M381 416.5h1M399 418.5h1M403 418.5h1M381 420.5h1M390 420.5h1M381 421.5h1M390 423.5h1M390 424.5h1M381 425.5h1M391 427.5h1M381 428.5h1M390 428.5h1M381 430.5h1M399 434.5h1M390 435.5h1M399 443.5h1M406 452.5h1M406 453.5h1M412 456.5h1M412 460.5h1M402 462.5h1M402 464.5h1M418 472.5h1M418 473.5h1M409 474.5h1M418 474.5h1M414 476.5h1M425 477.5h1M393 481.5h2M416 487.5h1M431 493.5h1M422 497.5h1M431 500.5h1M431 503.5h1M423 504.5h1M423 506.5h1" stroke="#ffb700"/>
<path d="M390 416.5h1M390 418.5h1M393 420.5h1M390 421.5h1M381 423.5h1M381 424.5h1M390 425.5h1M382 427.5h1M391 429.5h1M399 433.5h1M390 434.5h1M399 435.5h1M399 436.5h1M399 440.5h1M390 443.5h1M397 452.5h1M397 453.5h1M403 456.5h1M403 460.5h1M411 462.5h1M411 464.5h1M414 465.5h1M417 471.5h1M409 472.5h1M409 473.5h1M423 476.5h1M416 477.5h1M416 483.5h1M425 487.5h1M423 491.5h1M422 493.5h1M431 496.5h1M431 497.5h1M423 498.5h1M422 500.5h1M422 503.5h1" stroke="#ff8b00"/>
<path d="M381 413.5h1M381 414.5h1M390 415.5h1M381 417.5h1M400 418.5h3M390 419.5h1M391 420.5h1M390 422.5h1M390 426.5h1M398 430.5h1M399 431.5h1M391 432.5h1M403 432.5h1M391 437.5h1M391 438.5h1M391 439.5h1M400 441.5h1M391 442.5h1M400 444.5h1M404 445.5h1M405 446.5h1M396 447.5h1M397 448.5h1M405 449.5h1M405 450.5h1M397 451.5h1M406 454.5h1M402 455.5h1M411 457.5h1M411 458.5h1M411 459.5h1M411 461.5h1M403 463.5h1M416 466.5h1M409 467.5h1M418 468.5h1M417 469.5h1M417 470.5h1M419 475.5h1M424 478.5h1M416 479.5h1M424 480.5h1M416 481.5h1M425 482.5h1M424 484.5h1M424 485.5h1M416 486.5h1M388 487.5h1M417 488.5h1M422 489.5h1M423 492.5h1M423 494.5h1M423 495.5h1M431 501.5h1M422 502.5h1M431 505.5h1M431 507.5h1M423 508.5h1" stroke="#ff5e00"/>
<path d="M389 413.5h1M389 414.5h1M382 415.5h1M393 415.5h1M389 417.5h1M382 418.5h1M382 419.5h1M392 420.5h1M382 421.5h1M382 422.5h1M389 424.5h1M382 425.5h1M382 426.5h1M383 429.5h1M390 430.5h1M391 431.5h1M399 432.5h1M391 433.5h1M398 434.5h1M391 435.5h1M391 436.5h1M399 437.5h1M399 438.5h1M399 439.5h1M391 440.5h1M392 441.5h1M399 442.5h1M392 444.5h1M396 445.5h1M397 446.5h1M404 447.5h1M405 448.5h1M397 449.5h1M397 450.5h1M405 451.5h1M405 452.5h1M398 454.5h1M410 455.5h1M411 456.5h1M403 457.5h1M403 458.5h1M403 459.5h1M403 461.5h1M411 463.5h1M404 465.5h1M413 465.5h1M408 466.5h1M417 467.5h1M410 468.5h1M409 469.5h1M409 470.5h1M409 471.5h1M411 475.5h1M416 478.5h1M424 479.5h1M416 480.5h1M424 481.5h1M417 482.5h1M424 483.5h1M416 484.5h1M416 485.5h1M424 486.5h1M425 488.5h1M390 489.5h1M395 489.5h1M430 489.5h1M424 490.5h1M431 491.5h1M431 492.5h1M430 493.5h1M431 494.5h1M431 495.5h1M423 496.5h1M431 498.5h1M424 499.5h1M423 501.5h1M430 502.5h1M423 505.5h1M423 507.5h1M431 508.5h1" stroke="#ff3200"/>
<path d="M382 413.5h1M382 414.5h1M388 414.5h1M389 415.5h1M399 415.5h1M382 416.5h1M389 416.5h1M382 417.5h1M389 418.5h1M389 419.5h1M382 420.5h1M389 420.5h1M389 421.5h1M389 422.5h1M382 423.5h1M389 423.5h1M382 424.5h1M389 425.5h1M389 426.5h1M383 427.5h1M390 427.5h1M382 428.5h1M389 428.5h1M390 429.5h1M397 430.5h1M398 431.5h1M392 432.5h1M400 432.5h1M398 433.5h1M391 434.5h1M398 435.5h1M398 436.5h1M392 437.5h1M392 438.5h1M392 439.5h1M398 440.5h1M399 441.5h1M392 442.5h1M398 442.5h1M391 443.5h1M398 443.5h1M399 444.5h1M403 445.5h1M404 446.5h1M397 447.5h1M398 448.5h1M404 448.5h1M404 449.5h1M404 450.5h1M398 451.5h1M404 451.5h1M398 452.5h1M398 453.5h1M405 453.5h1M399 454.5h1M405 454.5h1M403 455.5h1M404 456.5h1M410 457.5h1M410 458.5h1M404 459.5h1M410 459.5h1M404 460.5h1M411 460.5h1M410 461.5h1M403 462.5h1M410 462.5h1M404 463.5h1M403 464.5h1M410 464.5h1M411 465.5h2M409 466.5h1M415 466.5h1M410 467.5h1M417 468.5h1M416 469.5h1M410 470.5h1M416 470.5h1M416 471.5h1M410 472.5h1M417 472.5h1M410 473.5h1M417 473.5h1M410 474.5h1M417 474.5h1M412 475.5h1M418 475.5h1M415 476.5h1M422 476.5h1M417 477.5h1M424 477.5h1M417 478.5h1M423 478.5h1M417 479.5h1M417 480.5h1M423 480.5h1M417 481.5h1M418 482.5h1M424 482.5h1M417 483.5h1M417 484.5h1M423 484.5h1M417 485.5h1M423 485.5h1M417 486.5h1M385 487.5h1M387 487.5h1M417 487.5h1M424 487.5h1M418 488.5h1M394 489.5h1M423 489.5h1M429 489.5h1M431 490.5h1M424 491.5h1M424 492.5h1M430 492.5h1M423 493.5h1M424 494.5h1M424 495.5h1M430 495.5h1M430 496.5h1M423 497.5h1M430 497.5h1M424 498.5h1M431 499.5h1M423 500.5h1M430 500.5h1M430 501.5h1M423 502.5h1M429 502.5h1M423 503.5h1M430 503.5h1M424 504.5h1M431 504.5h1M424 505.5h1M430 505.5h1M424 506.5h1M431 506.5h1M424 507.5h1M430 507.5h1M424 508.5h1M430 508.5h1" stroke="#ff0600"/>
<path d="M383 413.5h1M388 413.5h1M383 414.5h1M387 414.5h1M383 415.5h2M388 415.5h1M394 415.5h1M383 416.5h1M388 416.5h1M383 417.5h1M388 417.5h1M383 418.5h1M388 418.5h1M383 419.5h1M388 419.5h1M383 420.5h1M388 420.5h1M383 421.5h1M388 421.5h1M383 422.5h1M388 422.5h1M383 423.5h1M388 423.5h1M383 424.5h1M388 424.5h1M383 425.5h1M388 425.5h1M383 426.5h1M388 426.5h1M384 427.5h1M389 427.5h1M383 428.5h1M388 428.5h1M384 429.5h1M389 429.5h1M391 430.5h1M396 430.5h1M392 431.5h1M397 431.5h1M393 432.5h1M397 432.5h2M392 433.5h1M397 433.5h1M392 434.5h1M397 434.5h1M392 435.5h1M397 435.5h1M392 436.5h1M397 436.5h1M393 437.5h1M398 437.5h1M393 438.5h1M398 438.5h1M393 439.5h1M398 439.5h1M392 440.5h1M397 440.5h1M393 441.5h1M398 441.5h1M393 442.5h1M397 442.5h1M392 443.5h1M397 443.5h1M393 444.5h1M398 444.5h1M422 444.5h1M397 445.5h1M402 445.5h1M398 446.5h2M403 446.5h1M398 447.5h1M403 447.5h1M399 448.5h1M403 448.5h1M398 449.5h1M403 449.5h1M398 450.5h1M403 450.5h1M399 451.5h1M403 451.5h1M399 452.5h1M404 452.5h1M399 453.5h1M404 453.5h1M400 454.5h1M404 454.5h1M404 455.5h1M409 455.5h1M405 456.5h1M410 456.5h1M404 457.5h1M409 457.5h1M404 458.5h1M409 458.5h1M405 459.5h1M409 459.5h1M405 460.5h1M410 460.5h1M404 461.5h1M409 461.5h1M404 462.5h1M409 462.5h1M405 463.5h1M409 463.5h2M404 464.5h1M409 464.5h1M405 465.5h1M410 465.5h1M410 466.5h1M414 466.5h1M411 467.5h1M416 467.5h1M411 468.5h1M416 468.5h1M410 469.5h2M415 469.5h1M411 470.5h1M415 470.5h1M410 471.5h1M415 471.5h1M411 472.5h1M416 472.5h1M411 473.5h1M416 473.5h1M411 474.5h1M416 474.5h1M413 475.5h1M417 475.5h1M416 476.5h1M421 476.5h1M418 477.5h1M423 477.5h1M418 478.5h1M422 478.5h1M418 479.5h1M423 479.5h1M418 480.5h1M422 480.5h1M418 481.5h1M423 481.5h1M419 482.5h1M423 482.5h1M418 483.5h1M423 483.5h1M418 484.5h1M422 484.5h1M418 485.5h1M422 485.5h1M418 486.5h1M423 486.5h1M386 487.5h1M418 487.5h1M423 487.5h1M419 488.5h1M424 488.5h1M391 489.5h3M424 489.5h1M428 489.5h1M425 490.5h1M430 490.5h1M425 491.5h1M430 491.5h1M425 492.5h1M429 492.5h1M424 493.5h1M429 493.5h1M425 494.5h1M429 494.5h2M425 495.5h1M429 495.5h1M424 496.5h1M429 496.5h1M424 497.5h1M429 497.5h1M425 498.5h1M430 498.5h1M425 499.5h1M430 499.5h1M424 500.5h1M429 500.5h1M424 501.5h1M429 501.5h1M424 502.5h1M428 502.5h1M424 503.5h1M429 503.5h1M425 504.5h1M430 504.5h1M425 505.5h1M429 505.5h1M425 506.5h1M430 506.5h1M425 507.5h1M429 507.5h1M425 508.5h1M429 508.5h1" stroke="#d80000"/>
<path d="M384 413.5h1M387 413.5h1M387 415.5h1M395 415.5h1M384 416.5h1M387 416.5h1M384 417.5h1M387 417.5h1M384 418.5h1M387 418.5h1M384 419.5h1M387 419.5h1M384 420.5h1M387 420.5h1M384 421.5h1M387 421.5h1M384 422.5h1M387 422.5h1M384 423.5h1M387 423.5h1M384 424.5h1M387 424.5h1M384 425.5h1M387 425.5h1M384 426.5h1M387 426.5h1M385 427.5h1M388 427.5h1M384 428.5h1M387 428.5h1M385 429.5h1M388 429.5h1M392 430.5h1M395 430.5h1M393 431.5h1M396 431.5h1M394 432.5h1M401 432.5h2M393 433.5h1M396 433.5h1M393 434.5h1M396 434.5h1M393 435.5h1M396 435.5h1M393 436.5h1M396 436.5h1M394 437.5h1M397 437.5h1M394 438.5h1M397 438.5h1M394 439.5h1M397 439.5h1M393 440.5h1M396 440.5h1M394 441.5h1M397 441.5h1M394 442.5h1M393 443.5h1M396 443.5h1M394 444.5h1M397 444.5h1M421 444.5h1M398 445.5h1M401 445.5h1M402 446.5h1M399 447.5h1M402 447.5h1M399 449.5h1M402 449.5h1M399 450.5h1M402 450.5h1M400 452.5h1M403 452.5h1M400 453.5h1M403 453.5h1M405 455.5h1M408 455.5h1M406 456.5h1M409 456.5h1M405 457.5h1M408 457.5h1M405 458.5h1M408 458.5h1M408 459.5h1M406 460.5h1M409 460.5h1M405 461.5h1M408 461.5h1M405 462.5h1M408 462.5h1M406 463.5h1M405 464.5h1M408 464.5h1M406 465.5h1M409 465.5h1M412 467.5h1M415 467.5h1M412 468.5h1M415 468.5h1M414 469.5h1M411 471.5h1M414 471.5h1M412 472.5h1M415 472.5h1M412 473.5h1M415 473.5h1M412 474.5h1M415 474.5h1M417 476.5h1M420 476.5h1M419 477.5h1M422 477.5h1M421 478.5h1M419 479.5h1M422 479.5h1M419 481.5h1M422 481.5h1M422 482.5h1M419 483.5h1M422 483.5h1M421 484.5h1M421 485.5h1M419 486.5h1M422 486.5h1M419 487.5h1M422 487.5h1M420 488.5h1M423 488.5h1M426 490.5h1M429 490.5h1M426 491.5h1M429 491.5h1M425 493.5h1M428 493.5h1M426 494.5h1M426 495.5h1M425 496.5h1M428 496.5h1M425 497.5h1M428 497.5h1M426 498.5h1M429 498.5h1M426 499.5h1M429 499.5h1M425 500.5h1M428 500.5h1M425 501.5h1M428 501.5h1M425 503.5h1M428 503.5h1M426 504.5h1M429 504.5h1M428 505.5h1M426 506.5h1M429 506.5h1M426 508.5h1" stroke="#ac0000"/>
<path d="M385 413.5h2M384 414.5h3M385 415.5h2M396 415.5h3M385 416.5h2M385 417.5h2M385 418.5h2M385 419.5h2M385 420.5h2M385 421.5h2M385 422.5h2M385 423.5h2M385 424.5h2M385 425.5h2M385 426.5h2M386 427.5h2M385 428.5h2M386 429.5h2M393 430.5h2M394 431.5h2M395 432.5h2M394 433.5h2M394 434.5h2M394 435.5h2M394 436.5h2M395 437.5h2M395 438.5h2M395 439.5h2M394 440.5h2M395 441.5h2M395 442.5h2M394 443.5h2M395 444.5h2M399 445.5h2M400 446.5h2M400 447.5h2M400 448.5h3M400 449.5h2M400 450.5h2M400 451.5h3M401 452.5h2M401 453.5h2M401 454.5h3M406 455.5h2M407 456.5h2M406 457.5h2M406 458.5h2M406 459.5h2M407 460.5h2M406 461.5h2M406 462.5h2M407 463.5h2M406 464.5h2M407 465.5h2M411 466.5h3M413 467.5h2M413 468.5h2M412 469.5h2M412 470.5h3M412 471.5h2M413 472.5h2M413 473.5h2M413 474.5h2M414 475.5h3M418 476.5h2M420 477.5h2M419 478.5h2M420 479.5h2M419 480.5h3M420 481.5h2M420 482.5h2M420 483.5h2M419 484.5h2M419 485.5h2M420 486.5h2M420 487.5h2M421 488.5h2M425 489.5h3M427 490.5h2M427 491.5h2M426 492.5h3M426 493.5h2M427 494.5h2M427 495.5h2M426 496.5h2M426 497.5h2M427 498.5h2M427 499.5h2M426 500.5h2M426 501.5h2M425 502.5h3M426 503.5h2M427 504.5h2M426 505.5h2M427 506.5h2M426 507.5h3M427 508.5h2" stroke="#800000"/>
</g>
<rect x="379.8" y="412.8" width="52" height="96" fill="none" stroke="#555" stroke-width=".6"/>
<g shape-rendering="crispEdges" fill="none" stroke-width="1">
<rect x="442" y="413" width="52" height="96" fill="#0000d8" stroke="none"/>
<path d="M442 434.5h4M471 434.5h23M442 455.5h7M481 455.5h13M442 458.5h10M471 458.5h23M476 463.5h18M442 468.5h2M484 468.5h10M442 487.5h3M452 487.5h15M486 487.5h8M467 491.5h14M442 507.5h16M481 507.5h2" stroke="#0000ac"/>
<path d="M454 413.5h1M455 414.5h2M462 414.5h4M472 414.5h2M455 415.5h1M467 415.5h2M474 415.5h2M479 415.5h8M455 416.5h1M472 417.5h22M455 419.5h1M462 419.5h1M472 419.5h1M480 419.5h5M493 419.5h1M455 420.5h1M461 420.5h1M471 420.5h1M454 421.5h4M464 421.5h30M455 422.5h7M469 422.5h3M486 422.5h8M459 423.5h35M455 424.5h4M469 424.5h1M459 425.5h12M486 425.5h8M455 426.5h1M468 427.5h11M487 427.5h1M456 428.5h4M466 428.5h20M444 429.5h3M462 429.5h1M442 430.5h1M461 430.5h1M491 430.5h1M442 431.5h4M461 431.5h2M474 431.5h20M442 432.5h7M467 432.5h27M443 433.5h6M463 433.5h1M466 433.5h2M472 433.5h2M447 434.5h1M467 434.5h2M479 435.5h2M487 435.5h1M442 436.5h6M461 436.5h3M474 436.5h12M442 437.5h5M463 437.5h5M484 437.5h10M442 438.5h5M461 438.5h15M487 438.5h7M448 439.5h1M490 439.5h4M464 440.5h1M446 441.5h1M461 441.5h2M467 441.5h1M446 442.5h1M460 442.5h1M478 442.5h1M482 442.5h1M442 443.5h1M462 443.5h6M473 443.5h1M483 443.5h1M489 443.5h1M461 444.5h7M481 444.5h3M464 445.5h1M480 445.5h1M485 445.5h1M450 446.5h5M479 446.5h2M445 447.5h1M452 447.5h1M454 447.5h1M470 447.5h1M442 448.5h9M455 448.5h1M478 448.5h1M483 448.5h8M470 449.5h1M487 449.5h2M452 450.5h3M470 450.5h1M473 450.5h2M482 450.5h2M451 451.5h1M455 451.5h2M470 451.5h1M485 451.5h7M452 452.5h1M472 452.5h1M474 452.5h2M484 452.5h2M444 453.5h3M469 453.5h1M471 453.5h2M479 453.5h3M489 453.5h3M444 454.5h1M450 454.5h1M454 454.5h1M469 454.5h2M455 455.5h1M469 455.5h1M479 455.5h1M443 456.5h2M469 456.5h1M474 456.5h5M449 457.5h2M468 457.5h1M475 457.5h4M488 457.5h3M453 458.5h1M466 458.5h3M452 459.5h2M456 459.5h1M471 459.5h1M485 459.5h3M456 460.5h1M469 460.5h1M489 460.5h5M476 461.5h3M442 462.5h9M473 462.5h8M491 462.5h3M446 463.5h1M468 463.5h5M455 464.5h1M476 464.5h2M442 465.5h4M473 465.5h11M489 465.5h5M442 466.5h6M458 466.5h4M475 466.5h2M480 466.5h14M459 467.5h1M471 467.5h6M447 468.5h2M442 469.5h10M463 469.5h1M452 470.5h7M442 471.5h8M442 472.5h3M459 472.5h5M482 472.5h8M451 473.5h2M456 474.5h3M483 474.5h1M444 475.5h1M476 475.5h1M478 476.5h1M464 477.5h1M479 477.5h1M454 478.5h17M493 478.5h1M442 479.5h26M493 479.5h1M442 480.5h1M481 480.5h8M449 481.5h1M453 481.5h1M466 481.5h1M470 481.5h1M485 481.5h1M490 481.5h1M453 482.5h2M471 482.5h3M470 483.5h1M459 484.5h1M470 484.5h1M487 484.5h1M442 485.5h13M461 485.5h2M485 485.5h9M445 486.5h2M458 486.5h1M478 486.5h1M450 487.5h1M471 487.5h1M481 487.5h1M442 488.5h17M465 488.5h4M485 488.5h9M455 489.5h2M482 489.5h1M444 490.5h1M463 490.5h3M483 490.5h3M482 491.5h1M443 492.5h2M459 492.5h4M482 492.5h1M475 493.5h1M481 493.5h2M454 494.5h3M464 494.5h3M483 494.5h1M459 495.5h1M485 495.5h1M442 496.5h3M461 496.5h1M466 496.5h1M442 497.5h6M473 497.5h5M455 498.5h1M471 498.5h2M479 498.5h1M442 499.5h1M447 499.5h1M462 499.5h7M451 500.5h1M468 500.5h3M487 500.5h1M442 501.5h4M450 501.5h9M468 501.5h12M493 501.5h1M442 502.5h1M449 502.5h2M484 502.5h1M442 503.5h5M450 503.5h27M442 504.5h27M474 504.5h5M492 504.5h2M477 505.5h1M487 505.5h1M442 506.5h40M491 506.5h3M459 507.5h1M462 507.5h1M480 507.5h1M442 508.5h6M451 508.5h21" stroke="#0006ff"/>
<path d="M453 413.5h1M454 414.5h1M471 414.5h1M454 415.5h1M469 415.5h5M487 415.5h1M454 416.5h1M454 417.5h2M470 417.5h2M454 419.5h1M463 419.5h1M471 419.5h1M485 419.5h1M491 419.5h2M454 420.5h1M462 420.5h1M470 420.5h1M453 421.5h1M463 421.5h1M454 422.5h1M468 422.5h1M472 422.5h1M485 422.5h1M454 423.5h1M458 423.5h1M454 424.5h1M468 424.5h1M457 425.5h2M471 425.5h1M485 425.5h1M454 426.5h1M464 426.5h4M471 426.5h1M479 426.5h1M488 427.5h2M442 428.5h1M460 428.5h6M442 429.5h2M447 429.5h1M443 430.5h1M460 430.5h1M484 430.5h1M490 430.5h1M446 431.5h1M463 431.5h2M472 431.5h2M449 433.5h1M462 433.5h1M468 433.5h4M448 434.5h1M465 434.5h2M460 435.5h1M463 435.5h1M470 435.5h1M477 435.5h2M488 435.5h2M448 436.5h1M460 436.5h1M464 436.5h1M473 436.5h1M447 437.5h1M468 437.5h1M478 437.5h2M447 438.5h1M460 438.5h1M476 438.5h1M449 439.5h1M462 439.5h1M479 439.5h1M489 439.5h1M445 440.5h1M449 440.5h1M463 440.5h1M447 441.5h1M463 441.5h4M479 442.5h3M461 443.5h1M474 443.5h1M445 444.5h3M460 444.5h1M442 445.5h9M463 445.5h1M481 445.5h1M455 446.5h1M475 446.5h4M446 447.5h4M451 447.5h1M455 447.5h1M469 447.5h1M456 448.5h1M444 449.5h1M449 449.5h8M469 449.5h1M489 449.5h5M442 450.5h3M451 450.5h1M457 450.5h1M475 450.5h1M481 450.5h1M469 451.5h1M453 452.5h1M471 452.5h1M476 452.5h8M442 453.5h2M447 453.5h2M454 453.5h1M473 453.5h6M482 453.5h7M455 454.5h1M456 455.5h1M471 455.5h1M445 456.5h1M470 456.5h4M451 457.5h2M467 457.5h1M479 457.5h1M487 457.5h1M454 458.5h1M442 459.5h4M451 459.5h1M457 459.5h1M470 459.5h1M488 459.5h6M468 460.5h1M442 461.5h6M465 461.5h11M479 461.5h1M483 461.5h1M451 462.5h4M472 462.5h1M481 462.5h1M467 463.5h1M475 464.5h1M478 464.5h1M484 464.5h1M446 465.5h1M472 465.5h1M448 466.5h1M457 466.5h1M462 466.5h1M474 466.5h1M477 466.5h3M460 467.5h1M470 467.5h1M449 468.5h2M454 468.5h1M461 468.5h2M475 469.5h1M451 470.5h1M459 470.5h1M464 471.5h1M480 471.5h1M458 472.5h1M464 472.5h1M481 472.5h1M453 473.5h2M478 473.5h1M488 473.5h1M491 473.5h1M459 474.5h7M477 474.5h1M463 475.5h1M475 475.5h1M467 476.5h1M465 477.5h1M478 477.5h1M447 478.5h7M492 478.5h1M468 479.5h1M481 479.5h1M492 479.5h1M443 480.5h1M480 480.5h1M489 480.5h5M448 481.5h1M454 481.5h1M471 481.5h1M486 481.5h4M455 482.5h1M470 482.5h1M482 482.5h1M471 483.5h1M484 483.5h1M460 484.5h1M469 484.5h1M463 485.5h1M483 485.5h2M444 486.5h1M459 486.5h2M466 486.5h3M446 487.5h1M464 488.5h1M457 489.5h1M465 489.5h3M451 490.5h12M469 490.5h1M450 491.5h1M456 491.5h6M483 491.5h1M445 492.5h1M457 492.5h2M457 494.5h7M460 495.5h2M473 495.5h1M489 496.5h1M493 497.5h1M444 498.5h1M473 498.5h6M486 498.5h1M493 498.5h1M443 499.5h4M481 499.5h1M452 500.5h1M486 500.5h1M446 501.5h1M449 501.5h1M459 501.5h1M492 501.5h1M443 502.5h6M485 502.5h1M447 503.5h1M477 503.5h1M479 504.5h1M478 505.5h1M460 507.5h2M463 507.5h1M484 507.5h1M448 508.5h3M472 508.5h2" stroke="#0032ff"/>
<path d="M452 413.5h1M453 414.5h1M466 414.5h1M453 415.5h1M488 415.5h1M453 416.5h1M453 417.5h1M456 417.5h2M469 417.5h1M459 418.5h1M453 419.5h1M464 419.5h7M486 419.5h1M489 419.5h2M453 420.5h1M463 420.5h1M469 420.5h1M453 422.5h1M473 422.5h1M484 422.5h1M453 423.5h1M455 423.5h3M453 424.5h1M459 424.5h1M467 424.5h1M453 425.5h4M484 425.5h1M453 426.5h1M454 427.5h1M490 427.5h4M443 428.5h1M455 428.5h1M461 429.5h1M444 430.5h5M485 430.5h5M447 431.5h1M460 431.5h1M465 431.5h7M449 432.5h1M466 432.5h1M463 434.5h2M442 435.5h7M459 435.5h1M471 435.5h6M490 435.5h4M465 436.5h1M486 436.5h1M448 437.5h1M462 437.5h1M469 437.5h2M477 437.5h1M459 438.5h1M486 438.5h1M461 439.5h1M462 440.5h1M447 442.5h1M459 442.5h1M475 443.5h1M482 443.5h1M448 444.5h1M482 445.5h3M473 446.5h2M450 447.5h1M456 447.5h1M469 448.5h2M448 449.5h1M457 449.5h1M445 450.5h1M450 450.5h1M458 450.5h1M469 450.5h1M476 450.5h5M452 451.5h3M457 451.5h1M454 452.5h1M449 453.5h5M468 453.5h1M468 454.5h1M468 455.5h1M472 455.5h1M478 455.5h1M446 456.5h1M454 456.5h2M468 456.5h1M453 457.5h1M466 457.5h1M491 457.5h1M465 458.5h1M446 459.5h1M449 459.5h2M457 460.5h1M453 461.5h1M480 461.5h3M490 462.5h1M445 463.5h1M456 464.5h1M474 464.5h1M447 465.5h1M471 465.5h1M449 466.5h8M473 466.5h1M451 468.5h3M455 468.5h1M463 468.5h1M474 468.5h1M464 469.5h1M442 470.5h1M465 471.5h1M445 472.5h1M457 472.5h1M476 472.5h5M455 473.5h5M477 473.5h1M478 474.5h1M464 475.5h1M477 476.5h1M477 477.5h1M442 478.5h5M471 478.5h1M480 479.5h1M482 479.5h2M491 479.5h1M444 480.5h2M446 481.5h2M465 481.5h1M484 481.5h1M456 482.5h1M469 482.5h1M474 482.5h1M488 482.5h1M443 483.5h1M491 483.5h1M461 484.5h1M468 484.5h1M484 484.5h3M464 485.5h1M482 485.5h1M442 486.5h2M461 486.5h5M477 486.5h1M447 487.5h3M480 487.5h1M484 488.5h1M458 489.5h7M468 489.5h1M481 489.5h1M445 490.5h1M450 490.5h1M486 490.5h1M442 491.5h2M449 491.5h1M451 491.5h5M446 492.5h4M456 492.5h1M483 492.5h1M491 493.5h3M484 494.5h1M462 495.5h2M471 495.5h2M484 495.5h1M479 497.5h1M482 499.5h1M453 500.5h1M471 500.5h1M447 501.5h2M460 501.5h4M467 501.5h1M449 503.5h1M491 504.5h1M486 505.5h1M482 506.5h1M490 506.5h1M464 507.5h4M491 507.5h1M474 508.5h1" stroke="#005eff"/>
<path d="M451 413.5h1M470 414.5h1M452 415.5h1M489 415.5h5M458 417.5h2M487 419.5h2M452 420.5h1M464 420.5h5M452 421.5h1M452 422.5h1M474 422.5h2M482 422.5h2M452 423.5h1M460 424.5h2M465 424.5h2M472 425.5h1M481 425.5h3M452 426.5h1M486 428.5h1M448 429.5h1M449 430.5h1M459 430.5h1M461 432.5h1M450 433.5h1M461 433.5h1M449 434.5h1M460 434.5h3M459 436.5h1M466 436.5h1M472 436.5h1M493 436.5h1M471 437.5h6M483 437.5h1M448 438.5h1M477 438.5h1M450 439.5h1M446 440.5h3M450 440.5h1M448 441.5h1M448 443.5h1M460 443.5h1M444 444.5h1M459 444.5h1M451 445.5h1M462 445.5h1M456 446.5h1M472 446.5h1M468 447.5h1M457 448.5h1M471 448.5h1M477 448.5h1M468 449.5h1M446 450.5h4M468 451.5h1M455 452.5h1M470 452.5h1M456 454.5h1M457 455.5h1M473 455.5h5M447 456.5h7M492 457.5h2M455 458.5h1M447 459.5h2M458 459.5h1M469 459.5h1M452 461.5h1M464 461.5h1M460 462.5h1M471 462.5h1M482 462.5h1M489 462.5h1M466 463.5h1M473 464.5h1M479 464.5h5M448 465.5h1M470 465.5h1M484 465.5h1M488 465.5h1M469 467.5h1M482 468.5h1M474 469.5h1M478 470.5h1M455 472.5h2M465 472.5h1M475 472.5h1M493 472.5h1M460 473.5h2M466 474.5h1M443 475.5h1M474 475.5h1M460 476.5h1M464 476.5h1M468 476.5h1M466 477.5h1M469 479.5h1M484 479.5h7M446 480.5h1M457 480.5h2M463 480.5h2M467 480.5h1M479 480.5h1M442 481.5h4M455 481.5h1M472 481.5h1M457 482.5h2M467 482.5h2M447 483.5h1M482 483.5h2M492 483.5h2M462 484.5h1M467 484.5h1M455 485.5h1M460 485.5h1M465 485.5h3M481 485.5h1M472 487.5h1M469 488.5h1M469 489.5h5M446 490.5h4M470 490.5h1M487 490.5h1M446 491.5h3M484 491.5h1M450 492.5h6M483 493.5h1M490 493.5h1M464 495.5h7M474 495.5h1M462 496.5h4M454 498.5h1M454 500.5h2M472 500.5h1M480 501.5h1M486 502.5h1M448 503.5h1M478 503.5h1M480 504.5h1M468 507.5h3M492 507.5h1M475 508.5h10" stroke="#008bff"/>
<path d="M452 414.5h1M467 414.5h3M452 416.5h1M452 417.5h1M460 417.5h1M468 417.5h1M458 418.5h1M452 419.5h1M451 421.5h1M462 422.5h1M476 422.5h6M452 424.5h1M462 424.5h3M452 425.5h1M480 425.5h1M454 428.5h1M459 431.5h1M460 432.5h1M459 434.5h1M449 435.5h1M449 436.5h1M467 436.5h5M449 437.5h1M480 437.5h1M482 437.5h1M478 438.5h4M488 439.5h1M461 440.5h1M448 442.5h1M458 442.5h1M443 443.5h1M476 443.5h1M481 443.5h1M468 446.5h4M468 448.5h1M445 449.5h1M456 452.5h2M467 453.5h1M467 454.5h1M467 455.5h1M456 456.5h1M467 456.5h1M454 457.5h1M458 460.5h1M467 460.5h1M454 461.5h1M483 462.5h6M457 464.5h1M468 464.5h5M449 465.5h1M459 465.5h1M485 465.5h3M463 466.5h1M461 467.5h1M460 468.5h1M446 472.5h1M454 472.5h1M462 473.5h2M442 475.5h1M459 480.5h1M462 480.5h1M465 480.5h2M464 481.5h1M459 482.5h8M472 483.5h1M480 483.5h2M463 484.5h4M483 484.5h1M468 485.5h3M469 486.5h1M459 488.5h1M488 490.5h6M444 491.5h2M484 492.5h1M483 495.5h1M480 496.5h1M488 496.5h1M492 497.5h1M456 500.5h1M467 500.5h1M485 500.5h1M464 501.5h1M466 501.5h1M491 501.5h1M490 504.5h1M479 505.5h1M479 507.5h1M485 507.5h1" stroke="#00b7ff"/>
<path d="M450 413.5h1M451 415.5h1M461 417.5h7M450 418.5h1M455 418.5h3M451 420.5h1M451 422.5h1M451 423.5h1M451 425.5h1M473 425.5h1M479 425.5h1M451 426.5h1M478 426.5h1M444 428.5h1M448 431.5h1M458 435.5h1M469 435.5h1M481 437.5h1M458 438.5h1M482 438.5h1M485 438.5h1M451 439.5h1M460 439.5h1M490 443.5h1M449 444.5h1M457 446.5h1M467 446.5h1M457 447.5h1M472 448.5h1M476 448.5h1M446 449.5h2M458 449.5h1M459 450.5h1M468 450.5h1M458 451.5h1M455 453.5h1M450 455.5h1M454 455.5h1M458 455.5h1M465 457.5h1M480 457.5h1M464 458.5h1M447 463.5h1M467 464.5h1M450 465.5h1M458 465.5h1M472 466.5h1M456 468.5h1M464 468.5h1M473 468.5h1M475 468.5h1M465 469.5h1M460 470.5h1M477 470.5h1M493 470.5h1M466 471.5h1M447 472.5h1M464 473.5h3M476 473.5h1M476 474.5h1M482 474.5h1M465 475.5h1M476 476.5h1M476 477.5h1M472 478.5h1M481 478.5h1M470 479.5h1M479 479.5h1M447 480.5h1M456 480.5h1M460 480.5h2M468 480.5h1M478 480.5h1M456 481.5h1M483 482.5h1M479 483.5h1M471 484.5h1M482 484.5h1M471 485.5h2M483 488.5h1M474 489.5h1M482 490.5h1M493 491.5h1M476 493.5h1M485 494.5h1M492 498.5h1M483 499.5h1M457 500.5h1M473 500.5h6M465 501.5h1M469 504.5h1M473 504.5h1M485 505.5h1M489 506.5h1" stroke="#00e3ff"/>
<path d="M451 414.5h1M451 416.5h1M451 417.5h1M451 418.5h4M451 419.5h1M450 421.5h1M458 421.5h1M467 422.5h1M451 424.5h1M474 425.5h1M478 425.5h1M472 426.5h1M449 429.5h1M458 429.5h1M450 430.5h1M462 432.5h1M451 433.5h1M460 433.5h1M450 434.5h1M458 436.5h1M484 438.5h1M480 439.5h1M451 440.5h1M449 441.5h1M460 441.5h1M447 443.5h1M449 443.5h1M459 443.5h1M477 443.5h4M458 444.5h1M452 445.5h1M461 445.5h1M467 447.5h1M458 448.5h1M473 448.5h3M467 451.5h1M469 452.5h1M457 454.5h1M459 459.5h1M468 459.5h1M463 461.5h1M455 462.5h1M461 462.5h1M470 462.5h1M444 463.5h1M456 463.5h1M465 463.5h1M451 465.5h3M455 465.5h3M469 465.5h1M457 468.5h3M473 469.5h1M450 470.5h1M492 470.5h1M475 471.5h1M479 471.5h1M448 472.5h1M453 472.5h1M466 472.5h1M490 472.5h1M467 473.5h1M479 474.5h1M473 475.5h1M461 476.5h1M463 476.5h1M469 476.5h1M467 477.5h1M480 478.5h1M457 481.5h2M462 481.5h2M473 481.5h1M475 482.5h1M473 485.5h1M476 486.5h1M473 487.5h1M479 487.5h1M480 489.5h1M465 491.5h1M485 491.5h1M480 493.5h1M475 495.5h1M445 498.5h1M487 498.5h1M487 502.5h1M493 502.5h1M481 504.5h1M483 506.5h1M490 507.5h1M485 508.5h1M487 508.5h1" stroke="#11ffee"/>
<path d="M449 413.5h1M462 421.5h1M475 425.5h3M450 426.5h1M453 428.5h1M487 428.5h1M458 430.5h1M458 431.5h1M450 432.5h1M459 432.5h1M465 432.5h1M450 436.5h1M449 438.5h1M483 438.5h1M449 442.5h1M457 442.5h1M467 448.5h1M458 452.5h2M466 453.5h1M457 456.5h1M466 456.5h1M455 457.5h1M486 457.5h1M456 458.5h1M448 461.5h1M442 463.5h2M457 463.5h1M458 464.5h1M454 465.5h1M460 465.5h1M464 466.5h1M468 467.5h1M452 472.5h1M474 472.5h1M467 474.5h1M480 474.5h2M462 476.5h1M491 478.5h1M459 481.5h3M480 484.5h2M480 485.5h1M471 490.5h1M485 492.5h1M484 493.5h1M489 493.5h1M492 494.5h1M480 497.5h1M483 497.5h2M493 499.5h1M479 503.5h1M489 504.5h1M471 507.5h1M486 508.5h1M488 508.5h1M493 508.5h1" stroke="#3dffc2"/>
<path d="M450 414.5h1M450 415.5h1M450 416.5h1M450 417.5h1M449 418.5h1M450 419.5h1M450 420.5h1M450 422.5h1M450 423.5h1M450 424.5h1M450 425.5h1M445 428.5h1M449 431.5h1M458 434.5h1M450 435.5h1M464 435.5h1M487 436.5h1M450 437.5h1M460 440.5h1M443 444.5h1M458 447.5h1M459 449.5h1M445 454.5h1M449 454.5h1M466 454.5h1M466 455.5h1M464 457.5h1M459 460.5h1M466 460.5h1M455 461.5h1M462 467.5h1M443 470.5h1M468 470.5h1M476 471.5h1M449 472.5h1M451 472.5h1M475 477.5h1M478 479.5h1M448 480.5h1M469 480.5h1M483 481.5h1M481 482.5h1M475 484.5h1M470 486.5h1M463 488.5h1M470 488.5h1M462 491.5h1M493 494.5h1M482 495.5h1M487 496.5h1M491 497.5h1M485 501.5h1M488 502.5h1M492 502.5h1M485 503.5h1M480 505.5h1M486 507.5h1" stroke="#69ff96"/>
<path d="M449 421.5h1M477 426.5h1M450 429.5h1M463 432.5h2M459 433.5h1M492 436.5h1M457 438.5h1M452 439.5h1M459 439.5h1M444 443.5h1M458 443.5h1M450 444.5h1M458 446.5h1M466 446.5h1M466 447.5h1M460 450.5h1M467 450.5h1M459 451.5h1M468 452.5h1M463 458.5h1M451 461.5h1M459 462.5h1M469 462.5h1M466 464.5h1M471 466.5h1M465 468.5h1M472 468.5h1M466 469.5h1M476 470.5h1M491 470.5h1M467 471.5h1M477 471.5h2M450 472.5h1M475 473.5h1M466 475.5h1M472 475.5h1M468 477.5h1M471 479.5h1M455 480.5h1M477 480.5h1M487 482.5h1M473 483.5h1M456 485.5h1M459 485.5h1M478 490.5h1M486 491.5h1M492 491.5h1M481 497.5h2M491 498.5h1M491 499.5h2M458 500.5h1M484 500.5h1M490 501.5h1M489 502.5h3M486 503.5h1M484 505.5h1" stroke="#96ff69"/>
<path d="M448 413.5h1M449 420.5h1M459 421.5h3M463 422.5h1M449 426.5h1M473 426.5h1M453 427.5h1M457 429.5h1M451 430.5h1M452 433.5h1M457 435.5h1M457 436.5h1M461 437.5h1M487 439.5h1M452 440.5h1M445 443.5h2M450 443.5h1M442 444.5h1M460 445.5h1M459 448.5h1M456 453.5h1M458 454.5h1M459 455.5h1M465 456.5h1M460 459.5h1M467 459.5h1M449 461.5h1M462 461.5h1M462 462.5h1M458 463.5h1M464 463.5h1M468 465.5h1M472 469.5h1M474 471.5h1M467 472.5h1M468 473.5h1M475 474.5h1M475 476.5h1M473 478.5h1M474 481.5h1M478 483.5h1M457 485.5h2M479 485.5h1M475 486.5h1M478 487.5h1M482 488.5h1M477 493.5h1M486 494.5h1M476 495.5h1M484 496.5h3M453 498.5h1M484 499.5h1M479 500.5h1M481 501.5h1M482 504.5h1M489 507.5h1M493 507.5h1M489 508.5h1M492 508.5h1" stroke="#c2ff3d"/>
<path d="M449 414.5h1M449 415.5h1M449 416.5h1M448 418.5h1M449 419.5h1M449 422.5h1M466 422.5h1M449 423.5h1M449 424.5h1M449 425.5h1M474 426.5h3M449 427.5h1M452 428.5h1M488 428.5h1M493 428.5h1M457 430.5h1M457 431.5h1M451 432.5h1M451 434.5h1M450 438.5h1M481 439.5h1M450 441.5h1M450 442.5h1M457 444.5h1M453 445.5h1M466 448.5h1M467 449.5h1M466 451.5h1M460 452.5h1M457 453.5h2M465 453.5h1M458 456.5h1M456 457.5h1M457 458.5h1M450 461.5h1M459 464.5h1M461 465.5h1M467 467.5h1M481 468.5h1M473 472.5h1M491 472.5h2M470 476.5h1M479 478.5h1M449 480.5h1M476 482.5h1M472 484.5h1M479 484.5h1M477 485.5h2M474 487.5h1M475 489.5h1M472 490.5h1M477 490.5h1M464 491.5h1M486 492.5h1M478 493.5h2M485 493.5h1M488 493.5h1M481 496.5h1M490 499.5h1M484 501.5h1M480 503.5h1M470 504.5h1M472 504.5h1M488 504.5h1M488 506.5h1M478 507.5h1M487 507.5h2M490 508.5h2" stroke="#eeff11"/>
<path d="M449 417.5h1M448 421.5h1M464 422.5h2M442 427.5h1M450 427.5h1M446 428.5h1M489 428.5h1M492 428.5h1M450 431.5h1M458 432.5h1M451 436.5h1M488 436.5h1M451 437.5h1M459 440.5h1M457 441.5h1M459 441.5h1M456 442.5h1M459 447.5h1M465 454.5h1M465 455.5h1M463 457.5h1M481 457.5h1M460 460.5h1M465 460.5h1M456 461.5h1M448 463.5h1M465 466.5h1M461 470.5h1M489 473.5h2M474 474.5h1M467 475.5h1M469 477.5h1M474 477.5h1M477 479.5h1M450 480.5h2M453 480.5h2M470 480.5h1M484 482.5h1M444 483.5h1M446 483.5h1M473 484.5h2M476 484.5h1M471 486.5h1M460 488.5h1M462 488.5h1M478 488.5h1M479 489.5h1M481 490.5h1M463 491.5h1M488 498.5h3M466 500.5h1M484 503.5h1M471 504.5h1M481 505.5h3M484 506.5h1" stroke="#ffe300"/>
<path d="M447 413.5h1M447 418.5h1M448 420.5h1M448 426.5h1M490 428.5h2M452 432.5h1M457 434.5h1M451 435.5h1M468 435.5h1M489 436.5h3M458 437.5h1M458 439.5h1M486 439.5h1M456 441.5h1M458 441.5h1M457 443.5h1M459 446.5h1M465 446.5h1M465 447.5h1M460 449.5h1M460 451.5h1M451 455.5h1M453 455.5h1M456 462.5h1M468 462.5h1M455 463.5h1M463 463.5h1M465 464.5h1M470 466.5h1M463 467.5h1M476 468.5h1M467 469.5h1M467 470.5h1M469 470.5h1M475 470.5h1M479 470.5h1M490 470.5h1M468 474.5h1M473 474.5h1M471 475.5h1M482 478.5h1M472 479.5h1M452 480.5h1M476 480.5h1M475 481.5h1M482 481.5h1M485 482.5h2M445 483.5h1M474 483.5h1M477 484.5h2M474 485.5h1M461 488.5h1M479 490.5h2M487 491.5h1M491 491.5h1M486 493.5h2M491 494.5h1M481 495.5h1M482 496.5h2M485 497.5h1M490 497.5h1M446 498.5h1M482 501.5h2M472 507.5h1" stroke="#ffb700"/>
<path d="M448 415.5h1M448 416.5h1M448 419.5h1M448 422.5h1M448 423.5h1M448 424.5h1M448 425.5h1M451 427.5h2M451 429.5h1M456 429.5h1M452 430.5h1M453 433.5h1M458 433.5h1M465 435.5h1M460 437.5h1M456 438.5h1M453 439.5h1M482 439.5h4M453 440.5h1M451 443.5h1M491 443.5h1M451 444.5h1M461 450.5h1M466 450.5h1M467 452.5h1M446 454.5h3M452 455.5h1M460 455.5h1M485 457.5h1M462 458.5h1M461 459.5h1M466 459.5h1M461 461.5h1M458 462.5h1M463 462.5h1M459 463.5h1M467 465.5h1M466 467.5h1M466 468.5h1M471 468.5h1M471 469.5h1M468 471.5h1M474 473.5h1M468 475.5h1M474 476.5h1M473 477.5h1M480 481.5h2M477 482.5h2M477 483.5h1M475 485.5h2M474 486.5h1M475 487.5h1M477 487.5h1M481 488.5h1M483 500.5h1M486 501.5h1M481 503.5h3M483 504.5h1" stroke="#ff8b00"/>
<path d="M448 414.5h1M448 417.5h1M447 421.5h1M451 428.5h1M456 431.5h1M452 434.5h1M456 435.5h1M466 435.5h2M456 436.5h1M457 437.5h1M459 437.5h1M458 440.5h1M451 441.5h1M451 442.5h1M455 442.5h1M454 445.5h1M459 445.5h1M460 448.5h1M465 451.5h1M461 452.5h1M459 453.5h1M464 453.5h1M459 454.5h1M459 456.5h1M464 456.5h1M457 457.5h1M458 458.5h1M457 461.5h1M457 462.5h1M460 463.5h1M462 463.5h1M460 464.5h1M462 465.5h1M466 466.5h1M464 467.5h2M449 470.5h1M473 471.5h1M468 472.5h1M469 473.5h1M472 474.5h1M469 475.5h2M471 476.5h1M470 477.5h3M474 478.5h1M473 479.5h1M476 479.5h1M471 480.5h1M479 481.5h1M480 482.5h1M475 483.5h2M472 486.5h2M476 487.5h1M471 488.5h1M479 488.5h2M473 490.5h1M476 490.5h1M488 491.5h3M487 492.5h1M487 494.5h1M477 495.5h1M485 499.5h1M480 500.5h1M489 501.5h1M487 503.5h1M487 504.5h1M487 506.5h1M477 507.5h1" stroke="#ff5e00"/>
<path d="M446 413.5h1M447 415.5h1M446 418.5h1M447 420.5h1M447 422.5h1M447 423.5h1M447 425.5h1M447 426.5h1M443 427.5h1M448 427.5h1M447 428.5h1M460 429.5h1M456 430.5h1M451 431.5h1M452 437.5h1M451 438.5h1M456 444.5h1M460 446.5h1M464 446.5h1M460 447.5h1M464 447.5h1M465 448.5h1M461 449.5h1M464 454.5h1M464 455.5h1M462 457.5h1M482 457.5h3M461 460.5h1M464 460.5h1M460 461.5h1M467 462.5h1M449 463.5h1M461 463.5h1M469 466.5h1M468 469.5h3M444 470.5h1M470 470.5h1M482 470.5h2M472 472.5h1M472 476.5h2M478 478.5h1M474 479.5h2M475 480.5h1M476 481.5h1M478 481.5h1M479 482.5h1M477 488.5h1M480 495.5h1M452 498.5h1M489 499.5h1M459 500.5h1M484 504.5h3M485 506.5h2M476 507.5h1" stroke="#ff3200"/>
<path d="M447 414.5h1M447 416.5h1M447 417.5h1M445 418.5h1M447 419.5h1M446 421.5h1M447 424.5h1M442 426.5h1M446 426.5h1M450 428.5h1M452 429.5h1M455 429.5h1M459 429.5h1M453 430.5h1M453 432.5h1M457 432.5h1M454 433.5h1M457 433.5h1M456 434.5h1M452 435.5h1M452 436.5h1M454 439.5h1M457 439.5h1M454 440.5h1M457 440.5h1M455 441.5h1M452 442.5h1M454 442.5h1M452 443.5h1M456 443.5h1M492 443.5h2M465 450.5h1M461 451.5h1M466 452.5h1M461 455.5h1M463 455.5h1M463 456.5h1M461 458.5h1M462 459.5h1M465 459.5h1M462 460.5h2M458 461.5h2M464 462.5h1M466 462.5h1M464 464.5h1M466 465.5h1M467 466.5h2M477 468.5h1M480 468.5h1M462 470.5h1M466 470.5h1M474 470.5h1M473 473.5h1M469 474.5h1M490 478.5h1M472 480.5h1M477 481.5h1M476 489.5h1M478 489.5h1M474 490.5h2M488 492.5h1M490 494.5h1M478 495.5h2M486 497.5h1M447 498.5h1M481 500.5h2M487 501.5h2M493 503.5h1M473 507.5h3" stroke="#ff0600"/>
<path d="M445 413.5h1M442 415.5h1M446 415.5h1M442 418.5h3M442 420.5h5M442 421.5h4M442 422.5h1M446 422.5h1M442 423.5h1M446 423.5h1M442 425.5h1M446 425.5h1M443 426.5h3M448 428.5h2M453 429.5h2M454 430.5h2M452 431.5h1M454 431.5h2M455 433.5h2M453 434.5h1M455 434.5h1M455 435.5h1M453 437.5h1M456 437.5h1M455 438.5h1M455 439.5h2M455 440.5h2M452 441.5h1M454 441.5h1M453 442.5h1M455 443.5h1M452 444.5h1M455 445.5h1M458 445.5h1M461 446.5h3M461 447.5h3M461 448.5h1M462 449.5h1M462 450.5h1M464 451.5h1M460 453.5h1M463 453.5h1M460 454.5h1M462 455.5h1M460 456.5h3M458 457.5h1M459 458.5h2M463 459.5h2M465 462.5h1M450 463.5h1M454 463.5h1M461 464.5h3M463 465.5h1M465 465.5h1M467 468.5h1M470 468.5h1M478 468.5h2M463 470.5h3M471 470.5h1M473 470.5h1M489 470.5h1M469 471.5h1M472 471.5h1M469 472.5h1M471 472.5h1M470 473.5h1M470 474.5h2M473 480.5h2M472 488.5h1M477 489.5h1M489 492.5h1M493 492.5h1M488 494.5h2M489 497.5h1M451 498.5h1M486 499.5h1M488 499.5h1M465 500.5h1" stroke="#d80000"/>
<path d="M442 413.5h3M442 414.5h1M446 414.5h1M443 415.5h3M442 416.5h5M442 417.5h1M446 417.5h1M442 419.5h5M443 422.5h3M443 423.5h3M442 424.5h2M445 424.5h2M443 425.5h3M444 427.5h1M447 427.5h1M453 431.5h1M454 432.5h1M456 432.5h1M454 434.5h1M453 435.5h2M453 436.5h1M455 436.5h1M454 437.5h2M452 438.5h1M453 441.5h1M453 443.5h2M455 444.5h1M456 445.5h2M462 448.5h3M463 450.5h2M462 451.5h2M462 452.5h1M461 453.5h2M461 454.5h3M459 457.5h3M451 463.5h1M464 465.5h1M468 468.5h2M472 470.5h1M484 470.5h1M470 471.5h2M470 472.5h1M471 473.5h2M475 478.5h3M473 488.5h4M490 492.5h3M487 497.5h2M448 498.5h3M487 499.5h1M488 503.5h1" stroke="#ac0000"/>
<path d="M443 414.5h3M443 417.5h3M444 424.5h1M445 427.5h2M455 432.5h1M454 436.5h1M453 438.5h2M453 444.5h2M463 449.5h4M463 452.5h3M452 463.5h2M445 470.5h4M480 470.5h2M485 470.5h4M483 478.5h7M460 500.5h5M489 503.5h4" stroke="#800000"/>
</g>
<rect x="441.8" y="412.8" width="52" height="96" fill="none" stroke="#555" stroke-width=".6"/>
<g shape-rendering="crispEdges" fill="none" stroke-width="1">
<rect x="536" y="413" width="52" height="96" fill="#0000d8" stroke="none"/>
<path d="M536 468.5h15M556 468.5h5M578 468.5h10M536 493.5h19M567 493.5h8M544 496.5h30M561 497.5h1M536 508.5h11M556 508.5h19" stroke="#0000ac"/>
<path d="M546 413.5h1M575 413.5h4M586 413.5h2M561 414.5h1M568 414.5h1M555 415.5h4M570 415.5h4M575 416.5h13M547 418.5h2M558 418.5h7M578 418.5h10M551 420.5h2M565 420.5h1M572 420.5h3M546 421.5h7M569 421.5h19M547 423.5h9M559 423.5h29M548 424.5h1M577 424.5h1M582 424.5h4M536 425.5h1M574 425.5h2M584 425.5h2M554 426.5h3M564 426.5h6M572 426.5h1M585 426.5h2M552 427.5h6M561 427.5h27M554 428.5h4M563 428.5h2M577 428.5h2M551 429.5h1M537 430.5h1M574 430.5h2M581 430.5h1M561 431.5h9M553 432.5h2M563 432.5h2M537 433.5h1M556 433.5h2M576 433.5h1M536 434.5h2M552 434.5h36M538 435.5h1M552 435.5h1M555 435.5h4M574 435.5h2M556 437.5h1M556 438.5h1M569 438.5h1M541 439.5h1M559 439.5h1M578 439.5h2M536 440.5h7M557 440.5h4M573 440.5h15M561 441.5h3M581 441.5h1M536 442.5h7M559 442.5h29M542 443.5h1M562 443.5h1M566 443.5h1M582 443.5h1M536 444.5h8M557 444.5h14M579 444.5h9M562 445.5h2M572 445.5h1M577 445.5h2M536 446.5h1M544 446.5h1M563 446.5h1M573 446.5h2M586 446.5h1M565 447.5h1M549 448.5h1M565 448.5h1M539 449.5h1M549 449.5h1M573 449.5h1M577 449.5h1M581 449.5h1M566 450.5h1M572 450.5h4M536 451.5h13M563 451.5h4M578 451.5h5M536 452.5h14M563 452.5h25M541 453.5h2M563 453.5h3M577 453.5h3M536 454.5h6M564 454.5h24M564 455.5h1M541 456.5h2M536 457.5h11M556 457.5h1M577 457.5h11M575 458.5h2M546 459.5h2M549 459.5h1M556 459.5h1M582 459.5h1M572 460.5h2M582 460.5h3M547 461.5h2M570 461.5h2M573 461.5h10M553 462.5h2M547 463.5h1M555 463.5h1M569 463.5h1M538 464.5h1M572 464.5h1M556 465.5h2M575 465.5h1M544 466.5h1M578 466.5h1M555 467.5h2M576 467.5h1M552 468.5h3M576 468.5h1M536 469.5h26M578 469.5h6M545 470.5h2M555 470.5h3M559 470.5h2M584 470.5h2M557 471.5h1M580 471.5h1M581 472.5h1M580 473.5h1M587 473.5h1M541 474.5h1M559 474.5h1M556 475.5h1M562 475.5h1M580 475.5h1M536 476.5h30M580 476.5h8M546 477.5h1M565 477.5h1M544 478.5h1M554 478.5h1M566 478.5h1M580 478.5h2M538 479.5h1M564 479.5h1M539 480.5h2M544 480.5h2M559 480.5h1M536 481.5h2M543 481.5h24M582 481.5h6M536 482.5h15M560 482.5h6M545 483.5h2M560 483.5h2M566 483.5h1M580 483.5h1M536 484.5h2M549 484.5h4M565 484.5h2M567 485.5h2M541 486.5h5M563 486.5h2M570 486.5h6M541 487.5h1M545 487.5h1M564 487.5h1M563 489.5h5M536 490.5h40M552 491.5h2M559 491.5h3M573 491.5h1M575 491.5h1M556 493.5h1M559 493.5h3M566 493.5h1M575 493.5h1M536 494.5h3M547 494.5h12M568 494.5h8M561 495.5h1M566 495.5h1M575 496.5h1M539 497.5h10M559 497.5h1M564 497.5h1M572 497.5h3M536 498.5h2M541 498.5h35M536 499.5h4M551 499.5h6M566 499.5h7M536 500.5h41M536 501.5h1M553 501.5h17M538 502.5h2M547 502.5h1M552 503.5h9M565 504.5h1M546 505.5h3M558 505.5h3M563 505.5h2M536 506.5h5M556 506.5h4M564 506.5h12M544 507.5h2M554 507.5h4M549 508.5h6" stroke="#0006ff"/>
<path d="M579 413.5h7M562 414.5h1M567 414.5h1M559 415.5h11M546 416.5h4M573 416.5h2M546 418.5h1M549 418.5h9M565 418.5h1M577 418.5h1M546 419.5h1M550 420.5h1M566 420.5h6M575 420.5h1M553 421.5h2M568 421.5h1M546 422.5h1M546 423.5h1M556 423.5h3M578 424.5h2M581 424.5h1M550 425.5h1M576 425.5h8M551 426.5h1M557 426.5h7M573 426.5h2M583 426.5h2M558 427.5h3M551 428.5h3M565 428.5h2M576 428.5h1M537 429.5h1M551 430.5h1M576 430.5h1M579 430.5h2M551 431.5h1M555 432.5h8M576 432.5h1M555 433.5h1M577 433.5h1M587 433.5h1M559 435.5h2M573 435.5h1M542 437.5h1M542 438.5h1M570 438.5h1M579 438.5h7M542 439.5h1M560 439.5h1M569 439.5h2M577 439.5h1M556 440.5h1M561 440.5h2M572 440.5h1M556 441.5h5M584 441.5h1M556 442.5h3M567 443.5h1M581 443.5h1M571 444.5h1M578 444.5h1M566 445.5h1M570 445.5h1M576 445.5h1M579 445.5h1M587 445.5h1M549 446.5h1M575 446.5h1M585 446.5h1M549 447.5h1M563 447.5h2M564 448.5h1M540 449.5h1M548 449.5h1M549 450.5h1M576 450.5h1M549 451.5h1M567 451.5h2M577 451.5h1M543 453.5h4M566 453.5h2M575 453.5h2M542 454.5h1M547 454.5h1M563 454.5h1M549 455.5h1M543 456.5h1M555 457.5h1M570 457.5h1M574 458.5h1M548 459.5h1M570 459.5h2M580 459.5h2M570 460.5h2M585 460.5h3M549 461.5h8M572 461.5h1M555 462.5h2M570 462.5h1M536 463.5h8M549 464.5h1M557 464.5h1M558 465.5h1M545 466.5h1M555 466.5h1M561 466.5h1M557 467.5h1M575 467.5h1M562 468.5h1M576 469.5h2M584 469.5h1M547 470.5h8M561 470.5h1M575 470.5h1M583 470.5h1M558 471.5h1M579 471.5h1M562 472.5h1M580 472.5h1M542 473.5h1M562 473.5h1M581 473.5h6M542 474.5h1M558 474.5h1M538 475.5h1M555 475.5h1M563 475.5h1M581 475.5h1M566 476.5h1M552 477.5h1M566 477.5h1M545 478.5h1M553 478.5h1M546 479.5h1M556 479.5h2M563 479.5h1M566 479.5h1M580 479.5h8M541 480.5h3M560 480.5h1M538 481.5h5M580 481.5h2M551 482.5h2M558 482.5h2M559 483.5h1M538 484.5h11M581 484.5h1M569 485.5h2M587 485.5h1M540 486.5h1M546 486.5h1M561 486.5h2M565 486.5h1M542 487.5h3M565 487.5h1M559 488.5h1M573 488.5h2M568 489.5h3M554 491.5h5M570 491.5h1M550 492.5h1M557 493.5h2M539 494.5h1M546 494.5h1M559 494.5h1M567 494.5h1M576 494.5h1M556 495.5h1M567 495.5h1M575 495.5h1M536 496.5h1M536 497.5h3M551 497.5h1M565 497.5h7M575 497.5h1M538 498.5h3M540 499.5h1M550 499.5h1M557 499.5h1M565 499.5h1M537 501.5h2M551 501.5h2M570 501.5h6M540 502.5h2M545 502.5h2M576 502.5h1M573 504.5h3M549 505.5h9M565 505.5h1M541 506.5h2M555 506.5h1M536 507.5h8M576 508.5h1" stroke="#0032ff"/>
<path d="M546 414.5h1M563 414.5h4M546 415.5h1M550 416.5h2M567 416.5h6M545 417.5h1M566 418.5h1M575 418.5h2M548 420.5h2M576 420.5h1M587 420.5h1M555 421.5h1M567 421.5h1M580 424.5h1M575 426.5h8M551 427.5h1M537 428.5h1M567 428.5h9M577 430.5h2M538 431.5h1M536 432.5h1M551 432.5h1M584 432.5h1M554 433.5h1M578 433.5h1M586 433.5h1M538 434.5h1M551 434.5h1M561 435.5h2M572 435.5h1M542 436.5h1M555 436.5h1M536 438.5h6M571 438.5h8M586 438.5h2M555 439.5h1M561 439.5h1M568 439.5h1M571 439.5h6M563 440.5h1M571 440.5h1M543 441.5h1M561 443.5h1M568 443.5h1M579 443.5h2M572 444.5h6M548 445.5h1M561 445.5h1M567 445.5h3M573 445.5h1M575 445.5h1M580 445.5h7M537 446.5h2M542 446.5h2M576 446.5h1M584 446.5h1M563 448.5h1M541 449.5h2M546 449.5h2M578 449.5h3M562 450.5h4M577 450.5h2M569 451.5h8M547 453.5h3M568 453.5h7M543 454.5h4M548 454.5h1M544 456.5h2M553 456.5h3M568 456.5h1M547 457.5h1M554 457.5h1M571 457.5h1M576 457.5h1M556 458.5h1M569 458.5h5M572 459.5h8M556 460.5h1M569 460.5h1M578 462.5h1M544 463.5h1M546 463.5h1M547 464.5h2M571 464.5h1M546 466.5h1M554 466.5h1M558 467.5h3M575 469.5h1M576 470.5h7M559 471.5h1M577 471.5h2M576 472.5h4M575 473.5h1M543 474.5h1M557 474.5h1M566 474.5h1M579 474.5h1M539 475.5h1M554 475.5h1M564 475.5h1M582 475.5h2M547 477.5h1M551 477.5h1M579 477.5h1M546 478.5h2M552 478.5h1M539 479.5h1M545 479.5h1M547 479.5h9M579 479.5h1M561 480.5h1M553 482.5h5M566 482.5h1M579 482.5h3M547 483.5h1M558 483.5h1M567 484.5h1M571 485.5h1M560 486.5h1M569 486.5h1M576 486.5h1M566 487.5h1M575 487.5h2M572 488.5h1M575 488.5h1M571 489.5h2M575 489.5h2M549 492.5h1M576 492.5h1M560 494.5h1M560 495.5h1M568 495.5h1M574 495.5h1M541 499.5h1M558 499.5h1M564 499.5h1M573 499.5h1M539 501.5h12M576 501.5h1M542 502.5h3M576 503.5h1M566 504.5h1M576 504.5h1M566 505.5h1M543 506.5h4M554 506.5h1M576 506.5h1" stroke="#005eff"/>
<path d="M545 413.5h1M552 416.5h2M561 416.5h6M567 418.5h8M546 420.5h2M577 420.5h1M586 420.5h1M545 421.5h1M556 421.5h2M564 421.5h3M537 425.5h1M538 426.5h1M536 427.5h1M550 428.5h1M550 429.5h1M538 430.5h1M537 432.5h1M538 433.5h1M551 433.5h3M579 433.5h7M563 435.5h1M571 435.5h1M567 439.5h1M543 440.5h1M564 440.5h7M582 441.5h2M543 443.5h1M559 443.5h2M569 443.5h10M574 445.5h1M539 446.5h3M562 446.5h1M577 446.5h1M562 447.5h1M543 449.5h3M550 449.5h1M579 450.5h9M583 451.5h1M549 454.5h2M563 455.5h1M546 456.5h7M548 457.5h6M557 457.5h1M572 457.5h1M575 457.5h1M557 459.5h1M569 461.5h1M557 462.5h1M545 463.5h1M539 464.5h2M546 464.5h1M570 464.5h1M559 465.5h1M574 465.5h1M547 466.5h7M561 467.5h2M575 468.5h1M562 469.5h1M585 469.5h3M575 471.5h2M575 472.5h1M536 473.5h2M540 473.5h2M544 474.5h1M556 474.5h1M553 475.5h1M565 475.5h2M579 475.5h1M584 475.5h4M548 477.5h3M548 478.5h4M540 479.5h5M558 479.5h1M562 479.5h1M562 480.5h5M579 480.5h1M582 482.5h6M557 483.5h1M568 484.5h1M572 485.5h2M538 486.5h2M547 486.5h1M550 486.5h2M559 486.5h1M566 486.5h3M567 487.5h1M574 487.5h1M560 488.5h1M571 488.5h1M576 488.5h1M573 489.5h2M571 491.5h2M576 491.5h1M536 492.5h1M548 492.5h1M562 493.5h4M540 494.5h1M545 494.5h1M561 494.5h1M565 494.5h2M557 495.5h1M569 495.5h5M576 495.5h1M558 497.5h1M576 497.5h1M542 499.5h2M548 499.5h2M559 499.5h5M574 499.5h3M567 504.5h2M572 504.5h1M567 505.5h2M575 505.5h1M547 506.5h2M553 506.5h1M560 506.5h4M576 507.5h1" stroke="#008bff"/>
<path d="M554 416.5h3M559 416.5h2M545 420.5h1M578 420.5h1M584 420.5h2M558 421.5h6M547 424.5h1M537 427.5h2M538 432.5h1M539 435.5h1M564 435.5h2M570 435.5h1M555 437.5h1M555 438.5h1M562 439.5h5M543 442.5h1M555 442.5h1M558 443.5h1M556 444.5h1M578 446.5h2M582 446.5h2M550 448.5h1M562 448.5h1M572 449.5h1M562 451.5h1M584 451.5h1M587 451.5h1M550 452.5h1M562 452.5h1M550 453.5h1M573 457.5h2M568 463.5h1M541 464.5h2M560 465.5h2M577 466.5h1M562 470.5h1M560 471.5h1M538 473.5h2M545 474.5h1M554 474.5h2M540 475.5h1M552 475.5h1M567 476.5h1M579 476.5h1M567 478.5h1M559 479.5h3M567 481.5h1M579 481.5h1M548 483.5h1M579 483.5h1M574 485.5h1M536 486.5h2M548 486.5h2M552 486.5h7M568 487.5h6M570 488.5h1M576 490.5h1M537 492.5h1M545 492.5h3M576 493.5h1M541 494.5h4M562 494.5h3M558 495.5h2M576 498.5h1M544 499.5h4M577 500.5h1M569 504.5h3M569 505.5h6M576 505.5h1M549 506.5h4" stroke="#00b7ff"/>
<path d="M557 416.5h2M545 418.5h1M579 420.5h5M545 422.5h1M545 423.5h1M549 425.5h1M538 429.5h1M550 430.5h1M550 433.5h1M551 435.5h1M566 435.5h4M543 437.5h1M543 438.5h1M555 440.5h1M557 443.5h1M544 444.5h1M550 446.5h1M580 446.5h2M550 451.5h1M585 451.5h2M562 453.5h1M569 459.5h1M557 461.5h1M556 463.5h1M543 464.5h3M562 466.5h1M574 470.5h1M561 471.5h1M563 472.5h1M546 474.5h2M551 474.5h3M551 475.5h1M579 478.5h1M549 483.5h1M556 483.5h1M567 483.5h1M586 485.5h1M577 488.5h1M538 492.5h1M542 496.5h1M576 496.5h1" stroke="#00e3ff"/>
<path d="M545 416.5h1M545 419.5h1M550 426.5h1M543 439.5h1M555 441.5h1M555 443.5h2M550 447.5h1M562 449.5h1M562 454.5h1M569 457.5h1M569 462.5h1M558 464.5h1M562 465.5h1M574 467.5h1M563 468.5h1M574 469.5h1M574 471.5h1M548 474.5h3M541 475.5h1M567 475.5h1M567 479.5h1M567 480.5h1M550 483.5h1M555 483.5h1M580 484.5h1M561 488.5h1M569 488.5h1M539 492.5h6M577 502.5h1M577 508.5h1" stroke="#11ffee"/>
<path d="M545 415.5h1M544 417.5h1M539 427.5h1M550 427.5h1M538 428.5h1M550 431.5h1M539 432.5h1M539 434.5h1M554 436.5h1M549 445.5h1M560 445.5h1M563 449.5h1M550 450.5h1M556 456.5h1M557 458.5h1M557 460.5h1M568 460.5h1M579 462.5h1M587 462.5h1M562 471.5h1M563 473.5h1M578 474.5h1M550 475.5h1M567 477.5h1M578 482.5h1M551 483.5h4M568 488.5h1M577 492.5h1M577 494.5h1M537 496.5h1M577 499.5h1M577 504.5h1" stroke="#3dffc2"/>
<path d="M545 414.5h1M539 426.5h1M539 431.5h1M550 432.5h1M550 434.5h1M543 436.5h1M554 439.5h1M544 441.5h1M561 450.5h1M551 454.5h1M550 455.5h1M567 456.5h1M558 457.5h1M568 458.5h1M569 464.5h1M563 467.5h1M563 471.5h1M574 473.5h1M567 474.5h1M542 475.5h1M549 475.5h1M578 477.5h1M578 479.5h1M578 480.5h1M567 482.5h1M569 484.5h1M577 486.5h1M577 487.5h1M562 488.5h1M577 489.5h1M577 501.5h1M577 503.5h1M577 506.5h1M577 507.5h1" stroke="#69ff96"/>
<path d="M544 413.5h1M544 421.5h1M538 425.5h1M549 429.5h1M539 430.5h1M577 432.5h1M539 433.5h1M544 440.5h1M544 443.5h1M561 446.5h1M561 447.5h1M551 449.5h1M562 455.5h1M558 459.5h1M558 462.5h1M573 465.5h1M574 468.5h1M563 469.5h1M543 475.5h2M548 475.5h1M578 475.5h1M567 488.5h1M577 491.5h1M577 495.5h1M577 497.5h1" stroke="#96ff69"/>
<path d="M544 420.5h1M546 424.5h1M583 432.5h1M540 435.5h1M554 437.5h1M554 438.5h1M544 442.5h1M555 444.5h1M551 448.5h1M571 449.5h1M561 451.5h1M561 452.5h1M551 453.5h1M568 461.5h1M567 463.5h1M576 466.5h1M563 470.5h1M574 472.5h1M545 475.5h3M568 476.5h1M568 478.5h1M578 481.5h1M578 483.5h1M575 485.5h1M587 490.5h1M587 493.5h1M587 496.5h1M557 497.5h1M577 498.5h1M578 500.5h1M577 505.5h1" stroke="#c2ff3d"/>
<path d="M536 424.5h1M550 435.5h1M544 437.5h1M544 438.5h1M554 442.5h1M545 444.5h1M561 448.5h1M551 451.5h1M551 452.5h1M561 453.5h1M557 463.5h1M573 470.5h1M564 472.5h1M578 476.5h1M578 478.5h1M568 481.5h1M568 483.5h1M585 485.5h1M563 488.5h1M566 488.5h1M578 488.5h1M577 490.5h1M577 493.5h1M538 496.5h1M541 496.5h1M577 496.5h1M552 497.5h1M587 498.5h1M587 505.5h1" stroke="#eeff11"/>
<path d="M544 416.5h1M544 418.5h1M544 422.5h1M544 423.5h1M548 425.5h1M549 426.5h1M539 429.5h1M549 430.5h1M549 433.5h1M554 440.5h1M554 443.5h1M551 446.5h1M551 447.5h1M561 449.5h1M568 457.5h1M568 459.5h1M558 461.5h1M568 462.5h1M559 464.5h1M563 465.5h1M563 466.5h1M573 467.5h1M564 468.5h1M573 469.5h1M568 475.5h1M568 480.5h1M564 488.5h2M587 491.5h1M587 495.5h1M539 496.5h2M587 497.5h1M578 502.5h1M587 507.5h1" stroke="#ffe300"/>
<path d="M544 419.5h1M549 427.5h1M539 428.5h1M549 431.5h1M540 432.5h1M540 434.5h1M553 436.5h1M544 439.5h1M554 441.5h1M559 445.5h1M564 449.5h1M551 450.5h1M561 454.5h1M557 456.5h1M558 458.5h1M558 460.5h1M580 462.5h1M586 462.5h1M573 471.5h1M564 473.5h1M577 474.5h1M568 477.5h1M568 479.5h1M577 482.5h1M579 484.5h1M587 486.5h1M587 487.5h1M587 489.5h1M578 492.5h1M578 494.5h1M578 499.5h1M587 499.5h1M587 501.5h1M587 503.5h1M578 504.5h1M587 506.5h1M578 508.5h1" stroke="#ffb700"/>
<path d="M544 414.5h1M544 415.5h1M543 417.5h1M540 426.5h1M540 427.5h1M549 428.5h1M540 431.5h1M549 432.5h1M549 434.5h1M544 436.5h1M553 439.5h1M545 441.5h1M550 445.5h1M570 449.5h1M560 450.5h1M552 454.5h1M551 455.5h1M566 456.5h1M559 457.5h1M567 458.5h1M567 460.5h1M568 464.5h1M572 465.5h1M564 467.5h1M573 468.5h1M564 471.5h1M573 473.5h1M568 474.5h1M577 477.5h1M577 479.5h1M577 480.5h1M568 482.5h1M570 484.5h1M578 486.5h1M578 487.5h1M578 489.5h1M587 492.5h1M587 494.5h1M578 501.5h1M578 503.5h1M587 504.5h1M578 506.5h1M578 507.5h1M587 508.5h1" stroke="#ff8b00"/>
<path d="M543 413.5h1M543 420.5h1M543 421.5h1M545 424.5h1M539 425.5h1M548 429.5h1M540 430.5h1M540 433.5h1M541 435.5h1M553 437.5h1M553 438.5h1M545 440.5h1M545 442.5h1M545 443.5h1M554 444.5h1M560 446.5h1M560 447.5h1M552 448.5h1M552 449.5h1M560 451.5h1M560 452.5h1M552 453.5h1M561 455.5h1M559 459.5h1M567 461.5h1M559 462.5h1M566 463.5h1M575 466.5h1M564 469.5h1M564 470.5h1M573 472.5h1M577 475.5h1M569 476.5h1M569 478.5h1M577 481.5h1M577 483.5h1M576 485.5h1M587 488.5h1M586 490.5h1M578 491.5h1M586 493.5h1M578 495.5h1M586 496.5h1M578 497.5h1M578 498.5h1M579 500.5h1M587 502.5h1M578 505.5h1" stroke="#ff5e00"/>
<path d="M543 416.5h1M543 418.5h1M543 419.5h1M543 422.5h1M543 423.5h1M537 424.5h1M547 425.5h1M548 426.5h1M548 428.5h1M540 429.5h1M548 430.5h1M578 432.5h1M582 432.5h1M548 433.5h1M549 435.5h1M545 437.5h1M545 438.5h1M545 439.5h1M553 442.5h1M553 443.5h1M546 444.5h1M552 446.5h1M552 447.5h1M560 448.5h1M560 449.5h1M569 449.5h1M552 451.5h1M552 452.5h1M560 453.5h1M560 454.5h1M552 455.5h2M567 457.5h1M567 459.5h1M559 461.5h1M567 462.5h1M581 462.5h1M585 462.5h1M558 463.5h1M560 464.5h1M564 465.5h1M564 466.5h1M574 466.5h1M572 467.5h1M565 468.5h1M572 469.5h1M572 470.5h1M572 471.5h1M565 472.5h1M569 475.5h1M577 476.5h1M577 478.5h1M569 479.5h1M569 480.5h1M569 481.5h1M569 483.5h1M578 484.5h1M584 485.5h1M586 487.5h1M579 488.5h1M586 489.5h1M578 490.5h1M586 491.5h1M578 493.5h1M586 495.5h1M578 496.5h1M586 497.5h1M586 498.5h1M587 500.5h1M586 501.5h1M579 502.5h1M586 503.5h1M586 505.5h1M586 507.5h1M579 508.5h1" stroke="#ff3200"/>
<path d="M542 413.5h1M536 414.5h1M543 414.5h1M536 415.5h1M543 415.5h1M536 416.5h1M542 417.5h1M536 418.5h1M536 419.5h1M536 420.5h1M542 420.5h1M542 421.5h1M536 422.5h1M536 423.5h1M538 424.5h1M544 424.5h1M540 425.5h1M541 426.5h1M541 427.5h1M548 427.5h1M540 428.5h1M547 428.5h1M547 429.5h1M541 430.5h1M541 431.5h1M548 431.5h1M541 432.5h1M548 432.5h1M541 433.5h1M541 434.5h1M548 434.5h1M542 435.5h1M548 435.5h1M545 436.5h1M552 436.5h1M552 437.5h1M552 438.5h1M552 439.5h1M546 440.5h1M553 440.5h1M546 441.5h1M553 441.5h1M546 442.5h1M552 442.5h1M546 443.5h1M547 444.5h1M553 444.5h1M551 445.5h1M558 445.5h1M559 446.5h1M559 447.5h1M553 448.5h1M559 448.5h1M553 449.5h1M568 449.5h1M552 450.5h1M559 450.5h1M559 451.5h1M553 452.5h1M559 452.5h1M553 453.5h1M559 453.5h1M553 454.5h1M560 455.5h1M558 456.5h1M565 456.5h1M560 457.5h1M559 458.5h1M566 458.5h1M560 459.5h1M559 460.5h1M566 460.5h1M566 461.5h1M560 462.5h1M582 462.5h3M559 463.5h1M565 463.5h1M567 464.5h1M571 465.5h1M571 466.5h3M565 467.5h1M572 468.5h1M565 469.5h1M565 470.5h1M571 470.5h1M565 471.5h1M572 472.5h1M565 473.5h1M572 473.5h1M569 474.5h1M576 474.5h1M576 475.5h1M570 476.5h1M576 476.5h1M569 477.5h1M576 477.5h1M570 478.5h1M576 479.5h1M576 480.5h1M570 481.5h1M576 481.5h1M569 482.5h1M576 482.5h1M570 483.5h1M576 483.5h1M571 484.5h1M577 485.5h1M579 486.5h1M586 486.5h1M579 487.5h1M586 488.5h1M579 489.5h1M579 490.5h1M585 490.5h1M579 491.5h1M579 492.5h1M586 492.5h1M579 493.5h1M585 493.5h1M579 494.5h1M586 494.5h1M579 495.5h1M579 496.5h1M585 496.5h1M579 497.5h1M579 498.5h1M585 498.5h1M579 499.5h1M586 499.5h1M580 500.5h1M579 501.5h1M586 502.5h1M579 503.5h1M579 504.5h1M586 504.5h1M579 505.5h1M579 506.5h1M586 506.5h1M579 507.5h1M586 508.5h1" stroke="#ff0600"/>
<path d="M536 413.5h1M541 413.5h1M537 414.5h1M542 414.5h1M537 415.5h1M542 415.5h1M537 416.5h1M542 416.5h1M536 417.5h1M541 417.5h1M537 418.5h1M542 418.5h1M537 419.5h1M542 419.5h1M537 420.5h1M541 420.5h1M536 421.5h1M541 421.5h1M537 422.5h1M542 422.5h1M537 423.5h1M542 423.5h1M539 424.5h1M543 424.5h1M541 425.5h1M546 425.5h1M542 426.5h1M547 426.5h1M542 427.5h1M547 427.5h1M541 428.5h1M546 428.5h1M541 429.5h1M546 429.5h1M542 430.5h1M547 430.5h1M542 431.5h1M547 431.5h1M542 432.5h1M547 432.5h1M579 432.5h3M542 433.5h1M547 433.5h1M542 434.5h1M547 434.5h1M543 435.5h1M547 435.5h1M546 436.5h1M551 436.5h1M546 437.5h2M551 437.5h1M546 438.5h1M551 438.5h1M546 439.5h1M551 439.5h1M547 440.5h1M552 440.5h1M547 441.5h1M552 441.5h1M547 442.5h1M551 442.5h1M547 443.5h1M552 443.5h1M548 444.5h1M552 444.5h1M552 445.5h1M557 445.5h1M553 446.5h1M558 446.5h1M553 447.5h1M558 447.5h1M554 448.5h1M558 448.5h1M554 449.5h1M559 449.5h1M565 449.5h1M553 450.5h1M558 450.5h1M553 451.5h2M558 451.5h1M554 452.5h1M558 452.5h1M554 453.5h1M558 453.5h1M554 454.5h1M559 454.5h1M554 455.5h1M559 455.5h1M559 456.5h1M564 456.5h1M561 457.5h1M566 457.5h1M560 458.5h1M565 458.5h1M561 459.5h1M566 459.5h1M560 460.5h1M565 460.5h1M560 461.5h1M565 461.5h1M561 462.5h1M566 462.5h1M560 463.5h1M564 463.5h1M561 464.5h1M566 464.5h1M565 465.5h1M570 465.5h1M565 466.5h1M570 466.5h1M566 467.5h1M571 467.5h1M566 468.5h1M571 468.5h1M566 469.5h1M571 469.5h1M566 470.5h1M570 470.5h1M566 471.5h1M571 471.5h1M566 472.5h1M571 472.5h1M566 473.5h1M571 473.5h1M570 474.5h1M575 474.5h1M570 475.5h1M575 475.5h1M571 476.5h1M575 476.5h1M570 477.5h1M575 477.5h1M571 478.5h1M575 478.5h2M570 479.5h1M575 479.5h1M570 480.5h1M575 480.5h1M571 481.5h1M575 481.5h1M570 482.5h1M575 482.5h1M571 483.5h1M575 483.5h1M572 484.5h1M577 484.5h1M578 485.5h1M582 485.5h2M580 486.5h1M585 486.5h1M580 487.5h1M585 487.5h1M580 488.5h1M585 488.5h1M580 489.5h1M585 489.5h1M580 490.5h1M584 490.5h1M580 491.5h1M585 491.5h1M580 492.5h1M585 492.5h1M580 493.5h1M584 493.5h1M580 494.5h1M585 494.5h1M580 495.5h1M585 495.5h1M580 496.5h1M584 496.5h1M553 497.5h1M580 497.5h1M585 497.5h1M580 498.5h1M584 498.5h1M580 499.5h1M585 499.5h1M581 500.5h1M585 500.5h2M580 501.5h1M585 501.5h1M580 502.5h1M585 502.5h1M580 503.5h1M585 503.5h1M580 504.5h1M585 504.5h1M580 505.5h1M585 505.5h1M580 506.5h1M585 506.5h1M580 507.5h1M585 507.5h1M580 508.5h1M585 508.5h1" stroke="#d80000"/>
<path d="M537 413.5h1M540 413.5h1M538 414.5h1M541 414.5h1M538 415.5h1M541 415.5h1M538 416.5h1M541 416.5h1M537 417.5h1M540 417.5h1M538 418.5h1M541 418.5h1M538 419.5h1M541 419.5h1M540 420.5h1M537 421.5h1M540 421.5h1M538 422.5h1M541 422.5h1M538 423.5h1M541 423.5h1M542 424.5h1M542 425.5h1M545 425.5h1M543 426.5h1M546 426.5h1M543 427.5h1M546 427.5h1M542 428.5h1M545 428.5h1M542 429.5h1M545 429.5h1M543 430.5h1M546 430.5h1M543 431.5h1M546 431.5h1M543 432.5h1M546 432.5h1M543 433.5h1M546 433.5h1M543 434.5h1M546 434.5h1M544 435.5h1M547 436.5h1M550 436.5h1M550 437.5h1M547 438.5h1M550 438.5h1M547 439.5h1M550 439.5h1M548 440.5h1M551 440.5h1M548 441.5h1M551 441.5h1M548 443.5h1M551 443.5h1M551 444.5h1M553 445.5h1M556 445.5h1M554 446.5h1M557 446.5h1M554 447.5h1M557 447.5h1M555 449.5h1M558 449.5h1M566 449.5h2M554 450.5h1M557 450.5h1M557 451.5h1M555 453.5h1M555 454.5h1M558 454.5h1M555 455.5h1M558 455.5h1M560 456.5h1M563 456.5h1M562 457.5h1M565 457.5h1M561 458.5h1M564 458.5h1M562 459.5h1M565 459.5h1M561 460.5h1M564 460.5h1M561 461.5h1M564 461.5h1M562 462.5h1M565 462.5h1M563 463.5h1M562 464.5h1M565 464.5h1M566 465.5h1M569 465.5h1M566 466.5h1M569 466.5h1M567 467.5h1M570 467.5h1M567 468.5h1M570 468.5h1M567 469.5h1M570 469.5h1M567 470.5h1M567 471.5h1M570 471.5h1M567 472.5h1M570 472.5h1M567 473.5h1M570 473.5h1M571 474.5h1M574 474.5h1M571 475.5h1M574 475.5h1M571 477.5h1M574 477.5h1M572 478.5h1M571 479.5h1M574 479.5h1M571 480.5h1M574 480.5h1M571 482.5h1M574 482.5h1M574 483.5h1M573 484.5h1M576 484.5h1M579 485.5h1M581 486.5h1M584 486.5h1M581 487.5h1M584 487.5h1M581 488.5h1M584 488.5h1M581 489.5h1M584 489.5h1M581 491.5h1M584 491.5h1M581 492.5h1M584 492.5h1M581 494.5h1M584 494.5h1M581 495.5h1M584 495.5h1M583 496.5h1M556 497.5h1M581 497.5h1M584 497.5h1M581 499.5h1M584 499.5h1M582 500.5h1M581 501.5h1M584 501.5h1M581 502.5h1M584 502.5h1M581 503.5h1M584 503.5h1M581 504.5h1M584 504.5h1M581 505.5h1M584 505.5h1M581 506.5h1M584 506.5h1M581 507.5h1M584 507.5h1M581 508.5h1M584 508.5h1" stroke="#ac0000"/>
<path d="M538 413.5h2M539 414.5h2M539 415.5h2M539 416.5h2M538 417.5h2M539 418.5h2M539 419.5h2M538 420.5h2M538 421.5h2M539 422.5h2M539 423.5h2M540 424.5h2M543 425.5h2M544 426.5h2M544 427.5h2M543 428.5h2M543 429.5h2M544 430.5h2M544 431.5h2M544 432.5h2M544 433.5h2M544 434.5h2M545 435.5h2M548 436.5h2M548 437.5h2M548 438.5h2M548 439.5h2M549 440.5h2M549 441.5h2M548 442.5h3M549 443.5h2M549 444.5h2M554 445.5h2M555 446.5h2M555 447.5h2M555 448.5h3M556 449.5h2M555 450.5h2M555 451.5h2M555 452.5h3M556 453.5h2M556 454.5h2M556 455.5h2M561 456.5h2M563 457.5h2M562 458.5h2M563 459.5h2M562 460.5h2M562 461.5h2M563 462.5h2M561 463.5h2M563 464.5h2M567 465.5h2M567 466.5h2M568 467.5h2M568 468.5h2M568 469.5h2M568 470.5h2M568 471.5h2M568 472.5h2M568 473.5h2M572 474.5h2M572 475.5h2M572 476.5h3M572 477.5h2M573 478.5h2M572 479.5h2M572 480.5h2M572 481.5h3M572 482.5h2M572 483.5h2M574 484.5h2M580 485.5h2M582 486.5h2M582 487.5h2M582 488.5h2M582 489.5h2M581 490.5h3M582 491.5h2M582 492.5h2M581 493.5h3M582 494.5h2M582 495.5h2M581 496.5h2M554 497.5h2M582 497.5h2M581 498.5h3M582 499.5h2M583 500.5h2M582 501.5h2M582 502.5h2M582 503.5h2M582 504.5h2M582 505.5h2M582 506.5h2M582 507.5h2M582 508.5h2" stroke="#800000"/>
</g>
<rect x="535.8" y="412.8" width="52" height="96" fill="none" stroke="#555" stroke-width=".6"/>
<g shape-rendering="crispEdges" fill="none" stroke-width="1">
<rect x="597" y="413" width="52" height="96" fill="#0000d8" stroke="none"/>
<path d="M597 447.5h13M628 447.5h21M597 454.5h12M629 454.5h10M597 457.5h7M633 457.5h16M597 468.5h10M639 468.5h10M606 475.5h5M645 475.5h4M597 484.5h18M597 495.5h41M597 503.5h14M617 503.5h14M640 503.5h4" stroke="#0000ac"/>
<path d="M610 413.5h24M641 413.5h5M609 414.5h2M612 414.5h2M622 414.5h2M634 414.5h1M639 414.5h1M611 415.5h1M639 415.5h1M610 416.5h13M628 416.5h7M639 416.5h10M626 417.5h23M610 418.5h1M611 419.5h1M616 419.5h1M623 419.5h1M632 419.5h1M609 420.5h1M629 420.5h1M635 420.5h4M642 420.5h2M610 421.5h3M616 421.5h1M637 421.5h12M613 422.5h1M620 422.5h29M632 423.5h17M611 424.5h1M613 424.5h2M640 424.5h9M614 425.5h1M617 425.5h1M621 425.5h1M597 426.5h1M618 426.5h24M597 427.5h3M614 427.5h35M604 428.5h1M618 428.5h1M628 428.5h1M615 429.5h2M623 429.5h1M638 429.5h3M648 429.5h1M597 430.5h2M617 430.5h32M601 431.5h1M616 431.5h1M622 431.5h3M639 431.5h2M598 432.5h1M617 433.5h1M619 433.5h1M623 433.5h1M636 433.5h2M616 434.5h9M635 434.5h11M599 435.5h1M618 435.5h1M627 435.5h2M638 435.5h1M597 436.5h8M618 436.5h11M636 436.5h4M643 436.5h6M602 437.5h4M620 437.5h1M605 438.5h1M629 438.5h3M607 439.5h1M606 440.5h1M605 441.5h1M620 441.5h1M623 441.5h3M636 441.5h2M605 442.5h1M629 442.5h1M621 443.5h1M605 444.5h1M620 444.5h2M605 445.5h1M622 445.5h2M633 445.5h2M624 446.5h1M641 446.5h2M612 447.5h1M625 447.5h1M625 448.5h1M631 448.5h1M597 449.5h6M638 449.5h7M597 450.5h13M640 450.5h9M597 451.5h16M628 451.5h21M597 452.5h3M626 452.5h23M597 453.5h16M626 453.5h2M632 453.5h5M611 454.5h1M627 454.5h1M642 454.5h7M611 455.5h1M633 455.5h1M597 456.5h2M608 456.5h5M630 456.5h1M605 457.5h1M615 457.5h1M631 457.5h1M610 458.5h9M632 458.5h6M597 459.5h5M612 459.5h6M632 459.5h17M606 460.5h1M639 460.5h2M597 461.5h4M616 461.5h1M631 461.5h1M598 462.5h1M617 462.5h1M631 462.5h1M636 462.5h1M600 463.5h12M619 463.5h1M635 463.5h1M637 463.5h1M600 464.5h2M611 464.5h1M616 464.5h1M632 464.5h1M639 464.5h4M612 465.5h10M637 465.5h12M597 466.5h7M629 466.5h1M643 466.5h1M597 467.5h2M611 467.5h5M624 467.5h3M640 467.5h9M610 468.5h2M620 468.5h1M624 468.5h1M637 468.5h1M604 469.5h3M628 469.5h2M645 469.5h2M600 470.5h3M608 470.5h3M626 470.5h1M640 470.5h4M608 471.5h8M619 471.5h1M624 471.5h1M637 471.5h1M597 473.5h7M615 473.5h7M633 473.5h16M600 474.5h1M607 474.5h1M637 474.5h1M641 474.5h1M597 475.5h4M614 475.5h1M635 475.5h2M641 475.5h2M606 476.5h1M618 476.5h1M631 476.5h1M625 477.5h1M646 477.5h1M597 478.5h20M645 478.5h4M597 479.5h12M641 479.5h1M597 480.5h39M647 480.5h2M602 481.5h9M619 481.5h1M630 481.5h1M645 481.5h2M605 482.5h1M611 482.5h2M620 482.5h1M626 482.5h1M633 482.5h1M644 482.5h1M607 483.5h28M639 484.5h1M629 485.5h1M648 486.5h1M597 487.5h34M647 487.5h2M597 488.5h6M608 488.5h21M641 488.5h8M611 489.5h18M642 489.5h7M632 490.5h1M597 491.5h4M604 491.5h3M621 491.5h17M627 492.5h3M634 492.5h2M638 492.5h1M597 493.5h3M609 493.5h18M606 494.5h5M646 494.5h1M639 495.5h1M598 496.5h2M619 496.5h1M636 496.5h1M598 497.5h2M603 497.5h2M609 497.5h1M622 497.5h1M627 497.5h1M613 498.5h3M625 498.5h2M640 498.5h2M613 499.5h2M619 499.5h2M635 499.5h2M644 499.5h1M643 500.5h3M597 501.5h32M638 501.5h7M606 502.5h7M627 502.5h1M633 502.5h1M638 503.5h1M646 503.5h1M602 504.5h2M609 504.5h2M612 504.5h9M635 504.5h1M647 504.5h1M597 505.5h3M607 505.5h7M617 505.5h20M648 505.5h1M599 506.5h1M613 506.5h1M617 506.5h2M632 506.5h1M636 506.5h1M642 506.5h1M607 507.5h3M625 507.5h3M638 507.5h1M638 508.5h1" stroke="#0006ff"/>
<path d="M634 413.5h1M640 413.5h1M646 413.5h1M608 414.5h1M614 414.5h8M635 414.5h4M610 415.5h1M597 416.5h1M609 416.5h1M627 416.5h1M635 416.5h4M625 417.5h1M609 418.5h1M610 419.5h1M639 419.5h1M630 420.5h5M639 420.5h3M609 421.5h1M617 421.5h2M635 421.5h2M611 422.5h2M614 422.5h6M610 424.5h1M615 424.5h1M635 424.5h1M618 425.5h1M620 425.5h1M598 426.5h2M617 426.5h1M642 426.5h7M600 427.5h1M613 427.5h1M617 428.5h1M624 429.5h2M637 429.5h1M641 429.5h1M647 429.5h1M599 430.5h1M616 430.5h1M615 431.5h1M625 431.5h1M637 431.5h2M599 432.5h1M616 432.5h1M638 432.5h1M638 433.5h1M617 435.5h1M629 435.5h5M637 435.5h1M605 436.5h1M617 436.5h1M640 436.5h3M606 437.5h1M619 437.5h1M606 438.5h1M627 438.5h2M608 439.5h1M607 440.5h1M630 440.5h1M606 441.5h1M619 441.5h1M626 441.5h10M619 442.5h1M620 443.5h1M606 445.5h1M620 445.5h1M624 445.5h1M632 445.5h1M623 446.5h1M643 446.5h6M606 448.5h1M611 448.5h1M624 448.5h1M632 448.5h1M641 448.5h1M613 449.5h1M637 449.5h1M645 449.5h4M610 450.5h1M638 450.5h2M613 451.5h1M600 452.5h1M625 452.5h1M613 453.5h1M628 453.5h4M637 453.5h12M612 454.5h1M626 454.5h1M599 456.5h9M606 457.5h1M614 457.5h1M616 457.5h1M630 457.5h1M609 458.5h1M631 458.5h1M602 459.5h1M611 459.5h1M618 459.5h1M631 459.5h1M607 460.5h1M616 460.5h2M635 460.5h1M641 460.5h1M648 460.5h1M617 461.5h1M632 461.5h1M647 461.5h2M603 462.5h1M618 462.5h1M633 462.5h3M634 463.5h1M643 463.5h1M602 464.5h4M610 464.5h1M617 464.5h1M631 464.5h1M643 464.5h2M597 465.5h1M604 465.5h8M622 465.5h4M642 466.5h1M599 467.5h1M610 467.5h1M623 467.5h1M627 467.5h1M639 467.5h1M612 468.5h1M636 468.5h1M603 469.5h1M630 469.5h2M644 469.5h1M603 470.5h5M627 470.5h1M616 471.5h1M618 471.5h1M625 471.5h1M636 471.5h1M625 472.5h1M604 473.5h1M614 473.5h1M625 474.5h1M636 474.5h1M642 474.5h1M615 475.5h1M634 475.5h1M604 476.5h2M607 476.5h1M615 476.5h1M619 476.5h3M626 477.5h1M617 478.5h3M640 479.5h1M646 480.5h1M620 481.5h1M625 481.5h5M644 481.5h1M647 481.5h2M606 482.5h5M625 482.5h1M634 482.5h1M643 482.5h1M606 483.5h1M635 483.5h1M617 484.5h1M628 485.5h1M637 485.5h1M647 486.5h1M631 487.5h2M644 487.5h3M603 488.5h5M629 488.5h1M640 488.5h1M610 489.5h1M629 489.5h1M633 490.5h1M601 491.5h3M607 491.5h1M620 491.5h1M638 491.5h1M630 492.5h4M639 492.5h1M600 493.5h1M608 493.5h1M627 493.5h1M600 496.5h2M618 496.5h1M600 497.5h3M614 497.5h1M616 498.5h9M642 498.5h1M621 499.5h2M634 499.5h1M645 499.5h1M620 500.5h1M646 500.5h1M645 501.5h1M613 502.5h2M626 502.5h1M634 502.5h2M612 503.5h1M615 503.5h1M633 503.5h2M637 503.5h1M604 504.5h5M600 505.5h1M614 505.5h3M637 505.5h1M600 506.5h1M612 506.5h1M619 506.5h1M631 506.5h1M610 507.5h1M624 507.5h1M647 508.5h1" stroke="#0032ff"/>
<path d="M597 413.5h1M609 413.5h1M647 413.5h2M607 414.5h1M609 415.5h1M640 415.5h1M648 415.5h1M623 416.5h1M626 416.5h1M614 417.5h3M624 417.5h1M597 418.5h1M617 419.5h1M622 419.5h1M608 420.5h1M619 421.5h2M634 421.5h1M609 423.5h1M609 424.5h1M616 424.5h1M601 425.5h1M613 425.5h1M619 425.5h1M600 426.5h3M616 426.5h1M605 428.5h1M629 428.5h1M646 428.5h3M597 429.5h1M614 429.5h1M617 429.5h1M622 429.5h1M626 429.5h3M642 429.5h1M646 429.5h1M615 430.5h1M602 431.5h1M626 431.5h11M600 432.5h1M648 432.5h1M639 433.5h1M615 434.5h1M625 434.5h1M616 435.5h1M634 435.5h3M597 437.5h1M619 438.5h8M608 440.5h1M620 440.5h4M618 441.5h1M602 442.5h1M606 442.5h1M597 443.5h2M619 443.5h1M606 444.5h1M619 444.5h1M607 445.5h1M619 445.5h1M625 445.5h7M622 446.5h1M613 447.5h1M624 447.5h1M607 448.5h4M612 448.5h1M640 448.5h1M612 449.5h1M614 449.5h1M625 450.5h2M635 450.5h3M601 452.5h1M624 452.5h1M625 453.5h1M625 454.5h1M612 455.5h1M627 455.5h1M632 455.5h1M613 456.5h1M607 457.5h7M617 457.5h2M605 458.5h4M619 458.5h1M630 458.5h1M638 458.5h1M645 458.5h4M603 459.5h3M608 459.5h3M630 459.5h1M608 460.5h1M642 460.5h2M647 460.5h1M618 461.5h1M633 461.5h1M646 461.5h1M599 462.5h1M602 462.5h1M630 462.5h1M620 463.5h1M633 463.5h1M638 463.5h1M606 464.5h4M618 464.5h1M645 464.5h4M598 465.5h6M636 465.5h1M630 466.5h1M600 467.5h1M616 467.5h1M622 467.5h1M613 468.5h1M618 468.5h2M625 468.5h1M602 469.5h1M642 469.5h2M617 471.5h1M638 472.5h1M605 473.5h1M622 473.5h1M632 473.5h1M601 474.5h1M606 474.5h1M626 474.5h1M643 474.5h2M616 475.5h1M633 475.5h1M597 476.5h7M632 476.5h1M643 476.5h1M627 477.5h2M634 477.5h1M645 477.5h1M620 478.5h1M644 478.5h1M636 480.5h1M621 481.5h4M632 481.5h1M643 481.5h1M621 482.5h4M605 483.5h1M646 483.5h3M618 484.5h7M638 484.5h1M612 485.5h1M621 485.5h1M627 485.5h1M646 486.5h1M633 487.5h1M630 488.5h1M608 489.5h2M644 490.5h5M608 491.5h2M601 493.5h1M607 493.5h1M628 493.5h1M647 494.5h1M640 495.5h1M602 496.5h8M615 496.5h3M637 496.5h1M648 496.5h1M610 497.5h1M623 497.5h4M597 499.5h3M612 499.5h1M623 499.5h2M631 499.5h3M613 500.5h1M615 502.5h11M636 502.5h8M613 503.5h2M635 503.5h2M647 503.5h1M636 504.5h1M646 504.5h1M606 505.5h1M601 506.5h2M610 506.5h2M620 506.5h3M641 506.5h1M643 506.5h1M611 507.5h2M622 507.5h2M639 507.5h1M639 508.5h1" stroke="#005eff"/>
<path d="M635 413.5h1M639 413.5h1M598 415.5h1M598 416.5h1M624 416.5h2M597 417.5h1M608 417.5h4M613 417.5h1M617 417.5h1M623 417.5h1M608 418.5h1M597 420.5h1M608 421.5h1M615 421.5h1M621 421.5h1M633 421.5h1M597 422.5h1M614 423.5h1M619 423.5h2M631 423.5h1M617 424.5h1M634 424.5h1M600 425.5h1M615 426.5h1M612 427.5h1M616 428.5h1M630 428.5h1M645 428.5h1M618 429.5h1M621 429.5h1M629 429.5h1M643 429.5h3M600 430.5h2M614 430.5h1M614 431.5h1M620 433.5h1M640 433.5h2M647 433.5h2M626 434.5h1M600 435.5h1M606 436.5h1M616 436.5h1M607 437.5h1M618 437.5h1M607 438.5h1M618 438.5h1M609 439.5h1M609 440.5h1M607 441.5h1M599 442.5h1M618 442.5h1M628 442.5h1M599 443.5h9M621 446.5h1M623 448.5h1M633 448.5h2M639 448.5h1M625 449.5h1M636 449.5h1M611 450.5h1M624 450.5h1M627 450.5h8M614 451.5h1M627 451.5h1M602 452.5h2M613 454.5h1M626 455.5h1M628 455.5h4M629 457.5h1M600 458.5h5M606 459.5h2M619 459.5h1M615 460.5h1M618 460.5h1M629 460.5h1M644 460.5h3M634 461.5h1M600 462.5h2M619 462.5h1M639 463.5h1M642 463.5h1M630 464.5h1M641 466.5h1M601 467.5h1M609 467.5h1M617 467.5h1M621 467.5h1M628 467.5h1M638 467.5h1M614 468.5h4M635 468.5h1M597 469.5h5M632 469.5h1M641 469.5h1M628 470.5h1M635 471.5h1M626 472.5h1M613 473.5h1M602 474.5h4M645 474.5h4M617 475.5h1M625 475.5h1M629 477.5h5M621 478.5h1M629 479.5h1M604 483.5h1M636 483.5h1M620 485.5h1M622 485.5h1M626 485.5h1M638 485.5h2M632 486.5h1M638 486.5h1M645 486.5h1M643 487.5h1M631 488.5h1M639 488.5h1M607 489.5h1M634 490.5h1M610 491.5h2M619 491.5h1M640 492.5h1M602 493.5h5M637 493.5h1M648 495.5h1M610 496.5h5M611 497.5h3M600 499.5h2M611 499.5h1M625 499.5h6M629 501.5h1M637 501.5h1M646 501.5h1M644 502.5h1M601 505.5h1M603 506.5h7M623 506.5h2M630 506.5h1M613 507.5h9" stroke="#008bff"/>
<path d="M608 413.5h1M636 413.5h3M597 414.5h1M597 415.5h1M641 415.5h1M647 415.5h1M608 416.5h1M612 417.5h1M618 417.5h5M598 418.5h1M599 419.5h1M609 419.5h1M618 419.5h4M633 419.5h1M622 421.5h1M632 421.5h1M610 422.5h1M608 423.5h1M597 424.5h1M622 424.5h1M633 424.5h1M602 425.5h1M612 425.5h1M603 426.5h1M614 426.5h1M601 427.5h1M606 428.5h1M631 428.5h1M638 428.5h3M644 428.5h1M613 429.5h1M619 429.5h2M602 430.5h1M603 431.5h1M601 432.5h1M621 433.5h2M642 433.5h5M614 434.5h1M627 434.5h5M601 435.5h3M615 435.5h1M635 436.5h1M601 437.5h1M621 439.5h1M619 440.5h1M624 440.5h1M629 440.5h1M600 442.5h2M607 442.5h1M608 443.5h1M607 444.5h1M618 444.5h1M605 446.5h1M620 446.5h1M613 448.5h1M635 448.5h4M626 449.5h2M635 449.5h1M612 450.5h3M625 451.5h2M604 452.5h7M613 452.5h1M614 453.5h1M613 455.5h3M614 456.5h5M629 456.5h1M619 457.5h1M597 458.5h3M620 458.5h1M609 460.5h6M619 461.5h1M629 462.5h1M621 463.5h1M632 463.5h1M640 463.5h2M626 465.5h1M631 466.5h1M602 467.5h1M618 467.5h3M639 470.5h1M626 471.5h1M606 473.5h7M635 474.5h1M633 476.5h1M635 477.5h1M622 478.5h1M633 478.5h1M639 479.5h1M645 480.5h1M635 482.5h1M642 482.5h1M602 483.5h2M625 484.5h1M640 484.5h1M623 485.5h3M640 485.5h1M648 485.5h1M634 487.5h1M606 489.5h1M630 489.5h1M641 489.5h1M643 490.5h1M612 491.5h1M639 491.5h1M629 493.5h1M636 493.5h1M602 499.5h1M646 499.5h1M645 504.5h1M602 505.5h4M638 505.5h1M625 506.5h1M628 506.5h2M644 506.5h1M640 507.5h1" stroke="#00b7ff"/>
<path d="M598 413.5h1M606 414.5h1M608 415.5h1M642 415.5h5M598 417.5h1M597 419.5h2M607 421.5h1M623 421.5h2M629 421.5h3M607 422.5h3M597 423.5h1M613 423.5h1M621 423.5h1M608 424.5h1M621 424.5h1M623 424.5h5M632 424.5h1M613 426.5h1M611 427.5h1M632 428.5h1M637 428.5h1M641 428.5h3M603 429.5h1M603 430.5h1M613 431.5h1M639 432.5h1M616 433.5h1M604 435.5h1M629 436.5h1M608 438.5h1M617 441.5h1M618 443.5h1M608 445.5h1M618 445.5h1M614 447.5h1M623 447.5h1M615 449.5h1M624 449.5h1M628 449.5h7M624 451.5h1M611 452.5h2M623 452.5h1M624 453.5h1M624 454.5h1M616 455.5h1M619 456.5h1M629 458.5h1M644 458.5h1M629 459.5h1M619 460.5h1M635 461.5h1M645 461.5h1M619 464.5h1M629 464.5h1M635 465.5h1M608 467.5h1M626 468.5h1M623 473.5h1M627 474.5h1M618 475.5h1M632 475.5h1M644 477.5h1M634 478.5h1M637 480.5h1M601 483.5h1M645 483.5h1M644 486.5h1M618 491.5h1M630 493.5h1M635 493.5h1M638 493.5h1M641 495.5h1M638 496.5h1M644 496.5h1M643 498.5h1M603 499.5h1M610 499.5h1M647 500.5h1M645 502.5h1M648 503.5h1M637 504.5h1M626 506.5h2M637 506.5h1M646 508.5h1" stroke="#00e3ff"/>
<path d="M599 415.5h1M599 416.5h1M607 417.5h1M607 418.5h1M638 419.5h1M598 420.5h1M597 421.5h1M625 421.5h4M598 422.5h1M598 423.5h1M615 423.5h1M618 423.5h1M618 424.5h1M628 424.5h4M615 428.5h1M633 428.5h4M636 429.5h1M634 434.5h1M615 436.5h1M598 437.5h1M608 437.5h1M617 437.5h1M617 438.5h1M610 439.5h1M610 440.5h1M628 440.5h1M608 441.5h1M617 442.5h1M610 446.5h1M615 450.5h1M615 451.5h1M614 454.5h1M625 455.5h1M628 457.5h1M620 459.5h1M628 460.5h1M630 461.5h1M620 462.5h1M640 466.5h1M603 467.5h5M637 467.5h1M633 469.5h1M633 472.5h1M624 475.5h1M623 478.5h1M643 478.5h1M642 481.5h1M637 483.5h1M637 484.5h1M642 487.5h1M632 488.5h1M605 489.5h1M642 490.5h1M613 491.5h2M616 491.5h2M641 492.5h1M631 493.5h4M648 493.5h1M648 494.5h1M643 496.5h1M647 496.5h1M648 498.5h1M604 499.5h1M647 501.5h1M646 502.5h1M647 505.5h1M645 506.5h1M648 507.5h1M640 508.5h1" stroke="#11ffee"/>
<path d="M607 416.5h1M608 419.5h1M610 423.5h1M598 424.5h1M619 424.5h2M602 427.5h1M613 430.5h1M604 431.5h1M602 432.5h1M615 432.5h1M647 432.5h1M613 434.5h1M607 436.5h1M599 437.5h2M625 440.5h3M608 442.5h1M608 444.5h1M617 444.5h1M619 446.5h1M614 448.5h1M622 448.5h1M623 450.5h1M614 452.5h1M615 453.5h1M620 457.5h1M630 460.5h1M634 460.5h1M620 461.5h1M636 461.5h1M622 463.5h1M627 465.5h1M629 467.5h1M634 468.5h1M640 469.5h1M629 470.5h1M636 470.5h1M638 470.5h1M634 471.5h1M627 472.5h1M631 473.5h1M634 474.5h1M619 475.5h1M626 475.5h1M638 479.5h1M600 483.5h1M635 487.5h1M638 488.5h1M635 490.5h1M615 491.5h1M605 499.5h2M608 499.5h2M644 504.5h1M643 505.5h1M640 506.5h1" stroke="#3dffc2"/>
<path d="M599 413.5h1M607 413.5h1M598 414.5h1M599 418.5h1M600 419.5h1M607 420.5h1M599 423.5h1M607 423.5h1M611 423.5h2M616 423.5h2M630 423.5h1M607 424.5h1M603 425.5h1M611 425.5h1M604 426.5h1M607 428.5h1M598 429.5h1M602 429.5h1M612 429.5h1M630 429.5h1M604 430.5h1M611 432.5h1M604 433.5h1M605 435.5h1M614 435.5h1M618 440.5h1M609 443.5h1M617 443.5h1M609 445.5h1M617 445.5h1M603 449.5h1M611 449.5h1M622 452.5h1M623 453.5h1M623 454.5h1M621 458.5h1M637 461.5h3M644 461.5h1M628 462.5h1M631 463.5h1M620 464.5h1M632 466.5h1M637 470.5h1M627 471.5h1M614 476.5h1M634 476.5h1M636 477.5h1M643 477.5h1M632 478.5h1M644 480.5h1M636 482.5h1M641 482.5h1M597 483.5h3M619 485.5h1M641 485.5h1M647 485.5h1M639 486.5h1M604 489.5h1M631 489.5h1M640 491.5h1M648 492.5h1M639 496.5h1M645 496.5h2M607 499.5h1M647 499.5h1M648 500.5h1M638 506.5h2M646 506.5h1M641 507.5h1" stroke="#69ff96"/>
<path d="M605 414.5h1M607 415.5h1M634 419.5h1M637 419.5h1M606 421.5h1M606 422.5h1M622 423.5h1M612 426.5h1M610 427.5h1M612 431.5h1M605 433.5h1M609 438.5h1M618 439.5h3M616 441.5h1M620 442.5h1M615 447.5h1M622 447.5h1M616 449.5h1M623 449.5h1M617 455.5h1M620 456.5h1M628 458.5h1M628 459.5h1M620 460.5h1M640 461.5h1M628 464.5h1M634 465.5h1M627 468.5h1M635 470.5h1M637 472.5h1M624 473.5h1M628 474.5h1M620 475.5h1M623 475.5h1M608 476.5h1M642 476.5h1M630 479.5h1M633 481.5h1M644 483.5h1M626 484.5h1M641 487.5h1M597 489.5h1M637 489.5h2M640 489.5h1M636 490.5h1M641 490.5h1M639 493.5h1M647 493.5h1M642 495.5h1M640 496.5h3M619 500.5h1M648 501.5h1M638 504.5h1M639 505.5h1M647 506.5h2" stroke="#96ff69"/>
<path d="M600 415.5h1M599 417.5h1M606 418.5h1M635 419.5h2M599 420.5h1M598 421.5h1M599 422.5h1M615 433.5h1M646 434.5h1M614 436.5h1M609 437.5h1M616 437.5h1M611 439.5h1M611 440.5h1M616 442.5h1M627 442.5h1M609 446.5h1M616 451.5h1M623 451.5h1M615 454.5h1M624 455.5h1M628 456.5h1M639 458.5h1M627 460.5h1M621 462.5h1M639 466.5h1M621 475.5h2M635 478.5h1M633 479.5h1M638 480.5h1M641 481.5h1M636 484.5h1M641 484.5h1M643 486.5h1M636 487.5h1M598 489.5h1M603 489.5h1M639 489.5h1M637 490.5h1M640 490.5h1M614 500.5h1M647 507.5h1" stroke="#c2ff3d"/>
<path d="M600 416.5h1M606 417.5h1M607 419.5h1M613 421.5h1M599 424.5h1M603 427.5h1M614 428.5h1M599 429.5h3M605 431.5h1M610 432.5h1M612 434.5h1M608 436.5h1M616 438.5h1M609 441.5h1M609 442.5h1M609 444.5h1M616 444.5h1M611 446.5h1M618 446.5h1M615 448.5h1M621 448.5h1M616 450.5h1M622 450.5h1M615 452.5h1M616 453.5h1M627 457.5h1M643 458.5h1M621 459.5h1M621 461.5h1M641 461.5h1M643 461.5h1M623 463.5h1M630 467.5h1M636 467.5h1M633 468.5h1M634 469.5h1M630 470.5h1M628 472.5h1M632 472.5h1M633 474.5h1M631 475.5h1M635 476.5h1M637 477.5h1M642 477.5h1M636 478.5h2M642 478.5h1M631 479.5h2M637 479.5h1M638 483.5h1M613 485.5h1M633 486.5h1M637 487.5h1M640 487.5h1M633 488.5h1M637 488.5h1M599 489.5h2M602 489.5h1M638 490.5h2M642 492.5h1M647 495.5h1M648 499.5h1M630 501.5h1M636 501.5h1M647 502.5h1M643 504.5h1M642 505.5h1M645 508.5h1" stroke="#eeff11"/>
<path d="M606 416.5h1M600 423.5h1M623 423.5h1M629 423.5h1M606 424.5h1M604 425.5h1M610 425.5h1M605 426.5h1M608 428.5h1M611 429.5h1M605 430.5h1M603 432.5h1M614 433.5h1M605 434.5h1M632 434.5h1M606 435.5h1M613 435.5h1M634 436.5h1M617 439.5h1M610 443.5h1M621 452.5h1M626 456.5h2M621 457.5h1M642 461.5h1M630 463.5h1M628 465.5h1M633 466.5h1M639 469.5h1M633 471.5h1M634 472.5h1M630 473.5h1M629 474.5h1M627 475.5h1M624 478.5h1M638 478.5h1M634 479.5h1M636 479.5h1M634 481.5h2M637 482.5h1M640 482.5h1M642 484.5h2M642 485.5h1M646 485.5h1M640 486.5h1M638 487.5h2M601 489.5h1M646 491.5h1M643 495.5h1M644 498.5h1M639 504.5h1M640 505.5h1M644 505.5h1M646 505.5h1M641 508.5h1" stroke="#ffe300"/>
<path d="M600 413.5h1M606 413.5h1M599 414.5h1M606 415.5h1M600 418.5h1M601 419.5h1M605 421.5h1M606 423.5h1M611 426.5h1M604 429.5h1M611 431.5h1M614 432.5h1M640 432.5h1M606 433.5h1M612 433.5h2M597 434.5h1M633 434.5h1M630 436.5h1M617 440.5h1M615 441.5h1M616 443.5h1M610 445.5h1M616 445.5h1M616 447.5h1M621 447.5h1M622 453.5h1M622 454.5h1M622 458.5h1M631 460.5h1M633 460.5h1M626 461.5h1M629 461.5h1M627 462.5h1M621 464.5h1M633 465.5h1M628 468.5h1M634 470.5h1M628 471.5h1M632 474.5h1M636 476.5h1M635 479.5h1M642 486.5h1M632 489.5h1M647 492.5h1M640 493.5h1M644 495.5h1M640 504.5h1M642 504.5h1M641 505.5h1M645 505.5h1M642 507.5h1" stroke="#ffb700"/>
<path d="M604 414.5h1M601 415.5h1M600 417.5h1M600 420.5h1M606 420.5h1M599 421.5h1M614 421.5h1M600 422.5h1M605 422.5h1M624 423.5h5M599 425.5h1M609 427.5h1M610 430.5h1M612 430.5h1M612 432.5h2M646 432.5h1M613 436.5h1M610 438.5h1M612 440.5h1M622 449.5h1M616 454.5h1M618 455.5h1M621 456.5h1M627 458.5h1M640 458.5h3M627 459.5h1M621 460.5h1M626 460.5h1M632 460.5h1M627 464.5h1M631 470.5h1M629 472.5h1M631 472.5h1M635 472.5h2M625 473.5h1M629 473.5h1M630 474.5h2M637 476.5h1M641 476.5h1M638 477.5h1M641 477.5h1M643 480.5h1M638 482.5h2M627 484.5h1M635 484.5h1M643 485.5h3M634 486.5h2M637 486.5h1M641 486.5h1M634 488.5h3M636 489.5h1M641 491.5h1M645 491.5h1M646 493.5h1M645 495.5h2M647 498.5h1M641 504.5h1M646 507.5h1" stroke="#ff8b00"/>
<path d="M605 418.5h1M600 424.5h1M597 425.5h1M604 427.5h1M613 428.5h1M605 429.5h1M635 429.5h1M611 430.5h1M606 431.5h1M609 432.5h1M611 434.5h1M609 436.5h1M631 436.5h3M610 437.5h1M615 437.5h1M615 438.5h1M612 439.5h1M610 441.5h1M610 442.5h1M615 442.5h1M610 444.5h1M615 444.5h1M612 446.5h1M617 446.5h1M616 448.5h1M620 448.5h1M610 449.5h1M617 449.5h1M617 450.5h1M621 450.5h1M617 451.5h1M622 451.5h1M616 452.5h1M617 453.5h1M623 455.5h1M622 461.5h1M625 461.5h1M627 461.5h2M622 462.5h1M624 463.5h1M638 466.5h1M635 467.5h1M632 468.5h1M635 469.5h1M632 470.5h2M630 472.5h1M628 475.5h1M630 475.5h1M638 476.5h3M639 477.5h2M631 478.5h1M639 480.5h1M636 481.5h1M640 481.5h1M643 483.5h1M647 491.5h2M615 500.5h1M618 500.5h1M648 502.5h1" stroke="#ff5e00"/>
<path d="M601 416.5h1M605 416.5h1M605 417.5h1M606 419.5h1M605 424.5h1M598 425.5h1M605 425.5h1M609 425.5h1M606 426.5h1M606 429.5h1M610 429.5h1M610 431.5h1M604 432.5h1M606 434.5h1M648 434.5h1M607 435.5h1M612 435.5h1M616 439.5h1M621 442.5h1M611 443.5h1M615 443.5h1M620 452.5h1M621 453.5h1M621 454.5h1M625 456.5h1M626 457.5h1M622 459.5h1M623 461.5h2M629 463.5h1M629 465.5h1M632 465.5h1M634 466.5h1M631 467.5h1M629 468.5h1M638 469.5h1M629 475.5h1M609 476.5h1M613 476.5h1M641 478.5h1M648 484.5h1M618 485.5h1M633 489.5h1M643 492.5h1M616 500.5h2M643 507.5h1M645 507.5h1" stroke="#ff3200"/>
<path d="M601 413.5h1M605 413.5h1M600 414.5h1M602 415.5h1M605 415.5h1M601 418.5h1M602 419.5h1M601 420.5h1M605 420.5h1M604 421.5h1M601 422.5h1M604 422.5h1M601 423.5h1M605 423.5h1M610 426.5h1M608 427.5h1M609 428.5h1M631 429.5h1M606 430.5h1M607 431.5h1M607 433.5h1M611 433.5h1M610 436.5h1M612 436.5h1M613 439.5h1M613 440.5h1M616 440.5h1M614 441.5h1M614 442.5h1M626 442.5h1M611 445.5h1M615 445.5h1M606 446.5h1M617 447.5h1M620 447.5h1M617 448.5h1M619 448.5h1M604 449.5h1M608 449.5h2M617 454.5h1M622 456.5h1M622 457.5h1M623 458.5h1M622 460.5h1M625 460.5h1M626 462.5h1M622 464.5h1M630 465.5h2M637 466.5h1M630 468.5h2M636 469.5h2M632 471.5h1M626 473.5h3M639 478.5h2M639 483.5h1M644 484.5h1M614 485.5h1M634 489.5h2M646 492.5h1M641 493.5h1M645 493.5h1M644 507.5h1M644 508.5h1" stroke="#ff0600"/>
<path d="M603 414.5h1M603 415.5h2M602 416.5h1M601 417.5h1M602 418.5h1M604 418.5h1M602 420.5h3M600 421.5h1M602 422.5h2M601 424.5h1M604 424.5h1M606 425.5h3M607 426.5h1M605 427.5h1M607 427.5h1M612 428.5h1M607 429.5h3M607 430.5h3M608 431.5h2M605 432.5h1M608 432.5h1M641 432.5h1M645 432.5h1M608 433.5h1M610 433.5h1M598 434.5h1M610 434.5h1M647 434.5h1M608 435.5h1M611 435.5h1M611 436.5h1M611 437.5h1M611 438.5h1M614 438.5h1M614 439.5h2M614 440.5h2M611 441.5h3M611 442.5h3M612 443.5h3M611 444.5h1M614 444.5h1M613 446.5h1M616 446.5h1M618 447.5h2M618 448.5h1M605 449.5h1M621 449.5h1M618 450.5h3M617 452.5h3M618 453.5h3M619 455.5h1M622 455.5h1M623 456.5h2M626 458.5h1M626 459.5h1M623 460.5h1M623 462.5h1M625 463.5h1M628 463.5h1M626 464.5h1M635 466.5h2M632 467.5h3M629 471.5h1M625 478.5h1M642 480.5h1M637 481.5h3M628 484.5h1M615 485.5h1M642 491.5h3M644 492.5h2M645 498.5h2M631 501.5h1M635 501.5h1M642 508.5h1" stroke="#d80000"/>
<path d="M602 413.5h1M604 413.5h1M601 414.5h2M603 416.5h2M604 417.5h1M603 418.5h1M603 419.5h3M601 421.5h3M602 423.5h1M604 423.5h1M602 424.5h2M608 426.5h2M606 427.5h1M610 428.5h2M634 429.5h1M606 432.5h2M642 432.5h3M603 433.5h1M609 433.5h1M607 434.5h3M609 435.5h2M614 437.5h1M612 438.5h2M612 444.5h2M612 445.5h3M607 446.5h2M614 446.5h2M607 449.5h1M618 449.5h1M618 451.5h1M621 451.5h1M618 454.5h3M620 455.5h2M623 457.5h1M625 457.5h1M624 458.5h2M623 459.5h3M624 460.5h1M624 462.5h2M626 463.5h2M623 464.5h1M631 471.5h1M610 476.5h3M640 480.5h2M640 483.5h3M645 484.5h1M647 484.5h1M616 485.5h2M636 486.5h1M642 493.5h1M644 493.5h1M643 508.5h1" stroke="#ac0000"/>
<path d="M603 413.5h1M602 417.5h2M603 423.5h1M632 429.5h2M597 433.5h6M599 434.5h6M612 437.5h2M622 442.5h4M606 449.5h1M619 449.5h2M619 451.5h2M624 457.5h1M624 464.5h2M630 471.5h1M626 478.5h5M629 484.5h6M646 484.5h1M643 493.5h1M632 501.5h3" stroke="#800000"/>
</g>
<rect x="596.8" y="412.8" width="52" height="96" fill="none" stroke="#555" stroke-width=".6"/>
<defs><linearGradient id="jet" x1="0" y1="1" x2="0" y2="0"><stop offset="0" stop-color="#000080"/><stop offset=".1" stop-color="#0000ff"/><stop offset=".2" stop-color="#0080ff"/><stop offset=".4" stop-color="#00ffff"/><stop offset=".5" stop-color="#80ff80"/><stop offset=".6" stop-color="#ffff00"/><stop offset=".8" stop-color="#ff8000"/><stop offset=".9" stop-color="#ff0000"/><stop offset="1" stop-color="#800000"/></linearGradient></defs>
<rect x="654.2" y="413" width="5.6" height="96" fill="url(#jet)" stroke="#555" stroke-width=".5"/>
<text x="663.6" y="417.8">Max</text>
<text x="663.8" y="513.4">0</text>
<text x="677.2" y="461" text-anchor="middle" transform="rotate(-90 677.2 461)">Ca<tspan dy="-3.6" font-size="7.5">2+</tspan><tspan dy="3.6">event rate</tspan></text>
<text x="405.2" y="404.4" text-anchor="middle">C<tspan dy="3.2" font-size="7.5">1</tspan></text>
<text x="562" y="404.4" text-anchor="middle">C<tspan dy="3.2" font-size="7.5">2</tspan></text>
<text x="376.6" y="417.8" text-anchor="end">1</text>
<text x="376.6" y="513" text-anchor="end">202</text>
<text x="532.2" y="417.8" text-anchor="end">1</text>
<text x="532.2" y="513" text-anchor="end">209</text>
<text x="371.4" y="461" text-anchor="middle" transform="rotate(-90 371.4 461)">Cell order</text>
<text x="526.8" y="460" text-anchor="middle" transform="rotate(-90 526.8 460)">Cell order</text>
<text x="404.8" y="522.4" text-anchor="middle">Internal</text>
<text x="404.8" y="536.8" text-anchor="middle">state</text>
<text x="468.2" y="522.4" text-anchor="middle">Position</text>
<text x="560.6" y="522.4" text-anchor="middle">Internal</text>
<text x="560.6" y="536.8" text-anchor="middle">state</text>
<text x="623.4" y="522.4" text-anchor="middle">Position</text>
<line x1="464.8" y1="407.1" x2="448.9" y2="407.1" stroke="#1a1a1a" stroke-width="1.1"/>
<polygon points="445,407.1 449.4,405 449.4,409.2" fill="#1a1a1a"/>
<line x1="625.2" y1="407.1" x2="641.9" y2="407.1" stroke="#1a1a1a" stroke-width="1.1"/>
<polygon points="645.8,407.1 641.4,409.2 641.4,405" fill="#1a1a1a"/>
<g transform="translate(468.4 405.6) scale(1 1)"><path d="M0,2.6 C.6,1.2 2.2,-.6 4.2,-1.6 C4.6,-2.6 5.6,-2.8 6,-1.9 C8,-3.4 11.6,-3.6 13.4,-1.6 C14.6,-.2 14.8,1.6 14.2,3.2 L12.6,3.4 L12.2,4.1 L10.4,4.1 L10.6,3.4 L5.4,3.4 L5.2,4.1 L3.4,4.1 L3.6,3.3 C2.2,3.3 .8,3.2 0,2.6Z" fill="#0a0a0a"/><path d="M14,2.2 C17,3.6 20,1.2 23,1.6 C25,1.8 26,2.8 27,3.4" fill="none" stroke="#222" stroke-width=".6"/></g>
<g transform="translate(622.6 406.4) scale(-1 1)"><path d="M0,2.6 C.6,1.2 2.2,-.6 4.2,-1.6 C4.6,-2.6 5.6,-2.8 6,-1.9 C8,-3.4 11.6,-3.6 13.4,-1.6 C14.6,-.2 14.8,1.6 14.2,3.2 L12.6,3.4 L12.2,4.1 L10.4,4.1 L10.6,3.4 L5.4,3.4 L5.2,4.1 L3.4,4.1 L3.6,3.3 C2.2,3.3 .8,3.2 0,2.6Z" fill="#0a0a0a"/><path d="M14,2.2 C17,3.6 20,1.2 23,1.6 C25,1.8 26,2.8 27,3.4" fill="none" stroke="#222" stroke-width=".6"/></g>
</svg></body></html>
